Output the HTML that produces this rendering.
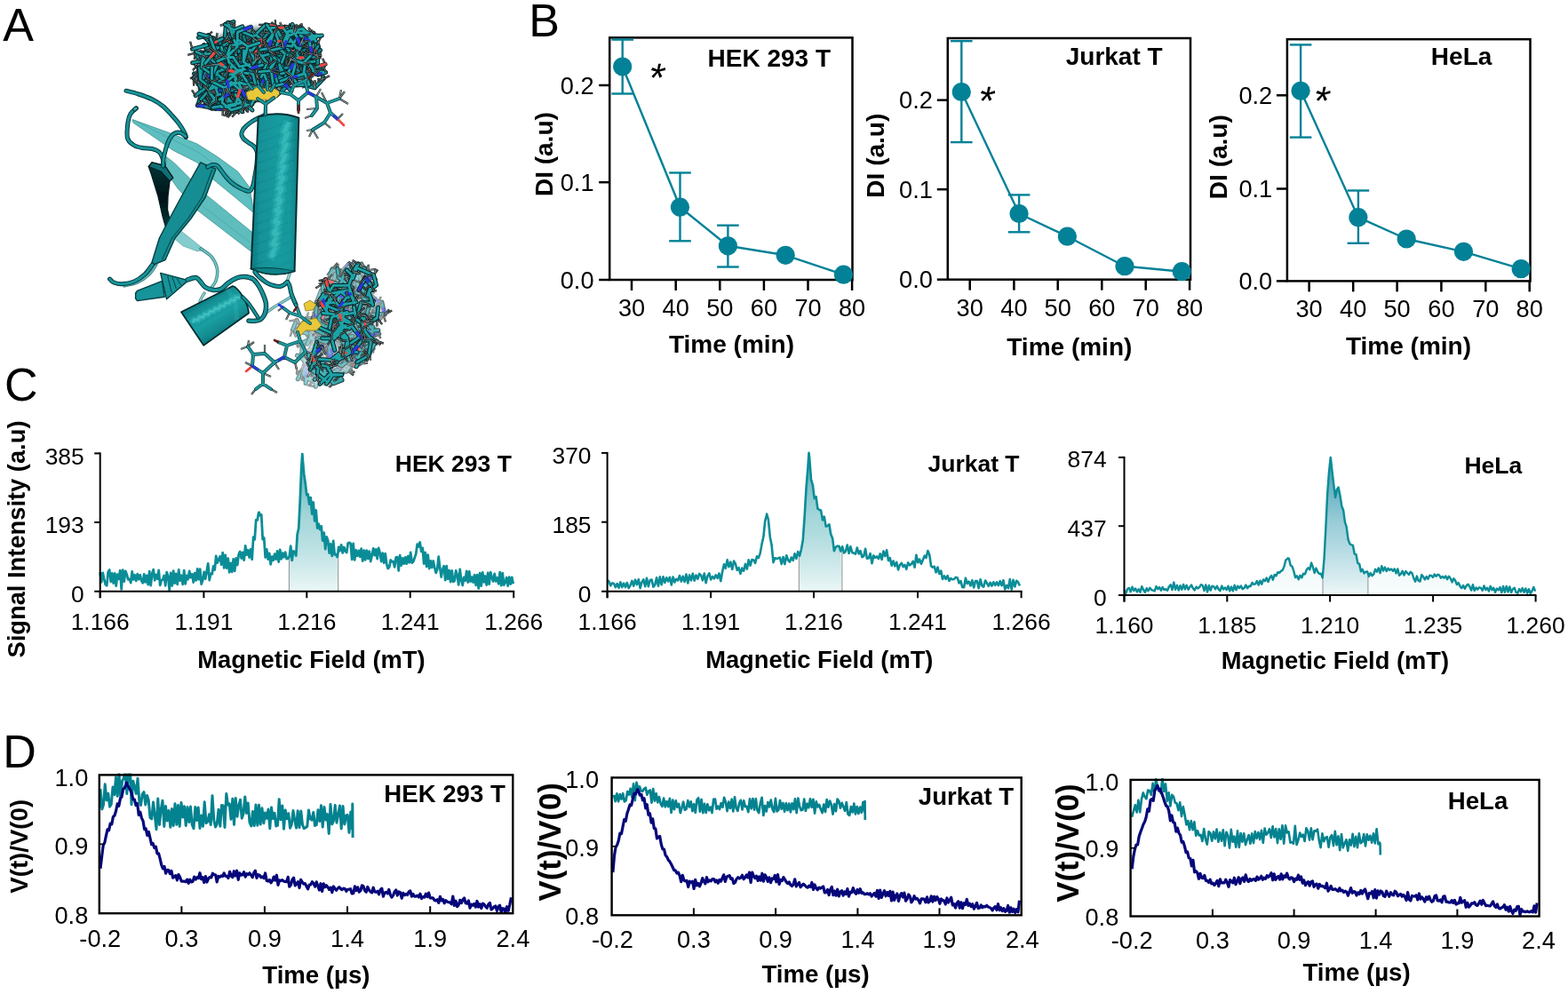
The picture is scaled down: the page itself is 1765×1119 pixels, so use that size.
<!DOCTYPE html>
<html lang="en"><head><meta charset="utf-8"><title>Figure</title>
<style>html,body{margin:0;padding:0;background:#fff}body{width:1765px;height:1119px;overflow:hidden;position:relative}svg{position:absolute;left:0;top:0;display:block}text{font-family:"Liberation Sans",sans-serif;fill:#000}</style></head><body>
<svg width="1765" height="1119" viewBox="0 0 1765 1119">
<defs><linearGradient id="gfill" x1="0" y1="0" x2="0" y2="1"><stop offset="0" stop-color="#2a9aa6" stop-opacity="0.85"/><stop offset="0.45" stop-color="#7cc4c9" stop-opacity="0.7"/><stop offset="1" stop-color="#eaf6f6" stop-opacity="0.9"/></linearGradient><linearGradient id="gfill3" x1="0" y1="0" x2="0" y2="1"><stop offset="0" stop-color="#2b8fa8" stop-opacity="0.9"/><stop offset="0.5" stop-color="#86c3d1" stop-opacity="0.75"/><stop offset="1" stop-color="#edf7f8" stop-opacity="0.9"/></linearGradient><linearGradient id="gfaint" x1="0" y1="0" x2="0" y2="1"><stop offset="0" stop-color="#b9dfe3" stop-opacity="0.7"/><stop offset="1" stop-color="#f4fbfb" stop-opacity="0.6"/></linearGradient></defs>
<rect width="1765" height="1119" fill="#fff"/>
<text x="3.3" y="45.5" font-size="52" text-anchor="start">A</text>
<text x="595.3" y="41.4" font-size="52" text-anchor="start">B</text>
<text x="4.9" y="450.6" font-size="52" text-anchor="start">C</text>
<text x="3.3" y="864.3" font-size="52" text-anchor="start">D</text>
<defs><linearGradient id="cyl" x1="0" y1="0" x2="1" y2="0"><stop offset="0" stop-color="#0c7a7f"/><stop offset="0.18" stop-color="#139197"/><stop offset="0.55" stop-color="#189b9f"/><stop offset="0.8" stop-color="#17999d"/><stop offset="1" stop-color="#0d7d82"/></linearGradient><linearGradient id="cyl2" gradientUnits="userSpaceOnUse" x1="232" y1="335" x2="254" y2="372"><stop offset="0" stop-color="#0d7d82"/><stop offset="0.25" stop-color="#16969a"/><stop offset="0.6" stop-color="#1a9ea1"/><stop offset="1" stop-color="#0e8085"/></linearGradient><linearGradient id="twist" x1="0" y1="0" x2="0" y2="1"><stop offset="0" stop-color="#04383c"/><stop offset="0.5" stop-color="#011214"/><stop offset="1" stop-color="#06474b"/></linearGradient><filter id="soft" x="-5%" y="-5%" width="110%" height="110%"><feGaussianBlur stdDeviation="0.6"/></filter><filter id="cblur" x="-5%" y="-5%" width="110%" height="110%"><feGaussianBlur stdDeviation="0.55"/></filter><filter id="blur3" x="-20%" y="-20%" width="140%" height="140%"><feGaussianBlur stdDeviation="3"/></filter></defs>
<g filter="url(#soft)">
<path d="M149.1 134.6 L194.7 151 L222 162 L244.8 176.5 L267.6 193 L281 211 L286 240 L262 220 L240 202 L222 183 L194.7 169.2 L176.5 156.5 L150 138.2 Z" fill="#48b6b7" fill-opacity="0.88" stroke="#2d7f80" stroke-width="0.9" stroke-opacity="0.7"/>
<path d="M152 136 L196 158 L224 172 L246 188 L270 208 L284 226" fill="none" stroke="#3f9999" stroke-width="0.8" stroke-opacity="0.7"/>
<path d="M187.4 176.5 L196.5 183.8 L213 200.2 L232 219.2 L284.5 262 L282.4 283 L222 236.5 L200 212 L186 192 Z" fill="#43b1b2" fill-opacity="0.85" stroke="#2d7f80" stroke-width="0.9" stroke-opacity="0.7"/>
<path d="M228 232 L283 274" fill="none" stroke="#3f9999" stroke-width="0.8" stroke-opacity="0.6"/>
<path d="M196 254 L214 268 L230 281 L222 283 L206 277 L193 266 Z" fill="#6fc3c4" fill-opacity="0.85" stroke="#3b8686" stroke-width="0.7" stroke-opacity="0.6"/>
<g opacity="0.9" fill="none" stroke-linecap="round" stroke-linejoin="round"><path d="M226 280 C228 281.5 234.9 285.2 238 289 C241.1 292.8 243.7 298.5 244.5 303 C245.3 307.5 244.2 312.3 243 316 C241.8 319.7 238 323.5 237 325" stroke="#2f7f80" stroke-width="3.6"/><path d="M226 280 C228 281.5 234.9 285.2 238 289 C241.1 292.8 243.7 298.5 244.5 303 C245.3 307.5 244.2 312.3 243 316 C241.8 319.7 238 323.5 237 325" stroke="#6cc6c6" stroke-width="1.6"/></g>
<g opacity="0.85" fill="none" stroke-linecap="round" stroke-linejoin="round"><path d="M300 318 C302 318.7 308.3 322 312 322 C315.7 322 319.7 320.3 322 318 C324.3 315.7 325.3 309.7 326 308" stroke="#3f8888" stroke-width="3.6"/><path d="M300 318 C302 318.7 308.3 322 312 322 C315.7 322 319.7 320.3 322 318 C324.3 315.7 325.3 309.7 326 308" stroke="#7fcdcd" stroke-width="1.6"/></g>
<g opacity="0.85" fill="none" stroke-linecap="round" stroke-linejoin="round"><path d="M300 352 C301.3 351 305 348 308 346 C311 344 314.7 342 318 340 C321.3 338 326.3 335 328 334" stroke="#3f8888" stroke-width="3.4"/><path d="M300 352 C301.3 351 305 348 308 346 C311 344 314.7 342 318 340 C321.3 338 326.3 335 328 334" stroke="#7fcdcd" stroke-width="1.4"/></g>
<g opacity="0.85" fill="none" stroke-linecap="round" stroke-linejoin="round"><path d="M230 330 C229.2 331.7 225.3 337 225 340 C224.7 343 227.5 346.7 228 348" stroke="#3f8888" stroke-width="3.4"/><path d="M230 330 C229.2 331.7 225.3 337 225 340 C224.7 343 227.5 346.7 228 348" stroke="#7fcdcd" stroke-width="1.4"/></g>
<g opacity="0.9" fill="none" stroke-linecap="round" stroke-linejoin="round"><path d="M176 298 C174.7 299.8 171.5 305.7 168 309 C164.5 312.3 159.7 315.8 155 318 C150.3 320.2 142.5 321.3 140 322" stroke="#2f7b7c" stroke-width="3.2"/><path d="M176 298 C174.7 299.8 171.5 305.7 168 309 C164.5 312.3 159.7 315.8 155 318 C150.3 320.2 142.5 321.3 140 322" stroke="#54b9ba" stroke-width="1.2"/></g>
<path d="M167.3 187.5 L171 182.9 L185.6 186.5 L194.7 200.2 L191 203.9 L189 221 L188.5 236 L192 252 L189 264 L183.2 244 L178 221 L170 195 Z" fill="url(#twist)" stroke="#021c1e" stroke-width="1.3" stroke-linejoin="round"/>
<path d="M167.3 187.5 L171 182.9 L185.6 186.5 L194.7 200.2 L191 203.9 L181 193 Z" fill="#0c6f74" stroke="#021c1e" stroke-width="1.2" stroke-linejoin="round"/>
<g fill="none" stroke-linecap="round" stroke-linejoin="round"><path d="M153.5 122 C152.4 123 148.6 125.4 147 128 C145.4 130.6 144.6 133 144 137.6 C143.4 142.2 142.5 151.1 143.5 155.3 C144.5 159.5 147.2 161.1 150 163 C152.8 164.9 156.5 165.8 160 166.5 C163.5 167.2 168 166.8 171.2 167.5 C174.4 168.2 177 169.2 179 171 C181 172.8 182.1 175.3 183 178 C183.9 180.7 184.2 185.5 184.5 187" stroke="#04353a" stroke-width="5"/><path d="M153.5 122 C152.4 123 148.6 125.4 147 128 C145.4 130.6 144.6 133 144 137.6 C143.4 142.2 142.5 151.1 143.5 155.3 C144.5 159.5 147.2 161.1 150 163 C152.8 164.9 156.5 165.8 160 166.5 C163.5 167.2 168 166.8 171.2 167.5 C174.4 168.2 177 169.2 179 171 C181 172.8 182.1 175.3 183 178 C183.9 180.7 184.2 185.5 184.5 187" stroke="#149499" stroke-width="3"/></g>
<ellipse cx="152.3" cy="122.5" rx="3" ry="2" transform="rotate(-40 152.3 122.5)" fill="#3aa5a7" stroke="#063f42" stroke-width="1"/>
<g fill="none" stroke-linecap="round" stroke-linejoin="round"><path d="M142 102.2 C144.3 102.8 151.1 104.4 156 106 C160.9 107.6 166.5 109.5 171.2 111.8 C175.9 114.1 180.2 116.8 184 120 C187.8 123.2 191.3 127.5 194.3 130.8 C197.3 134.1 199.7 136.8 202 140 C204.3 143.2 206.7 147.4 207.9 149.8 C209.1 152.2 209.1 153.7 209.3 154.5" stroke="#04353a" stroke-width="5"/><path d="M142 102.2 C144.3 102.8 151.1 104.4 156 106 C160.9 107.6 166.5 109.5 171.2 111.8 C175.9 114.1 180.2 116.8 184 120 C187.8 123.2 191.3 127.5 194.3 130.8 C197.3 134.1 199.7 136.8 202 140 C204.3 143.2 206.7 147.4 207.9 149.8 C209.1 152.2 209.1 153.7 209.3 154.5" stroke="#149499" stroke-width="3"/></g>
<g fill="none" stroke-linecap="round" stroke-linejoin="round"><path d="M209 153.5 C208 152.8 205 150.1 203 149.5 C201 148.9 198.8 149.1 197 149.8 C195.2 150.6 193.8 152.2 192.5 154 C191.2 155.8 190 158 188.9 160.7 C187.8 163.4 186.8 167.1 186 170 C185.2 172.9 184.5 175.6 184.1 178.4 C183.7 181.2 183.7 185.6 183.6 187" stroke="#04353a" stroke-width="5"/><path d="M209 153.5 C208 152.8 205 150.1 203 149.5 C201 148.9 198.8 149.1 197 149.8 C195.2 150.6 193.8 152.2 192.5 154 C191.2 155.8 190 158 188.9 160.7 C187.8 163.4 186.8 167.1 186 170 C185.2 172.9 184.5 175.6 184.1 178.4 C183.7 181.2 183.7 185.6 183.6 187" stroke="#149499" stroke-width="3"/></g>
<path d="M225.7 182.9 L236 187.5 L243 190.2 L231.2 222 L215 246 L197 268 L186.1 292.5 L169.8 299.3 L179.4 268 L192 244 L203.8 222 Z" fill="#128d92" stroke="#063f42" stroke-width="1.4" stroke-linejoin="round"/>
<path d="M239 190.5 L227.5 222 L211.5 246 L193.5 268 L182.5 292" fill="none" stroke="#063f42" stroke-width="1"/>
<g fill="none" stroke-linecap="round" stroke-linejoin="round"><path d="M233.7 187.9 C234.6 187.5 237.2 185.7 239 185.5 C240.8 185.3 242.9 185.4 244.6 186.5 C246.3 187.6 247.4 189.9 249 192 C250.6 194.1 252.3 196.6 254.1 198.8 C255.9 201 257.9 203.2 260 205 C262.1 206.8 264.1 208.3 266.4 209.7 C268.7 211.1 271.5 212.6 274 213.5 C276.5 214.4 279.5 216 281.3 215.1 C283.1 214.2 284.1 210.7 285 208 C285.9 205.3 286.1 202.6 286.8 198.8 C287.5 195 288.6 189.5 289 185 C289.4 180.5 290 174.9 289.5 171.6 C289 168.3 287.6 166.8 286 165 C284.4 163.2 282 162.2 280 160.7 C278 159.2 275.4 157.6 274 156 C272.6 154.4 271.9 152.9 271.8 151.2 C271.7 149.5 272.6 147.6 273.5 146 C274.4 144.4 275.6 143.3 277.3 141.7 C279.1 140.1 281.5 138.1 284 136.5 C286.5 134.9 289.8 133.4 292.2 132.2 C294.6 131 297.3 129.9 298.3 129.4" stroke="#04353a" stroke-width="5"/><path d="M233.7 187.9 C234.6 187.5 237.2 185.7 239 185.5 C240.8 185.3 242.9 185.4 244.6 186.5 C246.3 187.6 247.4 189.9 249 192 C250.6 194.1 252.3 196.6 254.1 198.8 C255.9 201 257.9 203.2 260 205 C262.1 206.8 264.1 208.3 266.4 209.7 C268.7 211.1 271.5 212.6 274 213.5 C276.5 214.4 279.5 216 281.3 215.1 C283.1 214.2 284.1 210.7 285 208 C285.9 205.3 286.1 202.6 286.8 198.8 C287.5 195 288.6 189.5 289 185 C289.4 180.5 290 174.9 289.5 171.6 C289 168.3 287.6 166.8 286 165 C284.4 163.2 282 162.2 280 160.7 C278 159.2 275.4 157.6 274 156 C272.6 154.4 271.9 152.9 271.8 151.2 C271.7 149.5 272.6 147.6 273.5 146 C274.4 144.4 275.6 143.3 277.3 141.7 C279.1 140.1 281.5 138.1 284 136.5 C286.5 134.9 289.8 133.4 292.2 132.2 C294.6 131 297.3 129.9 298.3 129.4" stroke="#149499" stroke-width="3"/></g>
<g fill="none" stroke-linecap="round" stroke-linejoin="round"><path d="M171.5 298 C170.1 299.8 166.4 305.6 163 308.8 C159.6 312 155.1 315.2 150.8 317 C146.5 318.8 141 319.5 137.2 319.7 C133.4 319.9 130.3 318.9 128 318 C125.7 317.1 124.3 314.8 123.6 314.2" stroke="#04353a" stroke-width="5"/><path d="M171.5 298 C170.1 299.8 166.4 305.6 163 308.8 C159.6 312 155.1 315.2 150.8 317 C146.5 318.8 141 319.5 137.2 319.7 C133.4 319.9 130.3 318.9 128 318 C125.7 317.1 124.3 314.8 123.6 314.2" stroke="#149499" stroke-width="3"/></g>
<path d="M154.5 327.3 L182.5 316.3 L185.2 334.2 L154.5 338.6 L152.6 336 L152.6 330 Z" fill="#149499" stroke="#063f42" stroke-width="1.4" stroke-linejoin="round"/>
<path d="M180.7 307.4 L212 315.6 L187.5 336.7 Z" fill="#149499" stroke="#063f42" stroke-width="1.4" stroke-linejoin="round"/>
<path d="M188.7 310.8 L193.3 329.3" stroke="#063f42" stroke-width="1" fill="none"/>
<path d="M193.9 312.1 L198.5 325.1" stroke="#063f42" stroke-width="1" fill="none"/>
<path d="M199.1 313.4 L203.7 320.9" stroke="#063f42" stroke-width="1" fill="none"/>
<path d="M204 351.2 L262 322 C268.5 324 279.5 341 280 352.5 L229.2 388.8 Z" fill="url(#cyl2)" stroke="#03292d" stroke-width="1.7" stroke-linejoin="round"/>
<path d="M217 363.5 L218.3 359.9 L222.9 360.3 L224.2 356.7 L228.8 357.2 L230.1 353.6 L234.7 354 L236 350.4 L240.6 350.8 L241.9 347.2 L246.4 347.7 L247.7 344.1 L252.3 344.5 L253.6 340.9 L258.2 341.3 L259.5 337.7 L264.1 338.2 L265.4 334.6 L270 335" fill="none" stroke="#45cccb" stroke-width="6.5" stroke-opacity="0.33" stroke-linejoin="round"/>
<path d="M217 363.5 L218.3 359.9 L222.9 360.3 L224.2 356.7 L228.8 357.2 L230.1 353.6 L234.7 354 L236 350.4 L240.6 350.8 L241.9 347.2 L246.4 347.7 L247.7 344.1 L252.3 344.5 L253.6 340.9 L258.2 341.3 L259.5 337.7 L264.1 338.2 L265.4 334.6 L270 335" fill="none" stroke="#6fe0dc" stroke-width="2.4" stroke-opacity="0.4" stroke-linejoin="round"/>
<path d="M252 323 C262 330 268 345 266 360" fill="none" stroke="#3fc4c4" stroke-width="5" stroke-opacity="0.22"/>
<g fill="none" stroke-linecap="round" stroke-linejoin="round"><path d="M211 315 C212 314.7 215.2 313.4 217 313 C218.8 312.6 220 312.1 221.5 312.9 C223 313.6 224.4 315.7 226 317.5 C227.6 319.3 228.9 322 231.3 323.5 C233.7 325 237.6 326.2 240.5 326.5 C243.4 326.8 246.2 326.5 249 325.2 C251.8 323.9 254.1 320.6 257 318.5 C259.9 316.4 263.4 314.1 266.4 312.9 C269.4 311.7 272 311.3 275 311.5 C278 311.7 281.7 312.2 284.4 313.9 C287.1 315.6 289 318.6 291 321.5 C293 324.4 294.8 328.4 296.2 331.6 C297.6 334.9 298.8 338.1 299.3 341 C299.8 343.9 299.5 346.9 299.1 349.3 C298.7 351.7 298 353.8 297 355.5 C296 357.2 294.9 358.6 293.2 359.6 C291.5 360.6 289.2 361.1 287 361.3 C284.8 361.6 281.2 361.1 280 361.1" stroke="#04353a" stroke-width="5.4"/><path d="M211 315 C212 314.7 215.2 313.4 217 313 C218.8 312.6 220 312.1 221.5 312.9 C223 313.6 224.4 315.7 226 317.5 C227.6 319.3 228.9 322 231.3 323.5 C233.7 325 237.6 326.2 240.5 326.5 C243.4 326.8 246.2 326.5 249 325.2 C251.8 323.9 254.1 320.6 257 318.5 C259.9 316.4 263.4 314.1 266.4 312.9 C269.4 311.7 272 311.3 275 311.5 C278 311.7 281.7 312.2 284.4 313.9 C287.1 315.6 289 318.6 291 321.5 C293 324.4 294.8 328.4 296.2 331.6 C297.6 334.9 298.8 338.1 299.3 341 C299.8 343.9 299.5 346.9 299.1 349.3 C298.7 351.7 298 353.8 297 355.5 C296 357.2 294.9 358.6 293.2 359.6 C291.5 360.6 289.2 361.1 287 361.3 C284.8 361.6 281.2 361.1 280 361.1" stroke="#149499" stroke-width="3.4"/></g>
<g fill="none" stroke-linecap="round" stroke-linejoin="round"><path d="M273.4 334.6 C274.3 335.6 277.1 338.1 279 340.5 C280.9 342.9 283.1 346.2 285 349 C286.9 351.8 289.6 356.1 290.5 357.5" stroke="#04353a" stroke-width="4.4"/><path d="M273.4 334.6 C274.3 335.6 277.1 338.1 279 340.5 C280.9 342.9 283.1 346.2 285 349 C286.9 351.8 289.6 356.1 290.5 357.5" stroke="#149499" stroke-width="2.4"/></g>
<path d="M290.7 131.5 Q313 124.5 336.4 132.6 L331.6 305.3 Q307 313.5 282.6 302.6 Z" fill="url(#cyl)" stroke="#03292d" stroke-width="1.9" stroke-linejoin="round"/>
<path d="M282.6 302.6 Q307 299.5 331.6 305.3 Q307 313.5 282.6 302.6 Z" fill="#108489" stroke="#063f42" stroke-width="1.1"/>
<path d="M325 137 L320.1 149 L323.7 149.6 L318.8 161.6 L322.4 162.2 L317.5 174.2 L321.1 174.8 L316.2 186.8 L319.8 187.4 L314.9 199.4 L318.5 200 L313.6 212 L317.2 212.6 L312.3 224.6 L315.9 225.2 L311 237.2 L314.6 237.8 L309.7 249.8 L313.3 250.4 L308.4 262.4 L312 263 L307.1 275 L310.7 275.6 L305.8 287.6 L309.4 288.2" fill="none" stroke="#3cc4c4" stroke-width="11" stroke-opacity="0.3" stroke-linejoin="round"/>
<path d="M325 137 L320.1 149 L323.7 149.6 L318.8 161.6 L322.4 162.2 L317.5 174.2 L321.1 174.8 L316.2 186.8 L319.8 187.4 L314.9 199.4 L318.5 200 L313.6 212 L317.2 212.6 L312.3 224.6 L315.9 225.2 L311 237.2 L314.6 237.8 L309.7 249.8 L313.3 250.4 L308.4 262.4 L312 263 L307.1 275 L310.7 275.6 L305.8 287.6 L309.4 288.2" fill="none" stroke="#5cd8d5" stroke-width="5" stroke-opacity="0.36" stroke-linejoin="round"/>
<path d="M289 150 L333 134 M288.6 161.5 L332.6 145.5 M288.1 173 L332.1 157 M287.6 184.5 L331.6 168.5 M287.2 196 L331.2 180 M286.8 207.5 L330.8 191.5 M286.3 219 L330.3 203 M285.9 230.5 L329.9 214.5 M285.4 242 L329.4 226 M284.9 253.5 L328.9 237.5 M284.5 265 L328.5 249 M284.1 276.5 L328.1 260.5 M283.6 288 L327.6 272 M283.1 299.5 L327.1 283.5 M282.7 311 L326.7 295 " stroke="#0a6065" stroke-width="1.8" stroke-opacity="0.12" fill="none"/>
<g fill="none" stroke-linecap="round" stroke-linejoin="round"><path d="M286.8 306.1 C287.7 307.1 289.7 310 292 312 C294.3 314 297.7 316.7 300.4 318.3 C303.1 319.9 305.5 320.8 308 321.5 C310.5 322.2 313.4 322.6 315.4 322.4 C317.4 322.2 318.6 321.4 320 320.5 C321.4 319.6 322.5 316.9 323.5 317.2 C324.5 317.4 325.3 320 326 322 C326.7 324 326.9 326.9 327.6 329.2 C328.3 331.5 329.1 333.7 330 336 C330.9 338.3 332.5 341.7 333 342.8" stroke="#04353a" stroke-width="5"/><path d="M286.8 306.1 C287.7 307.1 289.7 310 292 312 C294.3 314 297.7 316.7 300.4 318.3 C303.1 319.9 305.5 320.8 308 321.5 C310.5 322.2 313.4 322.6 315.4 322.4 C317.4 322.2 318.6 321.4 320 320.5 C321.4 319.6 322.5 316.9 323.5 317.2 C324.5 317.4 325.3 320 326 322 C326.7 324 326.9 326.9 327.6 329.2 C328.3 331.5 329.1 333.7 330 336 C330.9 338.3 332.5 341.7 333 342.8" stroke="#149499" stroke-width="3"/></g>
<g fill="none"><path d="M298.5 129.5L299 117M299 117L290 111M299 117L309 110" stroke="#0a3e42" stroke-width="3.9" stroke-linecap="round"/><path d="M298.5 129.5L299 117M299 117L290 111M299 117L309 110" stroke="#1b979b" stroke-width="2.5" stroke-linecap="round"/></g>
<g filter="url(#cblur)">
<ellipse cx="292" cy="67" rx="64.5" ry="35.3" transform="rotate(0 292 67)" fill="#06363b" fill-opacity="0.8" filter="url(#blur3)"/><ellipse cx="254" cy="108" rx="31" ry="14.3" transform="rotate(5.7 254 108)" fill="#06363b" fill-opacity="0.8" filter="url(#blur3)"/><g fill="none" stroke-linecap="butt"><path d="M235.2 59L241.9 54.3M235.2 59L226 57.7M232.1 71.4L223.7 70.7M232.1 71.4L226.7 67.4M232.1 71.4L222.9 68.2M329.7 49.9L337.7 45.2M322.5 58.7L322.8 50.1M278.2 66.3L273.7 57.7M278.2 66.3L279.9 72.2M294.4 75.5L285.4 76.1M294.4 75.5L285.2 77.4M333.2 58.9L338.8 61.6M339.5 67.1L332.7 67.6M339.5 67.1L345.3 62.1M343 86.2L347.9 90.3M343 86.2L351.2 87.3M343 86.2L348.3 93M331.4 77.1L337 72M331.4 77.1L336 68.4M331.4 77.1L324 83.2M318.5 83L316 77.5M318.5 83L320.2 92.4M345.1 63.2L335.8 64.6M345.1 63.2L339.4 60.5M345.1 63.2L337.8 62.4M360.6 56.5L358.3 47.1M360.6 56.5L360.7 64.2M346.2 67.1L340.5 61.2M346.2 67.1L347.7 60.6M347.9 77L355.5 72.5M347.9 77L340 75.1M347.9 77L342 72.5M325.7 89.2L322.9 83.5M325.7 89.2L332.7 94M325.7 89.2L329.6 82.7M312.3 77.3L308.3 83.6M312.3 77.3L308.8 82.3M312.3 77.3L309.5 85.9M278.9 84.8L284.6 78.1M278.9 84.8L286.4 89.3M278.9 84.8L279.6 75.8M272.3 72.9L280.5 71.2M272.3 72.9L279.3 68.7M278.2 60.7L268.4 59.5M278.2 60.7L282.3 66.7M278.2 60.7L270.5 62.7M295.1 62L294.7 52.2M270 108.5L279.5 109.3M270 108.5L268 117M270 108.5L268 114.8M271.7 95.2L277.8 98.9M271.7 95.2L278.9 97.2M260.5 83.6L253.3 89.6M250.5 84.2L256.8 88.8M250.5 84.2L251.2 77.6M250.5 84.2L249.9 92.7M264.8 78.9L270.8 77.1M264.8 78.9L268.4 87.7M252.3 86.7L255.3 92.1M252.3 86.7L255.1 94.9M249.5 98.4L257.3 102.5M234 101L235.3 94.9M241.5 108.2L238.5 101.2M241.5 108.2L234.5 103.4M225.7 108.7L233.3 113.8M225.7 108.7L231.8 116.3M238.4 77.1L236.5 71.1M238.4 77.1L235.8 68.6M238.4 77.1L238.4 70.1" stroke="#0c1515" stroke-width="2.3"/><path d="M235.2 59L241.9 54.3M235.2 59L226 57.7M232.1 71.4L223.7 70.7M232.1 71.4L226.7 67.4M232.1 71.4L222.9 68.2M329.7 49.9L337.7 45.2M322.5 58.7L322.8 50.1M278.2 66.3L273.7 57.7M278.2 66.3L279.9 72.2M294.4 75.5L285.4 76.1M294.4 75.5L285.2 77.4M333.2 58.9L338.8 61.6M339.5 67.1L332.7 67.6M339.5 67.1L345.3 62.1M343 86.2L347.9 90.3M343 86.2L351.2 87.3M343 86.2L348.3 93M331.4 77.1L337 72M331.4 77.1L336 68.4M331.4 77.1L324 83.2M318.5 83L316 77.5M318.5 83L320.2 92.4M345.1 63.2L335.8 64.6M345.1 63.2L339.4 60.5M345.1 63.2L337.8 62.4M360.6 56.5L358.3 47.1M360.6 56.5L360.7 64.2M346.2 67.1L340.5 61.2M346.2 67.1L347.7 60.6M347.9 77L355.5 72.5M347.9 77L340 75.1M347.9 77L342 72.5M325.7 89.2L322.9 83.5M325.7 89.2L332.7 94M325.7 89.2L329.6 82.7M312.3 77.3L308.3 83.6M312.3 77.3L308.8 82.3M312.3 77.3L309.5 85.9M278.9 84.8L284.6 78.1M278.9 84.8L286.4 89.3M278.9 84.8L279.6 75.8M272.3 72.9L280.5 71.2M272.3 72.9L279.3 68.7M278.2 60.7L268.4 59.5M278.2 60.7L282.3 66.7M278.2 60.7L270.5 62.7M295.1 62L294.7 52.2M270 108.5L279.5 109.3M270 108.5L268 117M270 108.5L268 114.8M271.7 95.2L277.8 98.9M271.7 95.2L278.9 97.2M260.5 83.6L253.3 89.6M250.5 84.2L256.8 88.8M250.5 84.2L251.2 77.6M250.5 84.2L249.9 92.7M264.8 78.9L270.8 77.1M264.8 78.9L268.4 87.7M252.3 86.7L255.3 92.1M252.3 86.7L255.1 94.9M249.5 98.4L257.3 102.5M234 101L235.3 94.9M241.5 108.2L238.5 101.2M241.5 108.2L234.5 103.4M225.7 108.7L233.3 113.8M225.7 108.7L231.8 116.3M238.4 77.1L236.5 71.1M238.4 77.1L235.8 68.6M238.4 77.1L238.4 70.1" stroke="#9aa6a6" stroke-width="0.65"/><path d="M229.5 50.6L235.2 59M235.2 59L246.9 56M235.2 59L232.1 71.4M324.3 37.4L329.7 49.9M329.7 49.9L342.7 51M329.7 49.9L322.5 58.7M263.8 76.2L278.2 66.3M278.2 66.3L294.4 75.5M336.7 45.4L333.2 58.9M333.2 58.9L341.5 65.6M333.2 58.9L339.5 67.1M339.5 67.1L334.9 77.3M359.4 77.3L343 86.2M343 86.2L331.4 77.1M331.4 77.1L333.5 69.1M331.4 77.1L318.5 83M318.5 83L311.1 75.2M342.2 76.8L345.1 63.2M345.1 63.2L356.5 59.6M345.1 63.2L360.6 56.5M360.6 56.5L346.2 67.1M346.2 67.1L338.5 61.9M346.2 67.1L347.9 77M337.2 84.8L325.7 89.2M325.7 89.2L312.3 77.3M312.3 77.3L316.9 65.4M290.8 83.2L278.9 84.8M278.9 84.8L272.3 72.9M272.3 72.9L278.2 60.7M278.2 60.7L295.1 62M295.1 62L300.3 69.6M282.6 118.8L270 108.5M270 108.5L271.7 95.2M271.7 95.2L260.5 83.6M260.5 83.6L250.5 84.2M278.2 86.2L264.8 78.9M264.8 78.9L252.3 86.7M252.3 86.7L253.7 95.2M252.3 86.7L249.5 98.4M249.5 98.4L259.6 104.5M249.5 98.4L234 101M245.9 99L241.5 108.2M241.5 108.2L245.7 116.5M241.5 108.2L225.7 108.7M225.7 108.7L222.8 118.8M228 70L238.4 77.1M238.4 77.1L236 93.9M236 93.9L247 100.6M236 93.9L246 101.2M250.8 78.6L256.3 93.8M256.3 93.8L245.2 103.1M245.2 103.1L228.2 102M228.2 102L232.7 87.1M319.7 74L331.6 70.8M331.6 70.8L334.8 60M334.8 60L347.7 54.1M347.7 54.1L353.5 59.8M278.1 85.5L294.6 76.1M294.6 76.1L303.5 82.9M294.6 76.1L294.2 65.6M304.6 86.4L295.5 79.6M295.5 79.6L281.5 85.5M262.9 124.2L267.5 109.2M267.5 109.2L261 98.9M261 98.9L247.5 96.6M247.5 96.6L244 87.5M332.8 78.5L319 79.3M319 79.3L314.2 90M319 79.3L308.3 67.4M308.3 67.4L314.9 55.8M314.9 55.8L324.9 58M314.9 55.8L306.4 39.4M306.4 39.4L314.4 30.5M268 68.3L268.6 51.6M268.6 51.6L257 38.8M287.8 72.6L276.6 69.4M276.6 69.4L271.2 56.9M355.9 58.5L354 41.2M354 41.2L347.4 52.7M347.4 52.7L356.1 62.1M347.4 52.7L336.2 52.4M336.2 52.4L330.8 62.3M336.2 52.4L324.8 65.5M324.8 65.5L314.8 65.1M243 73.1L253.4 69.1M253.4 69.1L254.2 54.8M254.2 54.8L267.1 49M267.1 49L267.9 40.2M274.3 40.8L277.1 50.8M277.1 50.8L267.4 64.7M267.4 64.7L253.5 65.9M253.5 65.9L245.2 51.7M320.9 32.3L332.2 40.4M332.2 40.4L330.9 58.6" stroke="#03262a" stroke-width="4.9" stroke-linecap="round"/><path d="M229.5 50.6L235.2 59M235.2 59L246.9 56M235.2 59L232.1 71.4M324.3 37.4L329.7 49.9M329.7 49.9L342.7 51M329.7 49.9L322.5 58.7M263.8 76.2L278.2 66.3M278.2 66.3L294.4 75.5M336.7 45.4L333.2 58.9M333.2 58.9L341.5 65.6M333.2 58.9L339.5 67.1M339.5 67.1L334.9 77.3M359.4 77.3L343 86.2M343 86.2L331.4 77.1M331.4 77.1L333.5 69.1M331.4 77.1L318.5 83M318.5 83L311.1 75.2M342.2 76.8L345.1 63.2M345.1 63.2L356.5 59.6M345.1 63.2L360.6 56.5M360.6 56.5L346.2 67.1M346.2 67.1L338.5 61.9M346.2 67.1L347.9 77M337.2 84.8L325.7 89.2M325.7 89.2L312.3 77.3M312.3 77.3L316.9 65.4M290.8 83.2L278.9 84.8M278.9 84.8L272.3 72.9M272.3 72.9L278.2 60.7M278.2 60.7L295.1 62M295.1 62L300.3 69.6M282.6 118.8L270 108.5M270 108.5L271.7 95.2M271.7 95.2L260.5 83.6M260.5 83.6L250.5 84.2M278.2 86.2L264.8 78.9M264.8 78.9L252.3 86.7M252.3 86.7L253.7 95.2M252.3 86.7L249.5 98.4M249.5 98.4L259.6 104.5M249.5 98.4L234 101M245.9 99L241.5 108.2M241.5 108.2L245.7 116.5M241.5 108.2L225.7 108.7M225.7 108.7L222.8 118.8M228 70L238.4 77.1M238.4 77.1L236 93.9M236 93.9L247 100.6M236 93.9L246 101.2M250.8 78.6L256.3 93.8M256.3 93.8L245.2 103.1M245.2 103.1L228.2 102M228.2 102L232.7 87.1M319.7 74L331.6 70.8M331.6 70.8L334.8 60M334.8 60L347.7 54.1M347.7 54.1L353.5 59.8M278.1 85.5L294.6 76.1M294.6 76.1L303.5 82.9M294.6 76.1L294.2 65.6M304.6 86.4L295.5 79.6M295.5 79.6L281.5 85.5M262.9 124.2L267.5 109.2M267.5 109.2L261 98.9M261 98.9L247.5 96.6M247.5 96.6L244 87.5M332.8 78.5L319 79.3M319 79.3L314.2 90M319 79.3L308.3 67.4M308.3 67.4L314.9 55.8M314.9 55.8L324.9 58M314.9 55.8L306.4 39.4M306.4 39.4L314.4 30.5M268 68.3L268.6 51.6M268.6 51.6L257 38.8M287.8 72.6L276.6 69.4M276.6 69.4L271.2 56.9M355.9 58.5L354 41.2M354 41.2L347.4 52.7M347.4 52.7L356.1 62.1M347.4 52.7L336.2 52.4M336.2 52.4L330.8 62.3M336.2 52.4L324.8 65.5M324.8 65.5L314.8 65.1M243 73.1L253.4 69.1M253.4 69.1L254.2 54.8M254.2 54.8L267.1 49M267.1 49L267.9 40.2M274.3 40.8L277.1 50.8M277.1 50.8L267.4 64.7M267.4 64.7L253.5 65.9M253.5 65.9L245.2 51.7M320.9 32.3L332.2 40.4M332.2 40.4L330.9 58.6" stroke="#107d82" stroke-width="2.8" stroke-linecap="round"/><path d="M286.3 70.9L294.4 75.5M343.6 70L345.1 63.2M319 83.2L312.3 77.3M275.3 66.8L278.2 60.7M250.7 98.4L245.2 103.1M286.3 80.8L294.6 76.1M282.2 71L276.6 69.4" stroke="#2a35e0" stroke-width="3.2" stroke-linecap="round"/><path d="M287.5 61.4L295.1 62M270.9 101.1L271.7 95.2M287.8 82.8L281.5 85.5M265.4 116L267.5 109.2M273.7 62.5L271.2 56.9M341.3 52.5L336.2 52.4M248.7 70.9L253.4 69.1M327.1 36.8L332.2 40.4" stroke="#f0453f" stroke-width="3.2" stroke-linecap="round"/><path d="M236 93.9L241.2 90.6M246 101.2L242.7 107.2M246 101.2L249.2 93.4M246 101.2L239.5 104.8M256.3 93.8L258 87.2M256.3 93.8L248.7 96.8M256.3 93.8L263 93M245.2 103.1L238.3 95.8M245.2 103.1L242.2 97.8M228.2 102L226.9 109M228.2 102L234 107.3M232.7 87.1L225.8 86.6M232.7 87.1L226.3 88.7M232.7 87.1L241.2 90M331.6 70.8L326.8 65.1M331.6 70.8L326.1 63.3M331.6 70.8L324 67.3M334.8 60L337.3 65.8M334.8 60L327.2 63.8M334.8 60L328.7 58.7M347.7 54.1L340.8 52.3M347.7 54.1L352.1 60M347.7 54.1L352.1 60.4M294.6 76.1L295.5 84.2M294.2 65.6L290 72.4M295.5 79.6L303.7 78M295.5 79.6L293.6 87.5M295.5 79.6L298.3 86.9M281.5 85.5L285 79.8M281.5 85.5L285.2 91.7M281.5 85.5L283.5 77.6M267.5 109.2L262 113.8M267.5 109.2L259 104.4M261 98.9L267.7 95M261 98.9L266.7 96.1M247.5 96.6L251.9 92.2M319 79.3L318.3 86.9M319 79.3L323.4 83.9M308.3 67.4L307.8 74.7M308.3 67.4L317.3 69.9M314.9 55.8L308.4 58.7M314.9 55.8L319.7 62.3M314.9 55.8L305.8 55.9M306.4 39.4L315.3 38.1M306.4 39.4L312.9 35.9M268.6 51.6L263.2 57.7M268.6 51.6L260.3 54.1M257 38.8L266.3 39.3M276.6 69.4L275.1 75.2M271.2 56.9L267.1 62.6M271.2 56.9L269 63.9M354 41.2L347.4 41.4M347.4 52.7L342.4 49.3M347.4 52.7L344.4 46.1M347.4 52.7L344.8 44.3M336.2 52.4L338.7 58.2M324.8 65.5L333.1 65M253.4 69.1L250.1 76.2M253.4 69.1L247.4 77M254.2 54.8L261.2 61.4M267.1 49L260.3 44M267.1 49L261.4 41.4M267.1 49L267.5 55.2M277.1 50.8L282.4 43.1M267.4 64.7L259.2 61.2M253.5 65.9L257.2 60.5M245.2 51.7L253 49.1M245.2 51.7L237.5 55.4M332.2 40.4L337.2 34.6M330.9 58.6L322 57.4" stroke="#0c1515" stroke-width="2.3"/><path d="M236 93.9L241.2 90.6M246 101.2L242.7 107.2M246 101.2L249.2 93.4M246 101.2L239.5 104.8M256.3 93.8L258 87.2M256.3 93.8L248.7 96.8M256.3 93.8L263 93M245.2 103.1L238.3 95.8M245.2 103.1L242.2 97.8M228.2 102L226.9 109M228.2 102L234 107.3M232.7 87.1L225.8 86.6M232.7 87.1L226.3 88.7M232.7 87.1L241.2 90M331.6 70.8L326.8 65.1M331.6 70.8L326.1 63.3M331.6 70.8L324 67.3M334.8 60L337.3 65.8M334.8 60L327.2 63.8M334.8 60L328.7 58.7M347.7 54.1L340.8 52.3M347.7 54.1L352.1 60M347.7 54.1L352.1 60.4M294.6 76.1L295.5 84.2M294.2 65.6L290 72.4M295.5 79.6L303.7 78M295.5 79.6L293.6 87.5M295.5 79.6L298.3 86.9M281.5 85.5L285 79.8M281.5 85.5L285.2 91.7M281.5 85.5L283.5 77.6M267.5 109.2L262 113.8M267.5 109.2L259 104.4M261 98.9L267.7 95M261 98.9L266.7 96.1M247.5 96.6L251.9 92.2M319 79.3L318.3 86.9M319 79.3L323.4 83.9M308.3 67.4L307.8 74.7M308.3 67.4L317.3 69.9M314.9 55.8L308.4 58.7M314.9 55.8L319.7 62.3M314.9 55.8L305.8 55.9M306.4 39.4L315.3 38.1M306.4 39.4L312.9 35.9M268.6 51.6L263.2 57.7M268.6 51.6L260.3 54.1M257 38.8L266.3 39.3M276.6 69.4L275.1 75.2M271.2 56.9L267.1 62.6M271.2 56.9L269 63.9M354 41.2L347.4 41.4M347.4 52.7L342.4 49.3M347.4 52.7L344.4 46.1M347.4 52.7L344.8 44.3M336.2 52.4L338.7 58.2M324.8 65.5L333.1 65M253.4 69.1L250.1 76.2M253.4 69.1L247.4 77M254.2 54.8L261.2 61.4M267.1 49L260.3 44M267.1 49L261.4 41.4M267.1 49L267.5 55.2M277.1 50.8L282.4 43.1M267.4 64.7L259.2 61.2M253.5 65.9L257.2 60.5M245.2 51.7L253 49.1M245.2 51.7L237.5 55.4M332.2 40.4L337.2 34.6M330.9 58.6L322 57.4" stroke="#9aa6a6" stroke-width="0.65"/></g><g fill="none" stroke-linecap="butt"><path d="M308.3 67.6L299.9 64.5M308.3 67.6L301 64.6M320.2 75.5L314.4 77.8M320.2 75.5L324.1 67.7M326 57.6L332.4 65M326 57.6L332.4 54.6M315.9 66.8L315.5 57.3M315.9 66.8L313 60.6M305.8 63.7L304.7 70.9M260.9 54L256.6 46.4M260.9 54L267 60.1M260.9 54L260.6 44.9M243.8 52.5L249 57M243.8 52.5L244.3 44.8M243.8 52.5L244.2 62.1M234.1 39.8L243.1 42.3M234.1 39.8L226.8 43.2M234.1 39.8L239 35.6M243.2 46.4L244.6 37M281.7 75L282.8 82M281.7 75L276.1 67.8M281.7 75L277.3 79.5M290.3 90.4L295.6 83.5M290.3 90.4L295.5 85.4M290.3 90.4L284.3 91.3M287 101.8L295.1 100.2M287 101.8L293.1 103.8M287 101.8L295.8 98.2M254.3 117.8L264.1 115.9M254.3 117.8L245.8 113.3M254.3 117.8L261.8 119.9M242.8 122.5L239.6 115.2M231.4 116.3L236.3 108.1M304.1 42.8L300.5 48.5M288.8 50.2L293.8 57.2M285.2 67.4L276 66.4M285.2 67.4L294.7 68.2M274.1 73.8L281.7 75.7M274.1 73.8L270.9 64.4M288.4 70.3L280.3 70.3M303.1 72.7L303.1 80.1M309.5 64L317.1 69.2M309.5 64L303.6 58.4M325.8 61.4L328.5 70.3M325.8 61.4L323 67.4M242.6 53.8L249.2 61M242.6 53.8L242.8 45.4M231.6 66.8L241.3 66.4M231.6 66.8L241.1 64.2M236 81.9L230.1 84.6M236 81.9L229.8 84.5M236 81.9L242.5 78.2M228.2 89L231.9 95.3M228.2 89L225.2 80.9M228.2 89L222.4 83M241 111.8L245 118.5M241 111.8L239.3 103.3M241 111.8L234.9 106.9M235.9 97.2L233.9 106.1M235.9 97.2L242.4 97.7M223.1 94.7L224.7 102.5M223.1 94.7L227.6 86.1M222.2 84.5L213.9 88.5M269.3 106.1L271.4 113.1M266.5 93.8L273.8 97.1M266.5 93.8L273 96.1M247.8 56L242.7 50.2M247.8 56L239.2 53.7M247.8 56L250.8 65.3M259.7 68.6L265.6 61.3M273.3 67.4L270 59.1M273.3 67.4L267.4 64M273.3 67.4L273.4 58.8M281.4 51.4L274.6 50.1M281.4 51.4L289.7 54M235.8 87L237.6 93.8M235.8 87L240.7 92.2M235.8 87L229 86.1M246.4 90.8L250 81.9M246.4 90.8L242.4 84.4M258.8 78.3L262.9 83.9" stroke="#0c1515" stroke-width="2.3"/><path d="M308.3 67.6L299.9 64.5M308.3 67.6L301 64.6M320.2 75.5L314.4 77.8M320.2 75.5L324.1 67.7M326 57.6L332.4 65M326 57.6L332.4 54.6M315.9 66.8L315.5 57.3M315.9 66.8L313 60.6M305.8 63.7L304.7 70.9M260.9 54L256.6 46.4M260.9 54L267 60.1M260.9 54L260.6 44.9M243.8 52.5L249 57M243.8 52.5L244.3 44.8M243.8 52.5L244.2 62.1M234.1 39.8L243.1 42.3M234.1 39.8L226.8 43.2M234.1 39.8L239 35.6M243.2 46.4L244.6 37M281.7 75L282.8 82M281.7 75L276.1 67.8M281.7 75L277.3 79.5M290.3 90.4L295.6 83.5M290.3 90.4L295.5 85.4M290.3 90.4L284.3 91.3M287 101.8L295.1 100.2M287 101.8L293.1 103.8M287 101.8L295.8 98.2M254.3 117.8L264.1 115.9M254.3 117.8L245.8 113.3M254.3 117.8L261.8 119.9M242.8 122.5L239.6 115.2M231.4 116.3L236.3 108.1M304.1 42.8L300.5 48.5M288.8 50.2L293.8 57.2M285.2 67.4L276 66.4M285.2 67.4L294.7 68.2M274.1 73.8L281.7 75.7M274.1 73.8L270.9 64.4M288.4 70.3L280.3 70.3M303.1 72.7L303.1 80.1M309.5 64L317.1 69.2M309.5 64L303.6 58.4M325.8 61.4L328.5 70.3M325.8 61.4L323 67.4M242.6 53.8L249.2 61M242.6 53.8L242.8 45.4M231.6 66.8L241.3 66.4M231.6 66.8L241.1 64.2M236 81.9L230.1 84.6M236 81.9L229.8 84.5M236 81.9L242.5 78.2M228.2 89L231.9 95.3M228.2 89L225.2 80.9M228.2 89L222.4 83M241 111.8L245 118.5M241 111.8L239.3 103.3M241 111.8L234.9 106.9M235.9 97.2L233.9 106.1M235.9 97.2L242.4 97.7M223.1 94.7L224.7 102.5M223.1 94.7L227.6 86.1M222.2 84.5L213.9 88.5M269.3 106.1L271.4 113.1M266.5 93.8L273.8 97.1M266.5 93.8L273 96.1M247.8 56L242.7 50.2M247.8 56L239.2 53.7M247.8 56L250.8 65.3M259.7 68.6L265.6 61.3M273.3 67.4L270 59.1M273.3 67.4L267.4 64M273.3 67.4L273.4 58.8M281.4 51.4L274.6 50.1M281.4 51.4L289.7 54M235.8 87L237.6 93.8M235.8 87L240.7 92.2M235.8 87L229 86.1M246.4 90.8L250 81.9M246.4 90.8L242.4 84.4M258.8 78.3L262.9 83.9" stroke="#9aa6a6" stroke-width="0.65"/><path d="M309.4 55.6L308.3 67.6M308.3 67.6L320.2 75.5M336.7 60.9L326 57.6M326 57.6L315.9 66.8M315.9 66.8L305.8 63.7M267.8 45.5L260.9 54M260.9 54L243.8 52.5M243.8 52.5L234.1 39.8M234.1 39.8L223.4 42.3M234.1 39.8L243.2 46.4M243.2 46.4L242.4 55.7M265.7 74.6L281.7 75M281.7 75L290.3 90.4M290.3 90.4L285.8 99.4M290.3 90.4L287 101.8M255.3 107.2L254.3 117.8M254.3 117.8L242.8 122.5M242.8 122.5L231.4 116.3M317.5 50.7L304.1 42.8M304.1 42.8L288.8 50.2M288.8 50.2L285.2 67.4M285.2 67.4L292.4 74.3M285.2 67.4L274.1 73.8M274.1 73.8L265.2 66.7M276 82.1L288.4 70.3M288.4 70.3L285.1 60.7M288.4 70.3L303.1 72.7M303.1 72.7L309.5 64M309.5 64L325.8 61.4M258.8 52.8L242.6 53.8M242.6 53.8L231.6 66.8M231.6 66.8L236 81.9M236 81.9L228.2 89M228.2 89L218.5 82.8M253.4 101.8L241 111.8M241 111.8L230.4 107M241 111.8L235.9 97.2M235.9 97.2L223.1 94.7M223.1 94.7L222.2 84.5M222.2 84.5L229.5 79.1M284.1 112.8L269.3 106.1M269.3 106.1L266.5 93.8M266.5 93.8L256.9 92.8M237 60.1L247.8 56M247.8 56L247.8 44.4M247.8 56L259.7 68.6M259.7 68.6L267.1 64.9M259.7 68.6L273.3 67.4M273.3 67.4L281.4 51.4M225.7 97.7L235.8 87M235.8 87L230.9 76.8M235.8 87L246.4 90.8M246.4 90.8L258.8 78.3M336.9 38L323.7 32.6M323.7 32.6L332.7 40.4M332.7 40.4L340.8 37M332.7 40.4L333.2 57.7M333.2 57.7L321.8 67.1M321.8 67.1L324.5 78.1M233.7 94.1L217.8 87.6M264.1 95.5L274.2 79.4M274.2 79.4L269.7 72.7M274.2 79.4L270.5 68.4M300.6 57L295.5 45.2M295.5 45.2L301.8 36.7M301.8 36.7L310.6 37.6M301.8 36.7L317.3 38.9M317.3 38.9L322.7 50.4M257.6 95.9L255.4 113.4M255.4 113.4L266.9 125.2M233.5 94.4L220.9 87.1M220.9 87.1L228.1 74.7M228.1 74.7L219.9 59.7M229.7 111.7L242.1 120.9M242.1 120.9L231.1 112.7M231.1 112.7L243 101.2M243 101.2L255.8 105.1M280 81.4L264.8 70.1M264.8 70.1L250.1 72.6M250.1 72.6L244.1 87.1M242.2 76.5L253.4 67M253.4 67L261.3 71.4M253.4 67L264.1 72.8M264.1 72.8L262.9 82.9M264.1 72.8L280.2 64.2M280.2 64.2L287.5 68.1M280.2 64.2L280.1 53.3M264.1 90.5L267.5 77M267.5 77L257.7 61.7M257.7 61.7L246.4 63.6M246.4 63.6L236.9 57.1M236.9 57.1L229.4 59.9M285 47.2L270.4 53.1M270.4 53.1L253 45.8M253 45.8L254.3 26.9M254.3 26.9L263 24.5M231 86.6L224.1 72.2M224.1 72.2L231.2 58.8M231.2 58.8L244 56.7M249.5 56.8L238.8 62.6M238.8 62.6L235.9 73.2M235.9 73.2L223.5 77.3M223.5 77.3L237.7 77.9" stroke="#03262a" stroke-width="4.9" stroke-linecap="round"/><path d="M309.4 55.6L308.3 67.6M308.3 67.6L320.2 75.5M336.7 60.9L326 57.6M326 57.6L315.9 66.8M315.9 66.8L305.8 63.7M267.8 45.5L260.9 54M260.9 54L243.8 52.5M243.8 52.5L234.1 39.8M234.1 39.8L223.4 42.3M234.1 39.8L243.2 46.4M243.2 46.4L242.4 55.7M265.7 74.6L281.7 75M281.7 75L290.3 90.4M290.3 90.4L285.8 99.4M290.3 90.4L287 101.8M255.3 107.2L254.3 117.8M254.3 117.8L242.8 122.5M242.8 122.5L231.4 116.3M317.5 50.7L304.1 42.8M304.1 42.8L288.8 50.2M288.8 50.2L285.2 67.4M285.2 67.4L292.4 74.3M285.2 67.4L274.1 73.8M274.1 73.8L265.2 66.7M276 82.1L288.4 70.3M288.4 70.3L285.1 60.7M288.4 70.3L303.1 72.7M303.1 72.7L309.5 64M309.5 64L325.8 61.4M258.8 52.8L242.6 53.8M242.6 53.8L231.6 66.8M231.6 66.8L236 81.9M236 81.9L228.2 89M228.2 89L218.5 82.8M253.4 101.8L241 111.8M241 111.8L230.4 107M241 111.8L235.9 97.2M235.9 97.2L223.1 94.7M223.1 94.7L222.2 84.5M222.2 84.5L229.5 79.1M284.1 112.8L269.3 106.1M269.3 106.1L266.5 93.8M266.5 93.8L256.9 92.8M237 60.1L247.8 56M247.8 56L247.8 44.4M247.8 56L259.7 68.6M259.7 68.6L267.1 64.9M259.7 68.6L273.3 67.4M273.3 67.4L281.4 51.4M225.7 97.7L235.8 87M235.8 87L230.9 76.8M235.8 87L246.4 90.8M246.4 90.8L258.8 78.3M336.9 38L323.7 32.6M323.7 32.6L332.7 40.4M332.7 40.4L340.8 37M332.7 40.4L333.2 57.7M333.2 57.7L321.8 67.1M321.8 67.1L324.5 78.1M233.7 94.1L217.8 87.6M264.1 95.5L274.2 79.4M274.2 79.4L269.7 72.7M274.2 79.4L270.5 68.4M300.6 57L295.5 45.2M295.5 45.2L301.8 36.7M301.8 36.7L310.6 37.6M301.8 36.7L317.3 38.9M317.3 38.9L322.7 50.4M257.6 95.9L255.4 113.4M255.4 113.4L266.9 125.2M233.5 94.4L220.9 87.1M220.9 87.1L228.1 74.7M228.1 74.7L219.9 59.7M229.7 111.7L242.1 120.9M242.1 120.9L231.1 112.7M231.1 112.7L243 101.2M243 101.2L255.8 105.1M280 81.4L264.8 70.1M264.8 70.1L250.1 72.6M250.1 72.6L244.1 87.1M242.2 76.5L253.4 67M253.4 67L261.3 71.4M253.4 67L264.1 72.8M264.1 72.8L262.9 82.9M264.1 72.8L280.2 64.2M280.2 64.2L287.5 68.1M280.2 64.2L280.1 53.3M264.1 90.5L267.5 77M267.5 77L257.7 61.7M257.7 61.7L246.4 63.6M246.4 63.6L236.9 57.1M236.9 57.1L229.4 59.9M285 47.2L270.4 53.1M270.4 53.1L253 45.8M253 45.8L254.3 26.9M254.3 26.9L263 24.5M231 86.6L224.1 72.2M224.1 72.2L231.2 58.8M231.2 58.8L244 56.7M249.5 56.8L238.8 62.6M238.8 62.6L235.9 73.2M235.9 73.2L223.5 77.3M223.5 77.3L237.7 77.9" stroke="#13888d" stroke-width="2.8" stroke-linecap="round"/><path d="M308.8 61.6L308.3 67.6M279.7 70.6L274.1 73.8M229.5 95.9L223.1 94.7M267.9 99.9L266.5 93.8M333 49.1L333.2 57.7M256.5 104.7L255.4 113.4M227.2 90.8L220.9 87.1M257.4 71.3L250.1 72.6M229.7 75.3L223.5 77.3" stroke="#2a35e0" stroke-width="3.2" stroke-linecap="round"/><path d="M314.8 71.9L320.2 75.5M295.7 46.9L288.8 50.2M241.6 89.1L246.4 90.8M297.8 50.5L295.5 45.2M261.7 119.9L266.9 125.2M271.6 75.2L264.8 70.1M248.4 71.3L253.4 67M277 50.4L270.4 53.1M260.8 49.1L253 45.8" stroke="#f0453f" stroke-width="3.2" stroke-linecap="round"/><path d="M323.7 32.6L331.4 28.1M323.7 32.6L326.7 26.6M323.7 32.6L327.3 39.1M332.7 40.4L324.6 40.9M333.2 57.7L338.2 53.6M321.8 67.1L320.4 58.9M217.8 87.6L224 81.9M217.8 87.6L218.2 96.8M217.8 87.6L221.9 81.1M274.2 79.4L266.5 75.8M274.2 79.4L265.7 80.9M270.5 68.4L261.9 71.2M270.5 68.4L267.2 73.7M295.5 45.2L301.4 47.5M295.5 45.2L301.7 43.3M301.8 36.7L295.3 32.1M301.8 36.7L293.1 36.3M317.3 38.9L312.8 47.2M317.3 38.9L311.8 46.7M322.7 50.4L328.1 46.9M322.7 50.4L315.2 53.8M255.4 113.4L265.2 114.8M255.4 113.4L263.6 114.4M266.9 125.2L261.1 131.8M220.9 87.1L222.8 96.5M220.9 87.1L220.4 94.4M228.1 74.7L236.8 78M228.1 74.7L231 81.3M219.9 59.7L226.8 56.9M219.9 59.7L211.3 61.9M219.9 59.7L218.7 67M242.1 120.9L243.1 113.4M242.1 120.9L249.7 114.7M242.1 120.9L247.1 116.4M231.1 112.7L235.1 103.9M231.1 112.7L233.2 118.4M243 101.2L236.4 94.6M255.8 105.1L260.3 97.8M255.8 105.1L253.4 99M255.8 105.1L252.3 98.8M264.8 70.1L263.6 79M264.8 70.1L269.1 65.5M250.1 72.6L257.7 78.4M244.1 87.1L249.8 91.2M244.1 87.1L239.3 81.3M244.1 87.1L241.7 81M253.4 67L247.6 64.6M264.1 72.8L257.3 75.9M264.1 72.8L258.3 79.8M280.2 64.2L283.4 73.3M280.2 64.2L276.8 70.7M280.1 53.3L287.9 56.9M267.5 77L274.7 78.9M267.5 77L271.5 81.9M267.5 77L274.8 76.9M257.7 61.7L251.9 64.5M257.7 61.7L263.4 56.8M257.7 61.7L255.7 71M246.4 63.6L248.7 72.6M246.4 63.6L246.5 73.4M246.4 63.6L253.8 67.2M236.9 57.1L244.1 50.2M270.4 53.1L271.9 46.8M270.4 53.1L268.8 44.8M253 45.8L257.8 38M253 45.8L256.8 40.9M253 45.8L248.8 53.7M254.3 26.9L247.7 28.8M254.3 26.9L248.1 28.3M254.3 26.9L261.5 31.4M224.1 72.2L216.9 79.1M224.1 72.2L231.6 75.2M224.1 72.2L230.5 71.5M231.2 58.8L224.8 59.8M231.2 58.8L234.4 68.3M231.2 58.8L238.2 60.9M238.8 62.6L245.1 67.6M235.9 73.2L226.9 71.5M223.5 77.3L223.1 68.5M223.5 77.3L226.8 67.9M237.7 77.9L238.8 68.3" stroke="#0c1515" stroke-width="2.3"/><path d="M323.7 32.6L331.4 28.1M323.7 32.6L326.7 26.6M323.7 32.6L327.3 39.1M332.7 40.4L324.6 40.9M333.2 57.7L338.2 53.6M321.8 67.1L320.4 58.9M217.8 87.6L224 81.9M217.8 87.6L218.2 96.8M217.8 87.6L221.9 81.1M274.2 79.4L266.5 75.8M274.2 79.4L265.7 80.9M270.5 68.4L261.9 71.2M270.5 68.4L267.2 73.7M295.5 45.2L301.4 47.5M295.5 45.2L301.7 43.3M301.8 36.7L295.3 32.1M301.8 36.7L293.1 36.3M317.3 38.9L312.8 47.2M317.3 38.9L311.8 46.7M322.7 50.4L328.1 46.9M322.7 50.4L315.2 53.8M255.4 113.4L265.2 114.8M255.4 113.4L263.6 114.4M266.9 125.2L261.1 131.8M220.9 87.1L222.8 96.5M220.9 87.1L220.4 94.4M228.1 74.7L236.8 78M228.1 74.7L231 81.3M219.9 59.7L226.8 56.9M219.9 59.7L211.3 61.9M219.9 59.7L218.7 67M242.1 120.9L243.1 113.4M242.1 120.9L249.7 114.7M242.1 120.9L247.1 116.4M231.1 112.7L235.1 103.9M231.1 112.7L233.2 118.4M243 101.2L236.4 94.6M255.8 105.1L260.3 97.8M255.8 105.1L253.4 99M255.8 105.1L252.3 98.8M264.8 70.1L263.6 79M264.8 70.1L269.1 65.5M250.1 72.6L257.7 78.4M244.1 87.1L249.8 91.2M244.1 87.1L239.3 81.3M244.1 87.1L241.7 81M253.4 67L247.6 64.6M264.1 72.8L257.3 75.9M264.1 72.8L258.3 79.8M280.2 64.2L283.4 73.3M280.2 64.2L276.8 70.7M280.1 53.3L287.9 56.9M267.5 77L274.7 78.9M267.5 77L271.5 81.9M267.5 77L274.8 76.9M257.7 61.7L251.9 64.5M257.7 61.7L263.4 56.8M257.7 61.7L255.7 71M246.4 63.6L248.7 72.6M246.4 63.6L246.5 73.4M246.4 63.6L253.8 67.2M236.9 57.1L244.1 50.2M270.4 53.1L271.9 46.8M270.4 53.1L268.8 44.8M253 45.8L257.8 38M253 45.8L256.8 40.9M253 45.8L248.8 53.7M254.3 26.9L247.7 28.8M254.3 26.9L248.1 28.3M254.3 26.9L261.5 31.4M224.1 72.2L216.9 79.1M224.1 72.2L231.6 75.2M224.1 72.2L230.5 71.5M231.2 58.8L224.8 59.8M231.2 58.8L234.4 68.3M231.2 58.8L238.2 60.9M238.8 62.6L245.1 67.6M235.9 73.2L226.9 71.5M223.5 77.3L223.1 68.5M223.5 77.3L226.8 67.9M237.7 77.9L238.8 68.3" stroke="#9aa6a6" stroke-width="0.65"/></g><g fill="none" stroke-linecap="butt"><path d="M241.2 100.3L240.4 93.5M245.8 117.5L236.9 119M262 125.4L264.1 119.8M262 125.4L253.3 127.9M262 125.4L256.5 132M318.9 82.6L323.3 88.6M318.9 82.6L318.4 91.2M316.2 65.9L312.7 72.9M316.2 65.9L322.5 68.7M316.2 65.9L308.9 65.4M245 58.3L250.6 65.1M235.2 47.7L242.2 45M235.2 47.7L232.5 57M235.2 47.7L242.1 44.2M252.3 71L244.1 74.5M252.3 71L247.8 75.3M252.3 71L249.2 78.3M258.8 58.8L264.1 64.8M258.8 58.8L267.3 63.7M275.3 54.6L272.1 62.6M275.3 54.6L269.6 61.2M275.3 54.6L271.2 60.1M289.5 67.1L282.7 68.5M289.5 67.1L281.5 70.4M240.1 92.1L239.4 84M240.1 92.1L238.8 100.6M233.1 106.2L239.4 110.6M240.8 75.5L232.7 73.2M240.8 75.5L234.8 74.7M240.8 75.5L246.2 82.8M235.1 67.1L229.4 70.9M216.7 70.7L221.7 75.8M257 95.2L263.3 93.7M257 95.2L253.9 89.8M257 95.2L263.5 93.3M265.5 106.5L257.6 103.5M265.5 106.5L273.6 102.9M278.4 106.7L274.7 113.6M283.9 117.1L277.6 114.9M324.4 87.1L327.2 95.7M324.4 87.1L323.2 80.2M329.4 77.8L322.7 77M329.4 77.8L335.3 79.6M329.4 77.8L320.3 73.6M324.7 62.9L321.6 69.2M324.7 62.9L322.5 71.8M233.4 76.4L224.5 73.5M245 72.2L241.7 66.7M336.3 80.3L330.4 78.6M336.3 80.3L343.3 85M336.3 80.3L336.5 89.6M328 70.2L334 62.6M328 70.2L337.4 73M329 57.6L319.3 57.3M313.3 37.7L313.3 28.6M313.3 37.7L307.1 44.4M313.3 37.7L306.5 39.8M329.9 30.2L320.8 28.8M339.9 34.3L332.9 40.3M340.6 49.6L349.7 47.7M340.6 49.6L333 43.3M340.6 49.6L348.6 45.1M281.1 77L287.2 82.4M272.7 65.4L270.6 75.1M262.2 64.5L264.4 54.9M262.2 64.5L270.7 60M310.8 64.8L304.5 64.1M310.8 64.8L301.7 68M310.8 64.8L311.5 56.9M307.2 75.5L315.2 71.6" stroke="#0c1515" stroke-width="2.3"/><path d="M241.2 100.3L240.4 93.5M245.8 117.5L236.9 119M262 125.4L264.1 119.8M262 125.4L253.3 127.9M262 125.4L256.5 132M318.9 82.6L323.3 88.6M318.9 82.6L318.4 91.2M316.2 65.9L312.7 72.9M316.2 65.9L322.5 68.7M316.2 65.9L308.9 65.4M245 58.3L250.6 65.1M235.2 47.7L242.2 45M235.2 47.7L232.5 57M235.2 47.7L242.1 44.2M252.3 71L244.1 74.5M252.3 71L247.8 75.3M252.3 71L249.2 78.3M258.8 58.8L264.1 64.8M258.8 58.8L267.3 63.7M275.3 54.6L272.1 62.6M275.3 54.6L269.6 61.2M275.3 54.6L271.2 60.1M289.5 67.1L282.7 68.5M289.5 67.1L281.5 70.4M240.1 92.1L239.4 84M240.1 92.1L238.8 100.6M233.1 106.2L239.4 110.6M240.8 75.5L232.7 73.2M240.8 75.5L234.8 74.7M240.8 75.5L246.2 82.8M235.1 67.1L229.4 70.9M216.7 70.7L221.7 75.8M257 95.2L263.3 93.7M257 95.2L253.9 89.8M257 95.2L263.5 93.3M265.5 106.5L257.6 103.5M265.5 106.5L273.6 102.9M278.4 106.7L274.7 113.6M283.9 117.1L277.6 114.9M324.4 87.1L327.2 95.7M324.4 87.1L323.2 80.2M329.4 77.8L322.7 77M329.4 77.8L335.3 79.6M329.4 77.8L320.3 73.6M324.7 62.9L321.6 69.2M324.7 62.9L322.5 71.8M233.4 76.4L224.5 73.5M245 72.2L241.7 66.7M336.3 80.3L330.4 78.6M336.3 80.3L343.3 85M336.3 80.3L336.5 89.6M328 70.2L334 62.6M328 70.2L337.4 73M329 57.6L319.3 57.3M313.3 37.7L313.3 28.6M313.3 37.7L307.1 44.4M313.3 37.7L306.5 39.8M329.9 30.2L320.8 28.8M339.9 34.3L332.9 40.3M340.6 49.6L349.7 47.7M340.6 49.6L333 43.3M340.6 49.6L348.6 45.1M281.1 77L287.2 82.4M272.7 65.4L270.6 75.1M262.2 64.5L264.4 54.9M262.2 64.5L270.7 60M310.8 64.8L304.5 64.1M310.8 64.8L301.7 68M310.8 64.8L311.5 56.9M307.2 75.5L315.2 71.6" stroke="#9aa6a6" stroke-width="0.65"/><path d="M248.5 88.7L241.2 100.3M241.2 100.3L245.8 117.5M245.8 117.5L262 125.4M311.3 90L318.9 82.6M318.9 82.6L316.2 65.9M241.4 75.1L245 58.3M245 58.3L254.4 54.4M245 58.3L235.2 47.7M257.2 80.7L252.3 71M252.3 71L239.4 72M252.3 71L258.8 58.8M258.8 58.8L275.3 54.6M275.3 54.6L289.5 67.1M257.5 92.2L240.1 92.1M240.1 92.1L236.1 99.7M240.1 92.1L233.1 106.2M234.5 85.6L240.8 75.5M240.8 75.5L235.8 67.2M240.8 75.5L235.1 67.1M235.1 67.1L241.2 58M235.1 67.1L216.7 70.7M258.8 83.1L257 95.2M257 95.2L265.5 106.5M265.5 106.5L278.4 106.7M278.4 106.7L283.9 117.1M310 89.1L324.4 87.1M324.4 87.1L333.1 95.9M324.4 87.1L329.4 77.8M329.4 77.8L324.7 62.9M324.7 62.9L332.5 56.4M228.8 88.3L233.4 76.4M233.4 76.4L245 72.2M329.2 91.8L336.3 80.3M336.3 80.3L328 70.2M328 70.2L329 57.6M297.8 32.4L313.3 37.7M313.3 37.7L320.4 30.2M313.3 37.7L329.9 30.2M329.9 30.2L339.9 34.3M339.9 34.3L340.6 49.6M274.8 86.4L281.1 77M281.1 77L278.4 68.8M281.1 77L272.7 65.4M272.7 65.4L278.6 56.2M272.7 65.4L262.2 64.5M302.9 54.8L310.8 64.8M310.8 64.8L307.2 75.5M307.2 75.5L313.3 83.6M270.8 74.3L282.3 87.9M282.3 87.9L299.6 85.5M299.6 85.5L304.1 75.3M358.1 51.9L353 61.2M353 61.2L335.2 64.3M335.2 64.3L333.3 74.7M333.3 74.7L321.1 76.5M257.2 111.8L246.8 102.2M246.8 102.2L249.9 94.2M246.8 102.2L246.2 90.6M246.2 90.6L231.1 84.9M231.1 84.9L223.3 93.3M223.3 93.3L228.9 103.8M251.2 57.2L257.3 65.4M257.3 65.4L265.5 63.8M257.3 65.4L270.1 62.1M347.6 74.9L361.1 77.4M361.1 77.4L364.1 88.6M364.1 88.6L354.2 98.8M354.2 98.8L342.8 95.6M354.2 98.8L345.4 86.5M345.4 86.5L335.2 87.6M240.9 119.2L258.9 124.4M258.9 124.4L269 116.4M258.9 124.4L270.8 114.8M270.8 114.8L269.7 102.5M263.4 72.1L277.3 80.6M277.3 80.6L284.3 74.5M277.3 80.6L292 77.2M290.6 40.9L295.5 50.8M295.5 50.8L286 61.1M286 61.1L290.2 72.1M286 61.1L293.3 74.5M293.3 74.5L287.5 88.7M268.2 109.2L273.8 100.8M273.8 100.8L291.4 100.4M291.4 100.4L299.7 84.6M299.7 84.6L293.8 77.3M228.9 111.7L237.8 121.9M237.8 121.9L251.1 122.7M251.1 122.7L236.3 116.2M339.6 72.5L346.8 62.9M346.8 62.9L357.5 65.4M357.5 65.4L358.1 84.2M358.1 84.2L349 78.4M349 78.4L351.9 67.6M275 101L282.8 114.4M282.8 114.4L286.8 99" stroke="#03262a" stroke-width="4.9" stroke-linecap="round"/><path d="M248.5 88.7L241.2 100.3M241.2 100.3L245.8 117.5M245.8 117.5L262 125.4M311.3 90L318.9 82.6M318.9 82.6L316.2 65.9M241.4 75.1L245 58.3M245 58.3L254.4 54.4M245 58.3L235.2 47.7M257.2 80.7L252.3 71M252.3 71L239.4 72M252.3 71L258.8 58.8M258.8 58.8L275.3 54.6M275.3 54.6L289.5 67.1M257.5 92.2L240.1 92.1M240.1 92.1L236.1 99.7M240.1 92.1L233.1 106.2M234.5 85.6L240.8 75.5M240.8 75.5L235.8 67.2M240.8 75.5L235.1 67.1M235.1 67.1L241.2 58M235.1 67.1L216.7 70.7M258.8 83.1L257 95.2M257 95.2L265.5 106.5M265.5 106.5L278.4 106.7M278.4 106.7L283.9 117.1M310 89.1L324.4 87.1M324.4 87.1L333.1 95.9M324.4 87.1L329.4 77.8M329.4 77.8L324.7 62.9M324.7 62.9L332.5 56.4M228.8 88.3L233.4 76.4M233.4 76.4L245 72.2M329.2 91.8L336.3 80.3M336.3 80.3L328 70.2M328 70.2L329 57.6M297.8 32.4L313.3 37.7M313.3 37.7L320.4 30.2M313.3 37.7L329.9 30.2M329.9 30.2L339.9 34.3M339.9 34.3L340.6 49.6M274.8 86.4L281.1 77M281.1 77L278.4 68.8M281.1 77L272.7 65.4M272.7 65.4L278.6 56.2M272.7 65.4L262.2 64.5M302.9 54.8L310.8 64.8M310.8 64.8L307.2 75.5M307.2 75.5L313.3 83.6M270.8 74.3L282.3 87.9M282.3 87.9L299.6 85.5M299.6 85.5L304.1 75.3M358.1 51.9L353 61.2M353 61.2L335.2 64.3M335.2 64.3L333.3 74.7M333.3 74.7L321.1 76.5M257.2 111.8L246.8 102.2M246.8 102.2L249.9 94.2M246.8 102.2L246.2 90.6M246.2 90.6L231.1 84.9M231.1 84.9L223.3 93.3M223.3 93.3L228.9 103.8M251.2 57.2L257.3 65.4M257.3 65.4L265.5 63.8M257.3 65.4L270.1 62.1M347.6 74.9L361.1 77.4M361.1 77.4L364.1 88.6M364.1 88.6L354.2 98.8M354.2 98.8L342.8 95.6M354.2 98.8L345.4 86.5M345.4 86.5L335.2 87.6M240.9 119.2L258.9 124.4M258.9 124.4L269 116.4M258.9 124.4L270.8 114.8M270.8 114.8L269.7 102.5M263.4 72.1L277.3 80.6M277.3 80.6L284.3 74.5M277.3 80.6L292 77.2M290.6 40.9L295.5 50.8M295.5 50.8L286 61.1M286 61.1L290.2 72.1M286 61.1L293.3 74.5M293.3 74.5L287.5 88.7M268.2 109.2L273.8 100.8M273.8 100.8L291.4 100.4M291.4 100.4L299.7 84.6M299.7 84.6L293.8 77.3M228.9 111.7L237.8 121.9M237.8 121.9L251.1 122.7M251.1 122.7L236.3 116.2M339.6 72.5L346.8 62.9M346.8 62.9L357.5 65.4M357.5 65.4L358.1 84.2M358.1 84.2L349 78.4M349 78.4L351.9 67.6M275 101L282.8 114.4M282.8 114.4L286.8 99" stroke="#169297" stroke-width="2.8" stroke-linecap="round"/><path d="M255.5 64.9L258.8 58.8M282.4 60.9L289.5 67.1M261.3 100.9L265.5 106.5M272 106.6L278.4 106.7M332.1 75.2L328 70.2M334.9 32.2L339.9 34.3M340.3 41.9L340.6 49.6M276.6 81.1L282.3 87.9M334.2 69.5L333.3 74.7M246.5 96.4L246.2 90.6M238.6 87.7L231.1 84.9M254.2 61.3L257.3 65.4M270.3 76.3L277.3 80.6M284.7 78.9L292 77.2M282.6 100.6L291.4 100.4M295.6 92.5L299.7 84.6M244.4 122.3L251.1 122.7" stroke="#2a35e0" stroke-width="3.2" stroke-linecap="round"/><path d="M328.6 63.2L329 57.6M276.5 70.6L272.7 65.4M266.9 64.9L262.2 64.5M355.3 57L353 61.2M250.8 122L258.9 124.4M290.2 56.5L286 61.1M353.1 81L349 78.4" stroke="#f0453f" stroke-width="3.2" stroke-linecap="round"/><path d="M307.2 75.5L302.9 70.6M282.3 87.9L285.4 82.2M282.3 87.9L282 78.9M299.6 85.5L296.1 76.5M304.1 75.3L307.4 82.6M353 61.2L362.3 62.8M353 61.2L361.5 65.8M335.2 64.3L343.5 68.9M335.2 64.3L342.2 71.3M335.2 64.3L335 55.6M333.3 74.7L327.5 71M333.3 74.7L328.9 69.6M246.8 102.2L254.1 101.3M246.2 90.6L237.6 88.9M246.2 90.6L252.3 92.8M246.2 90.6L238.8 95.3M231.1 84.9L237.2 81.6M231.1 84.9L234.5 91.7M223.3 93.3L223.1 84.9M223.3 93.3L231.1 94.9M223.3 93.3L216.6 88.3M257.3 65.4L263.7 60.4M257.3 65.4L251.4 63.9M270.1 62.1L264.2 69.1M270.1 62.1L272.9 68.2M361.1 77.4L360.2 86.2M364.1 88.6L357 89.3M364.1 88.6L357.6 92.2M364.1 88.6L371.1 85.2M354.2 98.8L350.7 91.1M354.2 98.8L353.8 90.4M354.2 98.8L355 90.4M345.4 86.5L339.5 89.3M258.9 124.4L256.7 132.2M258.9 124.4L252 130.7M270.8 114.8L264.9 109.2M270.8 114.8L261.9 111.7M269.7 102.5L274.7 108.7M277.3 80.6L275.3 87.8M292 77.2L295 83.4M292 77.2L288.6 82.6M295.5 50.8L287.9 46.5M295.5 50.8L303.1 48.7M295.5 50.8L286.9 55.2M286 61.1L290.7 66.7M286 61.1L292.8 59.3M293.3 74.5L285.7 70.8M287.5 88.7L280.8 86M273.8 100.8L265.1 101M273.8 100.8L278.7 104.6M291.4 100.4L292.1 107.1M299.7 84.6L304.4 92.9M299.7 84.6L291.1 82.6M299.7 84.6L306.1 88.6M237.8 121.9L228.1 120.9M251.1 122.7L244.5 117M251.1 122.7L253.7 114.4M251.1 122.7L250.5 130.3M236.3 116.2L235.6 123.6M236.3 116.2L239.5 124.5M346.8 62.9L340.3 59.3M346.8 62.9L349.2 68.5M346.8 62.9L347.1 69.4M357.5 65.4L355.9 56.4M357.5 65.4L350.7 67.9M358.1 84.2L351 84.5M358.1 84.2L364.8 85.4M358.1 84.2L361.7 78.3M349 78.4L351.9 87.3M282.8 114.4L286.5 108.2M286.8 99L292.2 104.4" stroke="#0c1515" stroke-width="2.3"/><path d="M307.2 75.5L302.9 70.6M282.3 87.9L285.4 82.2M282.3 87.9L282 78.9M299.6 85.5L296.1 76.5M304.1 75.3L307.4 82.6M353 61.2L362.3 62.8M353 61.2L361.5 65.8M335.2 64.3L343.5 68.9M335.2 64.3L342.2 71.3M335.2 64.3L335 55.6M333.3 74.7L327.5 71M333.3 74.7L328.9 69.6M246.8 102.2L254.1 101.3M246.2 90.6L237.6 88.9M246.2 90.6L252.3 92.8M246.2 90.6L238.8 95.3M231.1 84.9L237.2 81.6M231.1 84.9L234.5 91.7M223.3 93.3L223.1 84.9M223.3 93.3L231.1 94.9M223.3 93.3L216.6 88.3M257.3 65.4L263.7 60.4M257.3 65.4L251.4 63.9M270.1 62.1L264.2 69.1M270.1 62.1L272.9 68.2M361.1 77.4L360.2 86.2M364.1 88.6L357 89.3M364.1 88.6L357.6 92.2M364.1 88.6L371.1 85.2M354.2 98.8L350.7 91.1M354.2 98.8L353.8 90.4M354.2 98.8L355 90.4M345.4 86.5L339.5 89.3M258.9 124.4L256.7 132.2M258.9 124.4L252 130.7M270.8 114.8L264.9 109.2M270.8 114.8L261.9 111.7M269.7 102.5L274.7 108.7M277.3 80.6L275.3 87.8M292 77.2L295 83.4M292 77.2L288.6 82.6M295.5 50.8L287.9 46.5M295.5 50.8L303.1 48.7M295.5 50.8L286.9 55.2M286 61.1L290.7 66.7M286 61.1L292.8 59.3M293.3 74.5L285.7 70.8M287.5 88.7L280.8 86M273.8 100.8L265.1 101M273.8 100.8L278.7 104.6M291.4 100.4L292.1 107.1M299.7 84.6L304.4 92.9M299.7 84.6L291.1 82.6M299.7 84.6L306.1 88.6M237.8 121.9L228.1 120.9M251.1 122.7L244.5 117M251.1 122.7L253.7 114.4M251.1 122.7L250.5 130.3M236.3 116.2L235.6 123.6M236.3 116.2L239.5 124.5M346.8 62.9L340.3 59.3M346.8 62.9L349.2 68.5M346.8 62.9L347.1 69.4M357.5 65.4L355.9 56.4M357.5 65.4L350.7 67.9M358.1 84.2L351 84.5M358.1 84.2L364.8 85.4M358.1 84.2L361.7 78.3M349 78.4L351.9 87.3M282.8 114.4L286.5 108.2M286.8 99L292.2 104.4" stroke="#9aa6a6" stroke-width="0.65"/></g><g fill="none" stroke-linecap="butt"><path d="M264.1 93.6L261.8 86.2M264.1 93.6L271.8 94.9M264.1 93.6L270.7 100.3M249.2 91.9L250.5 82.8M251.7 90.3L246.9 98.7M246.4 104.1L244.3 98M246.4 104.1L252.7 101.6M246.4 104.1L239.7 101.3M241.9 94.4L247.1 88.9M245 80.7L236 81.5M245 80.7L252.7 83.3M258.4 75.5L260 84.3M258.4 75.5L255.5 70M267.3 81.8L271.7 73.7M267.3 81.8L268.9 75.9M287.1 94.2L282.4 100.4M287.1 94.2L282.3 98.3M295.2 105.5L288.7 109.4M295.2 105.5L296.1 95.8M259.1 60.6L255.4 66.2M269.6 49.8L260.1 51.2M284.3 49.7L283.6 41.6M284.3 49.7L278.9 44.4M266.6 81L260.2 83.3M266.6 81L275 79.3M260.3 90.4L256.6 84.3M260.3 90.4L259.8 82.6M243.3 91.3L245 97.9M243.3 91.3L247.3 83.6M243.3 91.3L248.4 87M317.6 45.5L312.8 41.6M317.6 45.5L315.9 38.9M317.6 45.5L324.6 43.8M325.8 58.1L328.3 50.2M325.8 58.1L330.5 50.4M314.5 73.1L310.6 67.2M314.5 73.1L312.5 63.9M314.5 73.1L311 66.6M316.7 83.3L323.2 81.5M316.7 83.3L310.4 81.5M316.7 83.3L311 79.3M322.4 97.8L330.5 98.1M322.4 97.8L328.6 92.2M322.4 97.8L314.3 98.6M311.1 107.7L307.7 101.3M311.1 107.7L307.7 102M311.1 107.7L305.3 103.1M298.8 105.2L302.1 112.9M293.8 103.7L285.6 101M293.8 103.7L297.8 98.8M293.8 103.7L301.4 102.1M275.9 98.2L277.3 89.9M275.9 98.2L278.7 92.2M274.7 83.2L281.5 87.5M274.7 83.2L268.6 87M238.1 67.5L238.8 77.1M238.1 67.5L241.6 62.2M238.1 67.5L246 65M239 56.9L232.9 55.4M255.8 48.9L251.4 42.2M255.8 48.9L259.9 57.5M255.8 48.9L258.4 58.1M225.5 89.5L226.7 97.4M224.4 76.1L218.6 84.1M234.7 96.7L240.9 90.4M234.7 96.7L240.7 104.2" stroke="#0c1515" stroke-width="2.3"/><path d="M264.1 93.6L261.8 86.2M264.1 93.6L271.8 94.9M264.1 93.6L270.7 100.3M249.2 91.9L250.5 82.8M251.7 90.3L246.9 98.7M246.4 104.1L244.3 98M246.4 104.1L252.7 101.6M246.4 104.1L239.7 101.3M241.9 94.4L247.1 88.9M245 80.7L236 81.5M245 80.7L252.7 83.3M258.4 75.5L260 84.3M258.4 75.5L255.5 70M267.3 81.8L271.7 73.7M267.3 81.8L268.9 75.9M287.1 94.2L282.4 100.4M287.1 94.2L282.3 98.3M295.2 105.5L288.7 109.4M295.2 105.5L296.1 95.8M259.1 60.6L255.4 66.2M269.6 49.8L260.1 51.2M284.3 49.7L283.6 41.6M284.3 49.7L278.9 44.4M266.6 81L260.2 83.3M266.6 81L275 79.3M260.3 90.4L256.6 84.3M260.3 90.4L259.8 82.6M243.3 91.3L245 97.9M243.3 91.3L247.3 83.6M243.3 91.3L248.4 87M317.6 45.5L312.8 41.6M317.6 45.5L315.9 38.9M317.6 45.5L324.6 43.8M325.8 58.1L328.3 50.2M325.8 58.1L330.5 50.4M314.5 73.1L310.6 67.2M314.5 73.1L312.5 63.9M314.5 73.1L311 66.6M316.7 83.3L323.2 81.5M316.7 83.3L310.4 81.5M316.7 83.3L311 79.3M322.4 97.8L330.5 98.1M322.4 97.8L328.6 92.2M322.4 97.8L314.3 98.6M311.1 107.7L307.7 101.3M311.1 107.7L307.7 102M311.1 107.7L305.3 103.1M298.8 105.2L302.1 112.9M293.8 103.7L285.6 101M293.8 103.7L297.8 98.8M293.8 103.7L301.4 102.1M275.9 98.2L277.3 89.9M275.9 98.2L278.7 92.2M274.7 83.2L281.5 87.5M274.7 83.2L268.6 87M238.1 67.5L238.8 77.1M238.1 67.5L241.6 62.2M238.1 67.5L246 65M239 56.9L232.9 55.4M255.8 48.9L251.4 42.2M255.8 48.9L259.9 57.5M255.8 48.9L258.4 58.1M225.5 89.5L226.7 97.4M224.4 76.1L218.6 84.1M234.7 96.7L240.9 90.4M234.7 96.7L240.7 104.2" stroke="#9aa6a6" stroke-width="0.65"/><path d="M271.8 85.4L264.1 93.6M264.1 93.6L252.3 92M264.1 93.6L249.2 91.9M240.8 80.3L251.7 90.3M251.7 90.3L246.4 104.1M246.4 104.1L234.4 107.2M255.9 106.5L241.9 94.4M241.9 94.4L230.2 98.5M241.9 94.4L245 80.7M245 80.7L258.4 75.5M258.4 75.5L267.3 81.8M267.3 81.8L276.9 77.2M268.8 91.4L287.1 94.2M287.1 94.2L295.2 105.5M247.5 59.8L259.1 60.6M259.1 60.6L269.6 49.8M269.6 49.8L284.3 49.7M262.2 70.4L266.6 81M266.6 81L260.3 90.4M260.3 90.4L243.3 91.3M323.6 32L317.6 45.5M317.6 45.5L323.9 50.8M317.6 45.5L325.8 58.1M325.8 58.1L314.5 73.1M314.5 73.1L318.6 81M314.5 73.1L316.7 83.3M321.1 80.8L322.4 97.8M322.4 97.8L311.1 107.7M311.1 107.7L301.1 103.2M311.1 107.7L298.8 105.2M288.6 88.6L293.8 103.7M293.8 103.7L275.9 98.2M275.9 98.2L272.7 87.3M275.9 98.2L274.7 83.2M250.7 76.9L238.1 67.5M238.1 67.5L239 56.9M239 56.9L255.8 48.9M255.8 48.9L265.1 56.9M233.4 96.2L225.5 89.5M225.5 89.5L226.6 77.3M225.5 89.5L224.4 76.1M251.2 99.8L234.7 96.7M234.7 96.7L220 107.6M250.1 43.7L238.5 49.5M238.5 49.5L231.2 42.7M238.5 49.5L235.3 64.4M288.3 104.1L286.4 113.9M286.4 113.9L272.7 119.3M257 106.2L245.3 106.2M245.3 106.2L237 120.6M237 120.6L222.3 118.5M323.9 97.5L312.8 95.1M312.8 95.1L305.5 101.9M312.8 95.1L307.5 77.7M307.5 77.7L293.9 73.6M293.9 73.6L286.5 81.3M269.3 57.8L260.4 63.3M260.4 63.3L259.3 80.1M259.3 80.1L271.6 86.9M271.6 86.9L273.4 99.2M273.4 99.2L265.3 103M250.1 78L264.5 71.4M264.5 71.4L266.5 59.4M264.5 71.4L267.6 53.6M240.2 80.8L253.6 90.2M253.6 90.2L253.1 108.7M226.3 111.7L234.5 102.3M234.5 102.3L246.1 104.8M297.7 81.4L286.5 84.8M286.5 84.8L280.4 76.9M286.5 84.8L284.9 102.6M284.9 102.6L272.6 105M272.6 105L264.6 94.3M273.8 70.4L278.3 82.2M278.3 82.2L290.5 82.3M290.5 82.3L295.9 66.6M272 82.4L288.8 80.7M288.8 80.7L293.9 65.1M293.9 65.1L306.4 61.9M306.4 61.9L316.2 69.6M326.6 36.9L317.9 31.6M317.9 31.6L319.1 48.3M319.1 48.3L306.9 57.3M306.9 57.3L304.7 70.2M304.7 70.2L295.5 72.2M232.2 54.4L250 53.1M250 53.1L256.2 62M256.2 62L251.2 69.7" stroke="#03262a" stroke-width="4.9" stroke-linecap="round"/><path d="M271.8 85.4L264.1 93.6M264.1 93.6L252.3 92M264.1 93.6L249.2 91.9M240.8 80.3L251.7 90.3M251.7 90.3L246.4 104.1M246.4 104.1L234.4 107.2M255.9 106.5L241.9 94.4M241.9 94.4L230.2 98.5M241.9 94.4L245 80.7M245 80.7L258.4 75.5M258.4 75.5L267.3 81.8M267.3 81.8L276.9 77.2M268.8 91.4L287.1 94.2M287.1 94.2L295.2 105.5M247.5 59.8L259.1 60.6M259.1 60.6L269.6 49.8M269.6 49.8L284.3 49.7M262.2 70.4L266.6 81M266.6 81L260.3 90.4M260.3 90.4L243.3 91.3M323.6 32L317.6 45.5M317.6 45.5L323.9 50.8M317.6 45.5L325.8 58.1M325.8 58.1L314.5 73.1M314.5 73.1L318.6 81M314.5 73.1L316.7 83.3M321.1 80.8L322.4 97.8M322.4 97.8L311.1 107.7M311.1 107.7L301.1 103.2M311.1 107.7L298.8 105.2M288.6 88.6L293.8 103.7M293.8 103.7L275.9 98.2M275.9 98.2L272.7 87.3M275.9 98.2L274.7 83.2M250.7 76.9L238.1 67.5M238.1 67.5L239 56.9M239 56.9L255.8 48.9M255.8 48.9L265.1 56.9M233.4 96.2L225.5 89.5M225.5 89.5L226.6 77.3M225.5 89.5L224.4 76.1M251.2 99.8L234.7 96.7M234.7 96.7L220 107.6M250.1 43.7L238.5 49.5M238.5 49.5L231.2 42.7M238.5 49.5L235.3 64.4M288.3 104.1L286.4 113.9M286.4 113.9L272.7 119.3M257 106.2L245.3 106.2M245.3 106.2L237 120.6M237 120.6L222.3 118.5M323.9 97.5L312.8 95.1M312.8 95.1L305.5 101.9M312.8 95.1L307.5 77.7M307.5 77.7L293.9 73.6M293.9 73.6L286.5 81.3M269.3 57.8L260.4 63.3M260.4 63.3L259.3 80.1M259.3 80.1L271.6 86.9M271.6 86.9L273.4 99.2M273.4 99.2L265.3 103M250.1 78L264.5 71.4M264.5 71.4L266.5 59.4M264.5 71.4L267.6 53.6M240.2 80.8L253.6 90.2M253.6 90.2L253.1 108.7M226.3 111.7L234.5 102.3M234.5 102.3L246.1 104.8M297.7 81.4L286.5 84.8M286.5 84.8L280.4 76.9M286.5 84.8L284.9 102.6M284.9 102.6L272.6 105M272.6 105L264.6 94.3M273.8 70.4L278.3 82.2M278.3 82.2L290.5 82.3M290.5 82.3L295.9 66.6M272 82.4L288.8 80.7M288.8 80.7L293.9 65.1M293.9 65.1L306.4 61.9M306.4 61.9L316.2 69.6M326.6 36.9L317.9 31.6M317.9 31.6L319.1 48.3M319.1 48.3L306.9 57.3M306.9 57.3L304.7 70.2M304.7 70.2L295.5 72.2M232.2 54.4L250 53.1M250 53.1L256.2 62M256.2 62L251.2 69.7" stroke="#18999d" stroke-width="2.8" stroke-linecap="round"/><path d="M249 97.2L246.4 104.1M262.9 78.6L267.3 81.8M263.4 85.7L260.3 90.4M229.7 119.5L222.3 118.5M310.1 86.4L307.5 77.7M265.4 83.5L271.6 86.9M257.3 74.7L264.5 71.4M276.1 76.3L278.3 82.2" stroke="#2a35e0" stroke-width="3.2" stroke-linecap="round"/><path d="M277.7 49.7L284.3 49.7M243.7 46.9L238.5 49.5M236.8 57.7L235.3 64.4M253.3 100.4L253.1 108.7M240.9 103.7L246.1 104.8" stroke="#f0453f" stroke-width="3.2" stroke-linecap="round"/><path d="M220 107.6L216 101.3M238.5 49.5L242.5 41.6M238.5 49.5L234.6 44.2M238.5 49.5L237.7 40.3M235.3 64.4L241.8 58.8M235.3 64.4L242 63.1M286.4 113.9L279.4 107.6M286.4 113.9L294 114M272.7 119.3L278.5 125.7M272.7 119.3L274.3 127.8M272.7 119.3L273.9 125.3M245.3 106.2L244.9 99.8M237 120.6L231.9 117.3M222.3 118.5L228.1 113.2M312.8 95.1L320.2 89.4M312.8 95.1L319.2 90.9M307.5 77.7L314 80.1M293.9 73.6L299.5 70.9M293.9 73.6L290.1 80.9M293.9 73.6L299 65.2M286.5 81.3L291.7 89.1M260.4 63.3L264.3 55.2M260.4 63.3L266.8 70.2M259.3 80.1L265.1 81.7M259.3 80.1L254.1 72.3M271.6 86.9L265.3 88.7M273.4 99.2L266.7 98.3M273.4 99.2L265.8 95.2M264.5 71.4L266.5 78.2M264.5 71.4L261.4 79.5M264.5 71.4L261.2 63.9M267.6 53.6L276 55.4M267.6 53.6L258.9 50.9M253.6 90.2L246.6 94.6M253.6 90.2L258.9 83.9M253.1 108.7L262.8 110.7M234.5 102.3L233.7 108.4M246.1 104.8L239.3 108.9M286.5 84.8L290.5 77.7M286.5 84.8L289.2 78.8M284.9 102.6L291 101.2M284.9 102.6L275.9 99.9M284.9 102.6L291.2 102.3M272.6 105L278.7 97.8M264.6 94.3L258.4 97.6M278.3 82.2L272.1 81.1M290.5 82.3L288 91.3M295.9 66.6L298.1 75.4M295.9 66.6L289.6 65.3M288.8 80.7L281 86.7M288.8 80.7L286.1 72.5M288.8 80.7L289.3 87.7M293.9 65.1L287.3 69.3M293.9 65.1L296.1 73M293.9 65.1L300.5 68.1M306.4 61.9L310.6 70.1M317.9 31.6L323.5 29M317.9 31.6L324.7 29M319.1 48.3L324.6 45.5M306.9 57.3L313.4 59.5M306.9 57.3L303.9 51.5M306.9 57.3L314.8 56.6M304.7 70.2L296.1 70.3M304.7 70.2L298.4 62.7M250 53.1L244.5 58.9M256.2 62L246.8 58.8" stroke="#0c1515" stroke-width="2.3"/><path d="M220 107.6L216 101.3M238.5 49.5L242.5 41.6M238.5 49.5L234.6 44.2M238.5 49.5L237.7 40.3M235.3 64.4L241.8 58.8M235.3 64.4L242 63.1M286.4 113.9L279.4 107.6M286.4 113.9L294 114M272.7 119.3L278.5 125.7M272.7 119.3L274.3 127.8M272.7 119.3L273.9 125.3M245.3 106.2L244.9 99.8M237 120.6L231.9 117.3M222.3 118.5L228.1 113.2M312.8 95.1L320.2 89.4M312.8 95.1L319.2 90.9M307.5 77.7L314 80.1M293.9 73.6L299.5 70.9M293.9 73.6L290.1 80.9M293.9 73.6L299 65.2M286.5 81.3L291.7 89.1M260.4 63.3L264.3 55.2M260.4 63.3L266.8 70.2M259.3 80.1L265.1 81.7M259.3 80.1L254.1 72.3M271.6 86.9L265.3 88.7M273.4 99.2L266.7 98.3M273.4 99.2L265.8 95.2M264.5 71.4L266.5 78.2M264.5 71.4L261.4 79.5M264.5 71.4L261.2 63.9M267.6 53.6L276 55.4M267.6 53.6L258.9 50.9M253.6 90.2L246.6 94.6M253.6 90.2L258.9 83.9M253.1 108.7L262.8 110.7M234.5 102.3L233.7 108.4M246.1 104.8L239.3 108.9M286.5 84.8L290.5 77.7M286.5 84.8L289.2 78.8M284.9 102.6L291 101.2M284.9 102.6L275.9 99.9M284.9 102.6L291.2 102.3M272.6 105L278.7 97.8M264.6 94.3L258.4 97.6M278.3 82.2L272.1 81.1M290.5 82.3L288 91.3M295.9 66.6L298.1 75.4M295.9 66.6L289.6 65.3M288.8 80.7L281 86.7M288.8 80.7L286.1 72.5M288.8 80.7L289.3 87.7M293.9 65.1L287.3 69.3M293.9 65.1L296.1 73M293.9 65.1L300.5 68.1M306.4 61.9L310.6 70.1M317.9 31.6L323.5 29M317.9 31.6L324.7 29M319.1 48.3L324.6 45.5M306.9 57.3L313.4 59.5M306.9 57.3L303.9 51.5M306.9 57.3L314.8 56.6M304.7 70.2L296.1 70.3M304.7 70.2L298.4 62.7M250 53.1L244.5 58.9M256.2 62L246.8 58.8" stroke="#9aa6a6" stroke-width="0.65"/></g><g fill="none" stroke-linecap="butt"><path d="M342.6 41.4L334.6 37.8M342.6 41.4L335 37M353.2 37.7L347 30.9M353.2 37.7L347.4 32.3M335.3 40.4L335.7 46.9M328.6 52.2L334.2 49.1M321.1 60.9L322.6 69.2M321.1 60.9L314.4 60.3M333.6 60.1L331 68.7M340.4 71L333.1 67.4M340.4 71L341.5 63.7M354.1 69.2L349.4 77.5M313.5 46.3L320.8 51.9M313.5 46.3L315 40.2M306.9 60L304.4 54M295.3 62.9L299.1 57M295.3 62.9L292.7 57.4M295.3 62.9L295.2 55.8M284.8 83.5L276.9 84.8M284.8 83.5L291.9 82.7M284.8 83.5L276.1 84.9M272.2 81.7L272.8 72.7M245.3 106.4L250.6 114M236.8 118.3L229.8 115.3M236.8 118.3L232.7 109.2M261.9 76.9L264.4 83.5M255.6 60.6L249.3 65.3M265.7 50.5L273.2 54.7M282.4 56.9L282.7 48.4M282.4 56.9L279.3 48.6M340.9 64.8L339.6 57M340.9 64.8L335.5 72.7M340.9 64.8L336.7 69.2M353.9 76.5L350.9 82.4M353.9 76.5L347.1 81.1M366.1 72.2L363.1 65.8M366.1 72.2L363.7 81.4M285.4 41.2L278.2 46.4M285.4 41.2L283.8 33.6M298.8 27.9L297.9 34.2M298.8 27.9L291.1 27.9M298.8 27.9L297.1 36.8M309.8 29.5L305.4 24.9M309.8 29.5L309.9 22.3M309.8 29.5L302.3 35.3M316.8 42.9L318.3 35.1M316.8 42.9L321.7 35.9M255.6 118.4L256.4 109.7M255.6 118.4L254.3 128.2M255.6 118.4L254.7 108.6M258.1 103.2L261.7 111.9M258.1 103.2L265 110.2M245.2 96.2L249.9 92.3M263.2 33.7L261.8 25.7M263.2 33.7L264.4 26.8M262.3 49.5L254.5 51.1M266.2 72.4L258.6 68.2M256.9 77.8L263.2 82.1M245.6 69.5L252.2 62.3M245.6 69.5L252.9 67.1M235 102.6L233.1 94.8" stroke="#0c1515" stroke-width="2.3"/><path d="M342.6 41.4L334.6 37.8M342.6 41.4L335 37M353.2 37.7L347 30.9M353.2 37.7L347.4 32.3M335.3 40.4L335.7 46.9M328.6 52.2L334.2 49.1M321.1 60.9L322.6 69.2M321.1 60.9L314.4 60.3M333.6 60.1L331 68.7M340.4 71L333.1 67.4M340.4 71L341.5 63.7M354.1 69.2L349.4 77.5M313.5 46.3L320.8 51.9M313.5 46.3L315 40.2M306.9 60L304.4 54M295.3 62.9L299.1 57M295.3 62.9L292.7 57.4M295.3 62.9L295.2 55.8M284.8 83.5L276.9 84.8M284.8 83.5L291.9 82.7M284.8 83.5L276.1 84.9M272.2 81.7L272.8 72.7M245.3 106.4L250.6 114M236.8 118.3L229.8 115.3M236.8 118.3L232.7 109.2M261.9 76.9L264.4 83.5M255.6 60.6L249.3 65.3M265.7 50.5L273.2 54.7M282.4 56.9L282.7 48.4M282.4 56.9L279.3 48.6M340.9 64.8L339.6 57M340.9 64.8L335.5 72.7M340.9 64.8L336.7 69.2M353.9 76.5L350.9 82.4M353.9 76.5L347.1 81.1M366.1 72.2L363.1 65.8M366.1 72.2L363.7 81.4M285.4 41.2L278.2 46.4M285.4 41.2L283.8 33.6M298.8 27.9L297.9 34.2M298.8 27.9L291.1 27.9M298.8 27.9L297.1 36.8M309.8 29.5L305.4 24.9M309.8 29.5L309.9 22.3M309.8 29.5L302.3 35.3M316.8 42.9L318.3 35.1M316.8 42.9L321.7 35.9M255.6 118.4L256.4 109.7M255.6 118.4L254.3 128.2M255.6 118.4L254.7 108.6M258.1 103.2L261.7 111.9M258.1 103.2L265 110.2M245.2 96.2L249.9 92.3M263.2 33.7L261.8 25.7M263.2 33.7L264.4 26.8M262.3 49.5L254.5 51.1M266.2 72.4L258.6 68.2M256.9 77.8L263.2 82.1M245.6 69.5L252.2 62.3M245.6 69.5L252.9 67.1M235 102.6L233.1 94.8" stroke="#9aa6a6" stroke-width="0.65"/><path d="M337.1 55.7L342.6 41.4M342.6 41.4L351.4 40.1M342.6 41.4L353.2 37.7M353.2 37.7L335.3 40.4M335.3 40.4L328.6 52.2M328.6 52.2L318.4 50.9M317.3 70.2L321.1 60.9M321.1 60.9L314.8 55.1M321.1 60.9L333.6 60.1M333.6 60.1L338.2 50M333.6 60.1L340.4 71M340.4 71L354.1 69.2M326.7 46.8L313.5 46.3M313.5 46.3L309.7 35.8M313.5 46.3L306.9 60M306.9 60L295.3 62.9M287.6 95.6L284.8 83.5M284.8 83.5L272.2 81.7M255.9 105.9L245.3 106.4M245.3 106.4L241.3 94.6M245.3 106.4L236.8 118.3M272 80L261.9 76.9M261.9 76.9L255.6 60.6M255.6 60.6L247.7 59.1M255.6 60.6L265.7 50.5M265.7 50.5L273.5 54.7M265.7 50.5L282.4 56.9M330.8 65.6L340.9 64.8M340.9 64.8L353.9 76.5M353.9 76.5L366.1 72.2M272.7 35.7L285.4 41.2M285.4 41.2L286.2 51.5M285.4 41.2L298.8 27.9M298.8 27.9L309.6 31.9M298.8 27.9L309.8 29.5M309.8 29.5L316.8 42.9M239.7 121L255.6 118.4M255.6 118.4L258.1 103.2M258.1 103.2L267.6 98.1M258.1 103.2L245.2 96.2M245.2 96.2L237.9 100.1M272.9 29.8L263.2 33.7M263.2 33.7L253.4 27.6M263.2 33.7L262.3 49.5M265.5 59.3L266.2 72.4M266.2 72.4L276.2 77.9M266.2 72.4L256.9 77.8M256.9 77.8L259.4 89.8M256.9 77.8L245.6 69.5M244.4 88.2L235 102.6M235 102.6L243.2 114.5M243.2 114.5L235.5 102.9M293 44.6L282.5 58.6M282.5 58.6L287.3 68.5M287.3 68.5L281 75.6M263.6 86.5L267.1 99.5M267.1 99.5L282.8 102.2M282.8 102.2L288.8 111.3M231.5 59.7L227.1 75.7M227.1 75.7L236.2 82.1M227.1 75.7L228.5 62M228.5 62L220.9 58.3M228.5 62L240.1 59.4M264.4 74.2L276.9 66.2M276.9 66.2L276.3 57M276.9 66.2L274.1 48.7M274.1 48.7L262.5 42.4M262.5 42.4L256.8 25.2M249.3 53L252.4 67.5M252.4 67.5L269.1 70.8M269.1 70.8L275.5 88.6M277.4 114.5L265 120.5M265 120.5L255.3 109.1M325.2 42.1L335.4 55.8M335.4 55.8L328.6 67.8M244.2 99L238.8 85.7M238.8 85.7L244.5 72.4M294.1 86.8L300.5 70.6M300.5 70.6L291.7 59.9M291.7 59.9L293.7 44.2M293.7 44.2L284.7 35.9M232.9 50.9L216.5 55.3M249.1 120.6L266.3 117.1M266.3 117.1L272.6 125.7M246.1 72.1L260.6 79.9M260.6 79.9L274 71.5M296 79.7L302.3 96.5M302.3 96.5L297.5 106.8" stroke="#03262a" stroke-width="4.9" stroke-linecap="round"/><path d="M337.1 55.7L342.6 41.4M342.6 41.4L351.4 40.1M342.6 41.4L353.2 37.7M353.2 37.7L335.3 40.4M335.3 40.4L328.6 52.2M328.6 52.2L318.4 50.9M317.3 70.2L321.1 60.9M321.1 60.9L314.8 55.1M321.1 60.9L333.6 60.1M333.6 60.1L338.2 50M333.6 60.1L340.4 71M340.4 71L354.1 69.2M326.7 46.8L313.5 46.3M313.5 46.3L309.7 35.8M313.5 46.3L306.9 60M306.9 60L295.3 62.9M287.6 95.6L284.8 83.5M284.8 83.5L272.2 81.7M255.9 105.9L245.3 106.4M245.3 106.4L241.3 94.6M245.3 106.4L236.8 118.3M272 80L261.9 76.9M261.9 76.9L255.6 60.6M255.6 60.6L247.7 59.1M255.6 60.6L265.7 50.5M265.7 50.5L273.5 54.7M265.7 50.5L282.4 56.9M330.8 65.6L340.9 64.8M340.9 64.8L353.9 76.5M353.9 76.5L366.1 72.2M272.7 35.7L285.4 41.2M285.4 41.2L286.2 51.5M285.4 41.2L298.8 27.9M298.8 27.9L309.6 31.9M298.8 27.9L309.8 29.5M309.8 29.5L316.8 42.9M239.7 121L255.6 118.4M255.6 118.4L258.1 103.2M258.1 103.2L267.6 98.1M258.1 103.2L245.2 96.2M245.2 96.2L237.9 100.1M272.9 29.8L263.2 33.7M263.2 33.7L253.4 27.6M263.2 33.7L262.3 49.5M265.5 59.3L266.2 72.4M266.2 72.4L276.2 77.9M266.2 72.4L256.9 77.8M256.9 77.8L259.4 89.8M256.9 77.8L245.6 69.5M244.4 88.2L235 102.6M235 102.6L243.2 114.5M243.2 114.5L235.5 102.9M293 44.6L282.5 58.6M282.5 58.6L287.3 68.5M287.3 68.5L281 75.6M263.6 86.5L267.1 99.5M267.1 99.5L282.8 102.2M282.8 102.2L288.8 111.3M231.5 59.7L227.1 75.7M227.1 75.7L236.2 82.1M227.1 75.7L228.5 62M228.5 62L220.9 58.3M228.5 62L240.1 59.4M264.4 74.2L276.9 66.2M276.9 66.2L276.3 57M276.9 66.2L274.1 48.7M274.1 48.7L262.5 42.4M262.5 42.4L256.8 25.2M249.3 53L252.4 67.5M252.4 67.5L269.1 70.8M269.1 70.8L275.5 88.6M277.4 114.5L265 120.5M265 120.5L255.3 109.1M325.2 42.1L335.4 55.8M335.4 55.8L328.6 67.8M244.2 99L238.8 85.7M238.8 85.7L244.5 72.4M294.1 86.8L300.5 70.6M300.5 70.6L291.7 59.9M291.7 59.9L293.7 44.2M293.7 44.2L284.7 35.9M232.9 50.9L216.5 55.3M249.1 120.6L266.3 117.1M266.3 117.1L272.6 125.7M246.1 72.1L260.6 79.9M260.6 79.9L274 71.5M296 79.7L302.3 96.5M302.3 96.5L297.5 106.8" stroke="#1a9ea2" stroke-width="2.8" stroke-linecap="round"/><path d="M339.8 48.6L342.6 41.4M347.9 39.5L353.2 37.7M258.8 68.8L255.6 60.6M267.3 75.7L274 71.5" stroke="#2a35e0" stroke-width="3.2" stroke-linecap="round"/><path d="M319.4 46.5L313.5 46.3M336.4 65.2L340.9 64.8M360.6 74.1L366.1 72.2M304.9 28.8L309.8 29.5M250.7 73.2L245.6 69.5M292.8 51.3L293.7 44.2" stroke="#f0453f" stroke-width="3.2" stroke-linecap="round"/><path d="M235 102.6L228.5 95.8M235 102.6L230.4 96.6M243.2 114.5L236.7 118.2M243.2 114.5L243.8 107.9M235.5 102.9L243 105.3M282.5 58.6L290.8 62.9M287.3 68.5L288 60.4M287.3 68.5L293.7 63M287.3 68.5L293.7 63.8M267.1 99.5L272.4 91.7M282.8 102.2L278.2 106M282.8 102.2L284.6 93.1M288.8 111.3L281.2 110.7M288.8 111.3L283.1 117.4M227.1 75.7L236.2 73.1M228.5 62L234.4 67.9M228.5 62L222.9 68.2M228.5 62L234.6 64.3M240.1 59.4L231.4 55.3M240.1 59.4L234.8 55M276.9 66.2L280 72.7M276.9 66.2L279.2 73.7M274.1 48.7L270.4 53.7M274.1 48.7L267.3 49.4M262.5 42.4L260 48.1M262.5 42.4L269.5 40.9M256.8 25.2L265.1 27.7M252.4 67.5L257.6 59.1M252.4 67.5L242.8 69.6M252.4 67.5L259.4 67.9M269.1 70.8L262.4 77.7M275.5 88.6L282.3 83.5M275.5 88.6L270.3 84.8M265 120.5L269.3 128.6M265 120.5L269 113.2M255.3 109.1L249.6 115.8M255.3 109.1L263.9 105M255.3 109.1L253.5 116.5M335.4 55.8L329.2 61.1M328.6 67.8L321.9 62.7M238.8 85.7L234.7 90.1M244.5 72.4L236.5 73.7M244.5 72.4L237.6 72.9M300.5 70.6L292.9 73.1M291.7 59.9L297.6 55.8M291.7 59.9L287.6 68.7M293.7 44.2L287.6 44.3M293.7 44.2L286.9 48M216.5 55.3L214.1 46.8M266.3 117.1L262.9 122.4M272.6 125.7L278 117.6M272.6 125.7L275 117.6M272.6 125.7L274.4 118.4M260.6 79.9L266.4 73.4M274 71.5L273.9 79.5M274 71.5L271.5 79.5M274 71.5L274.2 78.2M302.3 96.5L307.9 92.2M302.3 96.5L310.4 95.6M297.5 106.8L291.3 104.3M297.5 106.8L304.5 107.4M297.5 106.8L305 112.3" stroke="#0c1515" stroke-width="2.3"/><path d="M235 102.6L228.5 95.8M235 102.6L230.4 96.6M243.2 114.5L236.7 118.2M243.2 114.5L243.8 107.9M235.5 102.9L243 105.3M282.5 58.6L290.8 62.9M287.3 68.5L288 60.4M287.3 68.5L293.7 63M287.3 68.5L293.7 63.8M267.1 99.5L272.4 91.7M282.8 102.2L278.2 106M282.8 102.2L284.6 93.1M288.8 111.3L281.2 110.7M288.8 111.3L283.1 117.4M227.1 75.7L236.2 73.1M228.5 62L234.4 67.9M228.5 62L222.9 68.2M228.5 62L234.6 64.3M240.1 59.4L231.4 55.3M240.1 59.4L234.8 55M276.9 66.2L280 72.7M276.9 66.2L279.2 73.7M274.1 48.7L270.4 53.7M274.1 48.7L267.3 49.4M262.5 42.4L260 48.1M262.5 42.4L269.5 40.9M256.8 25.2L265.1 27.7M252.4 67.5L257.6 59.1M252.4 67.5L242.8 69.6M252.4 67.5L259.4 67.9M269.1 70.8L262.4 77.7M275.5 88.6L282.3 83.5M275.5 88.6L270.3 84.8M265 120.5L269.3 128.6M265 120.5L269 113.2M255.3 109.1L249.6 115.8M255.3 109.1L263.9 105M255.3 109.1L253.5 116.5M335.4 55.8L329.2 61.1M328.6 67.8L321.9 62.7M238.8 85.7L234.7 90.1M244.5 72.4L236.5 73.7M244.5 72.4L237.6 72.9M300.5 70.6L292.9 73.1M291.7 59.9L297.6 55.8M291.7 59.9L287.6 68.7M293.7 44.2L287.6 44.3M293.7 44.2L286.9 48M216.5 55.3L214.1 46.8M266.3 117.1L262.9 122.4M272.6 125.7L278 117.6M272.6 125.7L275 117.6M272.6 125.7L274.4 118.4M260.6 79.9L266.4 73.4M274 71.5L273.9 79.5M274 71.5L271.5 79.5M274 71.5L274.2 78.2M302.3 96.5L307.9 92.2M302.3 96.5L310.4 95.6M297.5 106.8L291.3 104.3M297.5 106.8L304.5 107.4M297.5 106.8L305 112.3" stroke="#9aa6a6" stroke-width="0.65"/></g><g fill="none" stroke-linecap="butt"><path d="M324.7 35L315.9 33.9M324.7 35L317.5 36.8M324.7 35L330.1 39.7M341.1 32.5L339.1 26.1M341.1 32.5L336.5 27.9M348.2 41.3L354.5 35.4M362.3 40L358.6 46.6M283.5 76.7L287.4 82.6M283.5 76.7L282.9 68.8M274 69.5L275.8 76.9M274 69.5L279.8 67.6M274 69.5L279.3 64.1M278.8 52.3L271.1 48.5M278.8 52.3L269.6 54.9M278.8 52.3L270.4 53.8M291.8 48.3L284.7 42M291.8 48.3L284.3 42.7M291.8 48.3L287.2 43.8M348.2 95.2L340.8 95M348.2 95.2L349.6 88.2M348.2 95.2L340 98.7M335.8 95.9L333.3 87.8M324.6 81.1L324.1 88.9M324.6 81.1L332.4 82.2M324.6 81.1L330.7 79.1M330 72.6L330 81M330 72.6L337.2 76.3M255.8 63.6L249.2 67.6M267.1 52.5L259.6 47M267.1 52.5L265.6 61M267.1 52.5L258.4 54M267.4 36.3L262.2 40.1M282.4 30.2L287.8 38.3M267.4 79.2L258.1 79.2M257.2 69.6L265.7 70.1M250 115.5L243.9 112.9M250 115.5L259.4 117.5M260.4 123.9L254.9 131.6M260.4 123.9L253.3 128.8M260.4 123.9L262.7 118.1M278.4 118.4L278.9 126.8M278.4 118.4L273 110.2M268.1 92.8L259.8 90.9M268.1 92.8L259.2 90.9M268.1 92.8L277.2 92.6M276.6 109.7L271 113M258.3 105.1L253.9 96.5M255.9 91L248.9 92M267.2 82.3L265.9 91.6M267.2 82.3L267.9 88.5M267.2 82.3L261.5 80M269.6 75L272.5 82.7M269.6 75L269.8 67.8M269.6 75L277.9 79.7M262.5 64.5L271.7 63.9M341.8 83.2L334.3 81.5M325.5 88.7L331.8 81.2M325.5 88.7L329.7 93.1M325.5 88.7L323.7 81.6M265 118.4L266.5 126.2M265 118.4L264.5 128.3M265 118.4L264.2 125.4M270 101.3L260.2 99.7M260.9 92.8L267.8 87.8M353.9 41L346.2 42.6M353.9 41L350.8 33.8M337.9 50.4L345.8 53.6M318.4 31.2L315.1 25M318.4 31.2L315.1 25.4M325.2 40.1L327.3 34.4M325.2 40.1L315.4 42.3" stroke="#0c1515" stroke-width="2.3"/><path d="M324.7 35L315.9 33.9M324.7 35L317.5 36.8M324.7 35L330.1 39.7M341.1 32.5L339.1 26.1M341.1 32.5L336.5 27.9M348.2 41.3L354.5 35.4M362.3 40L358.6 46.6M283.5 76.7L287.4 82.6M283.5 76.7L282.9 68.8M274 69.5L275.8 76.9M274 69.5L279.8 67.6M274 69.5L279.3 64.1M278.8 52.3L271.1 48.5M278.8 52.3L269.6 54.9M278.8 52.3L270.4 53.8M291.8 48.3L284.7 42M291.8 48.3L284.3 42.7M291.8 48.3L287.2 43.8M348.2 95.2L340.8 95M348.2 95.2L349.6 88.2M348.2 95.2L340 98.7M335.8 95.9L333.3 87.8M324.6 81.1L324.1 88.9M324.6 81.1L332.4 82.2M324.6 81.1L330.7 79.1M330 72.6L330 81M330 72.6L337.2 76.3M255.8 63.6L249.2 67.6M267.1 52.5L259.6 47M267.1 52.5L265.6 61M267.1 52.5L258.4 54M267.4 36.3L262.2 40.1M282.4 30.2L287.8 38.3M267.4 79.2L258.1 79.2M257.2 69.6L265.7 70.1M250 115.5L243.9 112.9M250 115.5L259.4 117.5M260.4 123.9L254.9 131.6M260.4 123.9L253.3 128.8M260.4 123.9L262.7 118.1M278.4 118.4L278.9 126.8M278.4 118.4L273 110.2M268.1 92.8L259.8 90.9M268.1 92.8L259.2 90.9M268.1 92.8L277.2 92.6M276.6 109.7L271 113M258.3 105.1L253.9 96.5M255.9 91L248.9 92M267.2 82.3L265.9 91.6M267.2 82.3L267.9 88.5M267.2 82.3L261.5 80M269.6 75L272.5 82.7M269.6 75L269.8 67.8M269.6 75L277.9 79.7M262.5 64.5L271.7 63.9M341.8 83.2L334.3 81.5M325.5 88.7L331.8 81.2M325.5 88.7L329.7 93.1M325.5 88.7L323.7 81.6M265 118.4L266.5 126.2M265 118.4L264.5 128.3M265 118.4L264.2 125.4M270 101.3L260.2 99.7M260.9 92.8L267.8 87.8M353.9 41L346.2 42.6M353.9 41L350.8 33.8M337.9 50.4L345.8 53.6M318.4 31.2L315.1 25M318.4 31.2L315.1 25.4M325.2 40.1L327.3 34.4M325.2 40.1L315.4 42.3" stroke="#9aa6a6" stroke-width="0.65"/><path d="M319.5 47.1L324.7 35M324.7 35L337.1 36.7M324.7 35L341.1 32.5M341.1 32.5L348.2 40.8M341.1 32.5L348.2 41.3M348.2 41.3L357 39.9M348.2 41.3L362.3 40M295.5 73.1L283.5 76.7M283.5 76.7L274 69.5M274 69.5L274.6 56.9M274 69.5L278.8 52.3M278.8 52.3L268.8 45.4M278.8 52.3L291.8 48.3M343 82.6L348.2 95.2M348.2 95.2L335.8 95.9M335.8 95.9L324.6 81.1M324.6 81.1L316.4 83M324.6 81.1L330 72.6M260.4 76.5L255.8 63.6M255.8 63.6L267.1 52.5M267.1 52.5L263.5 45.2M267.1 52.5L267.4 36.3M267.4 36.3L282.4 30.2M264.6 89.9L267.4 79.2M267.4 79.2L275.6 78.1M267.4 79.2L257.2 69.6M253 98.1L250 115.5M250 115.5L260.4 123.9M260.4 123.9L278.4 118.4M273.5 76.5L268.1 92.8M268.1 92.8L259.1 95.8M268.1 92.8L276.6 109.7M247.1 112.1L258.3 105.1M258.3 105.1L255.9 91M255.9 91L267.2 82.3M280.8 72.7L269.6 75M269.6 75L262.5 64.5M262.5 64.5L251.9 64.2M343.9 68.8L341.8 83.2M341.8 83.2L332.6 85.8M341.8 83.2L325.5 88.7M253.9 120.4L265 118.4M265 118.4L267.5 109.6M265 118.4L270 101.3M270 101.3L278.5 99.3M270 101.3L260.9 92.8M341.3 34.1L353.9 41M353.9 41L337.9 50.4M305.5 31.4L318.4 31.2M318.4 31.2L325.2 40.1M325.2 40.1L333.7 36.8M325.2 40.1L318.8 53.3M318.8 53.3L303.5 57.2M244.8 68.9L255.1 64.3M255.1 64.3L259.5 51.5M259.5 51.5L271.3 48.8M300.5 28.1L307.4 38M307.4 38L301.2 46.6M307.4 38L302.2 54.7M302.2 54.7L293.4 56.1M302.2 54.7L310.3 67.5M310.3 67.5L304.5 76M310.3 67.5L304 79.7M304 79.7L291.7 80.8M338.1 40L348.3 45.9M348.3 45.9L355.6 42M348.3 45.9L350.9 61.2M350.9 61.2L341.3 71.1M341.3 71.1L327.3 67M315.9 91.2L328.7 86.4M328.7 86.4L333.4 69.4M333.4 69.4L323.7 61.9M333.4 69.4L326.7 61.9M257.3 118.4L274.7 115.3M274.7 115.3L284 124M274.7 115.3L282 97.7M282 97.7L291.2 97.6M282 97.7L271.3 82M271.3 82L259 83.9M271.3 82L255.9 79.1M238.6 75.9L238.3 91.7M238.3 91.7L253.4 99.3M253.4 99.3L260.1 92.4M328 102.6L320.1 94.1M320.1 94.1L307.9 97.2M307.9 97.2L305.3 80.3M265.1 106.4L272.4 117.3M272.4 117.3L282.6 118.3M282.6 118.3L288 108.3M288 108.3L298.1 106.7M298.1 106.7L299.9 96.8M231 71.5L242.4 58.1M242.4 58.1L253.9 62.5M242.4 58.1L236.4 41.7M236.4 41.7L224 38.2M355.5 46.6L349.9 37.7M349.9 37.7L331.5 36.3M331.5 36.3L329.1 27.4M331.5 36.3L338.3 50.1M352.4 79.9L366.6 81.5M366.6 81.5L356.1 83.4M356.1 83.4L349.2 73.4M286.2 106.3L281.2 96.6M281.2 96.6L266.6 91.8M266.6 91.8L262.8 80.5M266.6 91.8L255.1 98.9M255.1 98.9L256.4 106.9" stroke="#03262a" stroke-width="4.9" stroke-linecap="round"/><path d="M319.5 47.1L324.7 35M324.7 35L337.1 36.7M324.7 35L341.1 32.5M341.1 32.5L348.2 40.8M341.1 32.5L348.2 41.3M348.2 41.3L357 39.9M348.2 41.3L362.3 40M295.5 73.1L283.5 76.7M283.5 76.7L274 69.5M274 69.5L274.6 56.9M274 69.5L278.8 52.3M278.8 52.3L268.8 45.4M278.8 52.3L291.8 48.3M343 82.6L348.2 95.2M348.2 95.2L335.8 95.9M335.8 95.9L324.6 81.1M324.6 81.1L316.4 83M324.6 81.1L330 72.6M260.4 76.5L255.8 63.6M255.8 63.6L267.1 52.5M267.1 52.5L263.5 45.2M267.1 52.5L267.4 36.3M267.4 36.3L282.4 30.2M264.6 89.9L267.4 79.2M267.4 79.2L275.6 78.1M267.4 79.2L257.2 69.6M253 98.1L250 115.5M250 115.5L260.4 123.9M260.4 123.9L278.4 118.4M273.5 76.5L268.1 92.8M268.1 92.8L259.1 95.8M268.1 92.8L276.6 109.7M247.1 112.1L258.3 105.1M258.3 105.1L255.9 91M255.9 91L267.2 82.3M280.8 72.7L269.6 75M269.6 75L262.5 64.5M262.5 64.5L251.9 64.2M343.9 68.8L341.8 83.2M341.8 83.2L332.6 85.8M341.8 83.2L325.5 88.7M253.9 120.4L265 118.4M265 118.4L267.5 109.6M265 118.4L270 101.3M270 101.3L278.5 99.3M270 101.3L260.9 92.8M341.3 34.1L353.9 41M353.9 41L337.9 50.4M305.5 31.4L318.4 31.2M318.4 31.2L325.2 40.1M325.2 40.1L333.7 36.8M325.2 40.1L318.8 53.3M318.8 53.3L303.5 57.2M244.8 68.9L255.1 64.3M255.1 64.3L259.5 51.5M259.5 51.5L271.3 48.8M300.5 28.1L307.4 38M307.4 38L301.2 46.6M307.4 38L302.2 54.7M302.2 54.7L293.4 56.1M302.2 54.7L310.3 67.5M310.3 67.5L304.5 76M310.3 67.5L304 79.7M304 79.7L291.7 80.8M338.1 40L348.3 45.9M348.3 45.9L355.6 42M348.3 45.9L350.9 61.2M350.9 61.2L341.3 71.1M341.3 71.1L327.3 67M315.9 91.2L328.7 86.4M328.7 86.4L333.4 69.4M333.4 69.4L323.7 61.9M333.4 69.4L326.7 61.9M257.3 118.4L274.7 115.3M274.7 115.3L284 124M274.7 115.3L282 97.7M282 97.7L291.2 97.6M282 97.7L271.3 82M271.3 82L259 83.9M271.3 82L255.9 79.1M238.6 75.9L238.3 91.7M238.3 91.7L253.4 99.3M253.4 99.3L260.1 92.4M328 102.6L320.1 94.1M320.1 94.1L307.9 97.2M307.9 97.2L305.3 80.3M265.1 106.4L272.4 117.3M272.4 117.3L282.6 118.3M282.6 118.3L288 108.3M288 108.3L298.1 106.7M298.1 106.7L299.9 96.8M231 71.5L242.4 58.1M242.4 58.1L253.9 62.5M242.4 58.1L236.4 41.7M236.4 41.7L224 38.2M355.5 46.6L349.9 37.7M349.9 37.7L331.5 36.3M331.5 36.3L329.1 27.4M331.5 36.3L338.3 50.1M352.4 79.9L366.6 81.5M366.6 81.5L356.1 83.4M356.1 83.4L349.2 73.4M286.2 106.3L281.2 96.6M281.2 96.6L266.6 91.8M266.6 91.8L262.8 80.5M266.6 91.8L255.1 98.9M255.1 98.9L256.4 106.9" stroke="#1ca3a6" stroke-width="2.8" stroke-linecap="round"/><path d="M289.5 74.9L283.5 76.7M327.3 76.9L330 72.6M274.9 33.2L282.4 30.2M272.3 101.3L276.6 109.7M252.7 108.6L258.3 105.1M257.1 98.1L255.9 91M333.7 85.9L325.5 88.7M322 46.7L318.8 53.3M304.8 46.3L302.2 54.7M343.2 42.9L348.3 45.9M349.6 53.6L350.9 61.2M324.1 98.3L320.1 94.1M334.9 43.2L338.3 50.1M361.3 82.5L356.1 83.4" stroke="#2a35e0" stroke-width="3.2" stroke-linecap="round"/><path d="M267.7 109L270 101.3M312.6 31.3L318.4 31.2M262.8 80.4L255.9 79.1M237.3 64.2L242.4 58.1" stroke="#f0453f" stroke-width="3.2" stroke-linecap="round"/><path d="M318.8 53.3L316.3 45.6M318.8 53.3L313 51.3M318.8 53.3L317.7 45.3M303.5 57.2L310.3 61.8M303.5 57.2L308.6 63.4M303.5 57.2L300.4 49.4M255.1 64.3L248.9 57.8M255.1 64.3L248.5 62.4M259.5 51.5L264.5 54.9M307.4 38L312.2 29.8M307.4 38L313.9 31.5M302.2 54.7L310.6 51.6M310.3 67.5L302.4 73.3M304 79.7L311.3 75.6M348.3 45.9L338.6 47.6M350.9 61.2L356.4 58M350.9 61.2L344.6 59.7M350.9 61.2L344.3 55.4M341.3 71.1L347.8 74.6M341.3 71.1L349.8 70.8M327.3 67L324.6 74.1M327.3 67L323 74.6M327.3 67L333.2 60.3M328.7 86.4L329.8 92.5M328.7 86.4L320.9 80.7M328.7 86.4L322.4 81M333.4 69.4L327.9 66.5M333.4 69.4L325.8 66.6M333.4 69.4L336 77.8M326.7 61.9L326.9 68.4M326.7 61.9L321.3 66.8M274.7 115.3L272.3 124.8M282 97.7L273.1 97.2M282 97.7L273.3 99.4M271.3 82L269.1 87.8M271.3 82L265.2 85.5M255.9 79.1L254.6 87.6M255.9 79.1L259 72.2M238.3 91.7L245.8 89.1M238.3 91.7L233 87.5M253.4 99.3L251.6 108.1M320.1 94.1L326.3 87.7M307.9 97.2L313.9 102.7M305.3 80.3L313.5 83.1M272.4 117.3L277.4 109.4M282.6 118.3L276.8 121.7M288 108.3L295.2 112.8M288 108.3L293 113.8M298.1 106.7L294.1 113.6M298.1 106.7L296.1 98.1M298.1 106.7L300 114.8M242.4 58.1L248.9 63.1M242.4 58.1L247.1 63.3M242.4 58.1L235.8 53.3M236.4 41.7L230.7 43.8M349.9 37.7L344.5 40.6M331.5 36.3L336.1 28.7M331.5 36.3L330 28.2M331.5 36.3L333.8 27M338.3 50.1L342 41.6M338.3 50.1L341.1 44.4M338.3 50.1L340.8 43.9M366.6 81.5L364.7 75.8M356.1 83.4L361.3 76.9M356.1 83.4L353.6 73.8M281.2 96.6L273.9 101.5M281.2 96.6L279.6 102.9M281.2 96.6L288 96M266.6 91.8L271.7 87.4M255.1 98.9L257.2 104.9M255.1 98.9L259.8 106.6" stroke="#0c1515" stroke-width="2.3"/><path d="M318.8 53.3L316.3 45.6M318.8 53.3L313 51.3M318.8 53.3L317.7 45.3M303.5 57.2L310.3 61.8M303.5 57.2L308.6 63.4M303.5 57.2L300.4 49.4M255.1 64.3L248.9 57.8M255.1 64.3L248.5 62.4M259.5 51.5L264.5 54.9M307.4 38L312.2 29.8M307.4 38L313.9 31.5M302.2 54.7L310.6 51.6M310.3 67.5L302.4 73.3M304 79.7L311.3 75.6M348.3 45.9L338.6 47.6M350.9 61.2L356.4 58M350.9 61.2L344.6 59.7M350.9 61.2L344.3 55.4M341.3 71.1L347.8 74.6M341.3 71.1L349.8 70.8M327.3 67L324.6 74.1M327.3 67L323 74.6M327.3 67L333.2 60.3M328.7 86.4L329.8 92.5M328.7 86.4L320.9 80.7M328.7 86.4L322.4 81M333.4 69.4L327.9 66.5M333.4 69.4L325.8 66.6M333.4 69.4L336 77.8M326.7 61.9L326.9 68.4M326.7 61.9L321.3 66.8M274.7 115.3L272.3 124.8M282 97.7L273.1 97.2M282 97.7L273.3 99.4M271.3 82L269.1 87.8M271.3 82L265.2 85.5M255.9 79.1L254.6 87.6M255.9 79.1L259 72.2M238.3 91.7L245.8 89.1M238.3 91.7L233 87.5M253.4 99.3L251.6 108.1M320.1 94.1L326.3 87.7M307.9 97.2L313.9 102.7M305.3 80.3L313.5 83.1M272.4 117.3L277.4 109.4M282.6 118.3L276.8 121.7M288 108.3L295.2 112.8M288 108.3L293 113.8M298.1 106.7L294.1 113.6M298.1 106.7L296.1 98.1M298.1 106.7L300 114.8M242.4 58.1L248.9 63.1M242.4 58.1L247.1 63.3M242.4 58.1L235.8 53.3M236.4 41.7L230.7 43.8M349.9 37.7L344.5 40.6M331.5 36.3L336.1 28.7M331.5 36.3L330 28.2M331.5 36.3L333.8 27M338.3 50.1L342 41.6M338.3 50.1L341.1 44.4M338.3 50.1L340.8 43.9M366.6 81.5L364.7 75.8M356.1 83.4L361.3 76.9M356.1 83.4L353.6 73.8M281.2 96.6L273.9 101.5M281.2 96.6L279.6 102.9M281.2 96.6L288 96M266.6 91.8L271.7 87.4M255.1 98.9L257.2 104.9M255.1 98.9L259.8 106.6" stroke="#9aa6a6" stroke-width="0.65"/></g>
</g>
<path d="M277 104 L290 98 L299 100 L306 98 L316 104 L311 110 L303 113 L297 112 L288 113 L279 112 Z" fill="#e9c83b" stroke="#8b7a1f" stroke-width="0.8" stroke-linejoin="round"/>
<g fill="none"><path d="M299 117L299 128.5M290 111L299 117M299 117L308 110M291 97L297 104M301 92L301 101M309 95L305 102M284 100L279 94" stroke="#0a3e42" stroke-width="3.9" stroke-linecap="round"/><path d="M299 117L299 128.5M290 111L299 117M299 117L308 110M291 97L297 104M301 92L301 101M309 95L305 102M284 100L279 94" stroke="#1b979b" stroke-width="2.5" stroke-linecap="round"/></g>
<g fill="none"><path d="M382 111L388 103M382 111L392 117M382 111L384 101M352 146L345 147M352 146L358 156M352 146L348 154M357 122L345 123M351 130L343 133M365 138L372 144M368 116L362 104M356 109L361 100M380 134L386 128M331 96L326 89" stroke="#1d2b2b" stroke-width="2.2"/><path d="M382 111L388 103M382 111L392 117M382 111L384 101M352 146L345 147M352 146L358 156M352 146L348 154M357 122L345 123M351 130L343 133M365 138L372 144M368 116L362 104M356 109L361 100M380 134L386 128M331 96L326 89" stroke="#b9c4c4" stroke-width="0.8"/><path d="M331 96L343 91M343 91L346.5 104M346.5 104L336 113M336 113L326.5 106M326.5 106L331 96M316 104L326.5 106M346.5 104L356 109M356 109L368 116M368 116L372 127M368 116L382 111M372 127L365 138M365 138L352 146M372 127L380 134M336 113L336 124M343 91L350 85M356 109L357 122M357 122L351 130" stroke="#0a3e42" stroke-width="3.9" stroke-linecap="round"/><path d="M331 96L343 91M343 91L346.5 104M346.5 104L336 113M336 113L326.5 106M326.5 106L331 96M316 104L326.5 106M346.5 104L356 109M356 109L368 116M368 116L372 127M368 116L382 111M372 127L365 138M365 138L352 146M372 127L380 134M336 113L336 124M343 91L350 85M356 109L357 122M357 122L351 130" stroke="#1b979b" stroke-width="2.5" stroke-linecap="round"/><path d="M346.5 104L353 107.5M376 130.5L381 135" stroke="#2a35e0" stroke-width="2.7" stroke-linecap="round"/><path d="M381 135L387 141" stroke="#f0453f" stroke-width="2.7" stroke-linecap="round"/><path d="M336 119L336 127M347 88L352 83" stroke="#6b1f1f" stroke-width="2.7" stroke-linecap="round"/></g>
<g filter="url(#cblur)" opacity="0.55">
<ellipse cx="344" cy="374" rx="12.9" ry="25.2" transform="rotate(14.3 344 374)" fill="#7fb3b6" fill-opacity="0.25" filter="url(#blur3)"/><ellipse cx="356" cy="420" rx="18.9" ry="13.4" transform="rotate(0 356 420)" fill="#7fb3b6" fill-opacity="0.25" filter="url(#blur3)"/><g fill="none" stroke-linecap="butt"><path d="M360.3 408.1L356 416.8M360.3 408.1L357.3 414.3M360.3 408.1L365.7 400.3M352.4 419L361.3 419.1M352.4 419L351.9 409.9M335.2 420L333.3 412.7M342.6 420.1L345.2 426.2M342.6 420.1L339.2 427.6M342.6 420.1L346.6 428.2M355.8 410.4L346.7 408.1M355.8 410.4L349.4 409.9M355.8 410.4L358.2 417.7M349.3 395L341.2 393.5M338 399.6L345.5 401.1M340 386.5L333.3 388.8M340 386.5L334.4 391M355.1 378.2L358.2 387.4M355.1 378.2L355.7 384.8M359.1 361.5L350.8 362.5M329.4 371.3L333.2 379.4" stroke="#0c1515" stroke-width="2.3"/><path d="M360.3 408.1L356 416.8M360.3 408.1L357.3 414.3M360.3 408.1L365.7 400.3M352.4 419L361.3 419.1M352.4 419L351.9 409.9M335.2 420L333.3 412.7M342.6 420.1L345.2 426.2M342.6 420.1L339.2 427.6M342.6 420.1L346.6 428.2M355.8 410.4L346.7 408.1M355.8 410.4L349.4 409.9M355.8 410.4L358.2 417.7M349.3 395L341.2 393.5M338 399.6L345.5 401.1M340 386.5L333.3 388.8M340 386.5L334.4 391M355.1 378.2L358.2 387.4M355.1 378.2L355.7 384.8M359.1 361.5L350.8 362.5M329.4 371.3L333.2 379.4" stroke="#9aa6a6" stroke-width="0.65"/><path d="M344.2 399.1L360.3 408.1M360.3 408.1L352.4 419M352.4 419L335.2 420M356 423.4L342.6 420.1M342.6 420.1L355.8 410.4M343.1 409.4L349.3 395M349.3 395L338 399.6M339.8 399.2L340 386.5M340 386.5L350.3 381.3M340 386.5L355.1 378.2M355.1 378.2L359.1 361.5M346.8 375.5L329.4 371.3M329.4 371.3L334 360.2M341.7 370.8L353 386M353 386L344 402.5M344 402.5L352.4 418.9M339 398.7L345.6 414.4M345.6 414.4L355.2 415.5M345.6 414.4L347 396.5M347 396.5L351.4 408.5M347.3 372.1L358.6 359.6M358.6 359.6L354.3 348.5M358.6 359.6L345.1 358.3M345.1 358.3L339.2 366.4M340.9 385.3L342.2 396.6" stroke="#03262a" stroke-width="4.9" stroke-linecap="round"/><path d="M344.2 399.1L360.3 408.1M360.3 408.1L352.4 419M352.4 419L335.2 420M356 423.4L342.6 420.1M342.6 420.1L355.8 410.4M343.1 409.4L349.3 395M349.3 395L338 399.6M339.8 399.2L340 386.5M340 386.5L350.3 381.3M340 386.5L355.1 378.2M355.1 378.2L359.1 361.5M346.8 375.5L329.4 371.3M329.4 371.3L334 360.2M341.7 370.8L353 386M353 386L344 402.5M344 402.5L352.4 418.9M339 398.7L345.6 414.4M345.6 414.4L355.2 415.5M345.6 414.4L347 396.5M347 396.5L351.4 408.5M347.3 372.1L358.6 359.6M358.6 359.6L354.3 348.5M358.6 359.6L345.1 358.3M345.1 358.3L339.2 366.4M340.9 385.3L342.2 396.6" stroke="#1a9ea2" stroke-width="2.8" stroke-linecap="round"/><path d="M356.4 413.5L352.4 419M346.2 402.2L349.3 395M348.2 410.7L352.4 418.9M346.3 405.5L347 396.5" stroke="#2a35e0" stroke-width="3.2" stroke-linecap="round"/><path d="M342.9 419.5L335.2 420" stroke="#f0453f" stroke-width="3.2" stroke-linecap="round"/><path d="M329.4 371.3L326.5 378.8M334 360.2L335.9 366M334 360.2L325.4 361.3M334 360.2L338 365.1M353 386L345.2 386.2M344 402.5L352.2 404.9M344 402.5L350.6 408.7M352.4 418.9L346.9 423.3M345.6 414.4L340.3 410.9M347 396.5L355.9 400.3M347 396.5L353.3 398.9M351.4 408.5L353.1 402.4M351.4 408.5L344.6 403.6M358.6 359.6L353.1 357.3M358.6 359.6L354.9 354.8M358.6 359.6L364.3 362.9M345.1 358.3L347.2 351.5M339.2 366.4L333.9 358.5M342.2 396.6L350.5 391.5M342.2 396.6L349 392M342.2 396.6L348.9 393.5" stroke="#0c1515" stroke-width="2.3"/><path d="M329.4 371.3L326.5 378.8M334 360.2L335.9 366M334 360.2L325.4 361.3M334 360.2L338 365.1M353 386L345.2 386.2M344 402.5L352.2 404.9M344 402.5L350.6 408.7M352.4 418.9L346.9 423.3M345.6 414.4L340.3 410.9M347 396.5L355.9 400.3M347 396.5L353.3 398.9M351.4 408.5L353.1 402.4M351.4 408.5L344.6 403.6M358.6 359.6L353.1 357.3M358.6 359.6L354.9 354.8M358.6 359.6L364.3 362.9M345.1 358.3L347.2 351.5M339.2 366.4L333.9 358.5M342.2 396.6L350.5 391.5M342.2 396.6L349 392M342.2 396.6L348.9 393.5" stroke="#9aa6a6" stroke-width="0.65"/></g><g fill="none" stroke-linecap="butt"><path d="M348.9 425.6L358.3 428.7M341.8 416.3L351.6 415.7M341.8 416.3L333.7 420M341.8 416.3L339.4 423.3M344.2 406.3L351.6 411M355.5 435.4L360.7 428.1M355.5 435.4L346.3 433.5M354.8 423.4L359.4 429.2M354.8 423.4L349.4 426.4M345.8 415.6L352.3 410.5M345.8 415.6L340 420.5M345.8 415.6L352 416.2M344.1 431.5L339.7 424M345.2 414.9L350.9 417M345.2 414.9L352.2 414.2M345.2 414.9L339.3 422.8M357.1 417.5L359 409.3M357.1 417.5L352.1 424.8M357.1 417.5L352.7 413.1M365.6 431.9L357.1 433.6M351.9 374.8L359.5 376.9M351.9 374.8L345.2 379.2M351.9 374.8L358.2 382.3M343.3 363.8L350 364.2" stroke="#0c1515" stroke-width="2.3"/><path d="M348.9 425.6L358.3 428.7M341.8 416.3L351.6 415.7M341.8 416.3L333.7 420M341.8 416.3L339.4 423.3M344.2 406.3L351.6 411M355.5 435.4L360.7 428.1M355.5 435.4L346.3 433.5M354.8 423.4L359.4 429.2M354.8 423.4L349.4 426.4M345.8 415.6L352.3 410.5M345.8 415.6L340 420.5M345.8 415.6L352 416.2M344.1 431.5L339.7 424M345.2 414.9L350.9 417M345.2 414.9L352.2 414.2M345.2 414.9L339.3 422.8M357.1 417.5L359 409.3M357.1 417.5L352.1 424.8M357.1 417.5L352.7 413.1M365.6 431.9L357.1 433.6M351.9 374.8L359.5 376.9M351.9 374.8L345.2 379.2M351.9 374.8L358.2 382.3M343.3 363.8L350 364.2" stroke="#9aa6a6" stroke-width="0.65"/><path d="M366 419.8L348.9 425.6M348.9 425.6L341.7 419.7M348.9 425.6L341.8 416.3M341.8 416.3L344.2 406.3M344.2 406.3L334.4 400.2M356.6 419.9L355.5 435.4M355.5 435.4L354.8 423.4M354.8 423.4L345.8 415.6M347.4 418L344.1 431.5M344.1 431.5L345.2 414.9M345.2 414.9L357.1 417.5M357.1 417.5L365.6 431.9M346 387.2L351.9 374.8M351.9 374.8L343.3 363.8M332.6 372.6L346.1 360.1M346.1 360.1L359.8 360.6M359.8 360.6L348.9 372.3M348.9 372.3L351.4 381.9M358.9 405.9L354 417.3M354 417.3L338.8 419.7M338.8 419.7L335.2 426.9M338.8 419.7L351.3 429.4M351.3 429.4L366.3 427.8M360.1 419L350.6 424.6M350.6 424.6L343.9 410.2M343.9 410.2L355 406.3M364 420.6L373.9 427.2" stroke="#03262a" stroke-width="4.9" stroke-linecap="round"/><path d="M366 419.8L348.9 425.6M348.9 425.6L341.7 419.7M348.9 425.6L341.8 416.3M341.8 416.3L344.2 406.3M344.2 406.3L334.4 400.2M356.6 419.9L355.5 435.4M355.5 435.4L354.8 423.4M354.8 423.4L345.8 415.6M347.4 418L344.1 431.5M344.1 431.5L345.2 414.9M345.2 414.9L357.1 417.5M357.1 417.5L365.6 431.9M346 387.2L351.9 374.8M351.9 374.8L343.3 363.8M332.6 372.6L346.1 360.1M346.1 360.1L359.8 360.6M359.8 360.6L348.9 372.3M348.9 372.3L351.4 381.9M358.9 405.9L354 417.3M354 417.3L338.8 419.7M338.8 419.7L335.2 426.9M338.8 419.7L351.3 429.4M351.3 429.4L366.3 427.8M360.1 419L350.6 424.6M350.6 424.6L343.9 410.2M343.9 410.2L355 406.3M364 420.6L373.9 427.2" stroke="#1ca3a6" stroke-width="2.8" stroke-linecap="round"/><path d="M344.7 423.2L345.2 414.9M354.3 366.5L348.9 372.3M347.3 417.4L343.9 410.2M368.9 423.9L373.9 427.2" stroke="#2a35e0" stroke-width="3.2" stroke-linecap="round"/><path d="M343.3 363.8L342.7 371.1M343.3 363.8L352.9 366M346.1 360.1L349.7 365.2M359.8 360.6L355.6 369.7M359.8 360.6L353.1 353.8M348.9 372.3L355 375.2M348.9 372.3L356.7 378.5M354 417.3L352.7 408.4M354 417.3L362 414.8M338.8 419.7L341.3 410.8M338.8 419.7L340.4 428.8M351.3 429.4L352.1 422.4M351.3 429.4L347.8 434.6M351.3 429.4L354.9 423.8M366.3 427.8L361.3 420.9M350.6 424.6L349.9 418.6M343.9 410.2L337.7 417.2M343.9 410.2L351.8 406.5M355 406.3L360.2 414.2M355 406.3L347 401.6M355 406.3L351.4 414.1M373.9 427.2L373.2 418.5M373.9 427.2L369.8 435.9M373.9 427.2L367.1 429" stroke="#0c1515" stroke-width="2.3"/><path d="M343.3 363.8L342.7 371.1M343.3 363.8L352.9 366M346.1 360.1L349.7 365.2M359.8 360.6L355.6 369.7M359.8 360.6L353.1 353.8M348.9 372.3L355 375.2M348.9 372.3L356.7 378.5M354 417.3L352.7 408.4M354 417.3L362 414.8M338.8 419.7L341.3 410.8M338.8 419.7L340.4 428.8M351.3 429.4L352.1 422.4M351.3 429.4L347.8 434.6M351.3 429.4L354.9 423.8M366.3 427.8L361.3 420.9M350.6 424.6L349.9 418.6M343.9 410.2L337.7 417.2M343.9 410.2L351.8 406.5M355 406.3L360.2 414.2M355 406.3L347 401.6M355 406.3L351.4 414.1M373.9 427.2L373.2 418.5M373.9 427.2L369.8 435.9M373.9 427.2L367.1 429" stroke="#9aa6a6" stroke-width="0.65"/></g>
</g>
<g filter="url(#cblur)">
<ellipse cx="392" cy="356" rx="34.4" ry="50.4" transform="rotate(5.7 392 356)" fill="#2c6f74" fill-opacity="0.4" filter="url(#blur3)"/><ellipse cx="368" cy="408" rx="22.4" ry="21.8" transform="rotate(0 368 408)" fill="#2c6f74" fill-opacity="0.4" filter="url(#blur3)"/><g fill="none" stroke-linecap="butt"><path d="M368.6 419.5L364.1 413.3M352.6 409.9L349.8 418.5M352.6 409.9L346.5 416.4M383.3 307.5L390.6 311.8M383.3 307.5L389.3 306.1M383.3 307.5L391.4 308.5M392.8 296.9L397.1 303.6M392.8 296.9L401 301M392.8 296.9L394.6 303.2M376.7 321.6L375.7 315.5M374.9 340.3L365.3 339.6M374.9 340.3L380.4 337.2M374.9 340.3L367.2 335.2M401.9 321.8L401.9 330.7M401.9 321.8L406.7 327.3M394.2 334.5L401.9 337.5M398.9 347.5L403.2 341.4M398.9 347.5L389.5 347.9M396.5 391.8L402.5 398.7M390 382L397.6 380.2M361.4 327L363 333.9M361.4 327L363.7 320.7M355.2 343.3L362.1 338M377.4 304.5L371.7 307.7M377.4 304.5L385.2 302.6M377.4 304.5L369.2 309.5M388.1 310.1L381.3 315.4M389.2 320.7L383 318.3M389.2 320.7L395.8 317.7M373.9 303L381.8 298.1M373.9 303L368.2 309.7M373.9 303L380 296M367.9 321L358.6 319M377.4 337.2L382.5 329.1M377.4 337.2L367.7 339.4M377.4 337.2L381.3 329.3M391.9 337.1L390.6 344.9M391.9 337.1L389.1 330.1M391.4 417.5L399.6 419M391.4 417.5L398.1 422.5M377.7 416.6L385.6 410.5M377.7 416.6L379.3 408.2M377.7 416.6L382.4 408.6M372.6 407.9L377.2 403.5M372.6 407.9L372.5 416.1M372.6 407.9L369.9 415.5M355.8 411.1L355.1 405M355.8 411.1L355.6 404.3M384 345.1L392.9 345.1M384 345.1L392.1 344.8M384 345.1L384.8 335.7M391.3 359.1L400.2 354.7M391.3 359.1L398.2 353.7M382.5 372.9L379.3 365.7M382.5 372.9L377.3 368.2M382.5 372.9L374.2 370M378.4 357.4L386.6 352.3M378.4 357.4L377 349.1M395.2 350.4L386.3 347.4M397.2 337.9L391.7 340.5M397.2 337.9L388.7 340.8M413.4 310.3L410.2 315.7M408.7 320.2L416.8 320.2M397.5 319.5L397.8 310.2M397.5 319.5L397.3 311.6M397.5 319.5L396.2 313.1M395.9 338.2L402.3 344.7M395.9 338.2L401.2 342.5M405.8 343.3L397.8 348.1M408.1 355.7L403.6 351.6M408.1 355.7L401.6 351.9M417 361.2L411.8 367.1M417 361.2L408.2 363.2M419.8 315.1L416.8 306.3M419.8 315.1L419.3 324.6M419.8 315.1L421.6 321.4M406.3 310.7L402.5 319.3" stroke="#0c1515" stroke-width="2.3"/><path d="M368.6 419.5L364.1 413.3M352.6 409.9L349.8 418.5M352.6 409.9L346.5 416.4M383.3 307.5L390.6 311.8M383.3 307.5L389.3 306.1M383.3 307.5L391.4 308.5M392.8 296.9L397.1 303.6M392.8 296.9L401 301M392.8 296.9L394.6 303.2M376.7 321.6L375.7 315.5M374.9 340.3L365.3 339.6M374.9 340.3L380.4 337.2M374.9 340.3L367.2 335.2M401.9 321.8L401.9 330.7M401.9 321.8L406.7 327.3M394.2 334.5L401.9 337.5M398.9 347.5L403.2 341.4M398.9 347.5L389.5 347.9M396.5 391.8L402.5 398.7M390 382L397.6 380.2M361.4 327L363 333.9M361.4 327L363.7 320.7M355.2 343.3L362.1 338M377.4 304.5L371.7 307.7M377.4 304.5L385.2 302.6M377.4 304.5L369.2 309.5M388.1 310.1L381.3 315.4M389.2 320.7L383 318.3M389.2 320.7L395.8 317.7M373.9 303L381.8 298.1M373.9 303L368.2 309.7M373.9 303L380 296M367.9 321L358.6 319M377.4 337.2L382.5 329.1M377.4 337.2L367.7 339.4M377.4 337.2L381.3 329.3M391.9 337.1L390.6 344.9M391.9 337.1L389.1 330.1M391.4 417.5L399.6 419M391.4 417.5L398.1 422.5M377.7 416.6L385.6 410.5M377.7 416.6L379.3 408.2M377.7 416.6L382.4 408.6M372.6 407.9L377.2 403.5M372.6 407.9L372.5 416.1M372.6 407.9L369.9 415.5M355.8 411.1L355.1 405M355.8 411.1L355.6 404.3M384 345.1L392.9 345.1M384 345.1L392.1 344.8M384 345.1L384.8 335.7M391.3 359.1L400.2 354.7M391.3 359.1L398.2 353.7M382.5 372.9L379.3 365.7M382.5 372.9L377.3 368.2M382.5 372.9L374.2 370M378.4 357.4L386.6 352.3M378.4 357.4L377 349.1M395.2 350.4L386.3 347.4M397.2 337.9L391.7 340.5M397.2 337.9L388.7 340.8M413.4 310.3L410.2 315.7M408.7 320.2L416.8 320.2M397.5 319.5L397.8 310.2M397.5 319.5L397.3 311.6M397.5 319.5L396.2 313.1M395.9 338.2L402.3 344.7M395.9 338.2L401.2 342.5M405.8 343.3L397.8 348.1M408.1 355.7L403.6 351.6M408.1 355.7L401.6 351.9M417 361.2L411.8 367.1M417 361.2L408.2 363.2M419.8 315.1L416.8 306.3M419.8 315.1L419.3 324.6M419.8 315.1L421.6 321.4M406.3 310.7L402.5 319.3" stroke="#9aa6a6" stroke-width="0.65"/><path d="M385.3 411.5L368.6 419.5M368.6 419.5L352.6 409.9M388.2 324.5L383.3 307.5M383.3 307.5L392.8 296.9M390.3 315.2L376.7 321.6M376.7 321.6L378.5 332.1M376.7 321.6L374.9 340.3M416.7 323.1L401.9 321.8M401.9 321.8L394.9 310.9M401.9 321.8L394.2 334.5M394.2 334.5L385.9 332.5M394.2 334.5L398.9 347.5M398.9 347.5L408.4 348.7M389 405.6L396.5 391.8M396.5 391.8L407.7 394.4M396.5 391.8L390 382M390 382L379.2 385.5M371.6 324L361.4 327M361.4 327L355.2 343.3M381.5 321.6L377.4 304.5M377.4 304.5L388.1 310.1M388.1 310.1L389.2 320.7M389.2 320.7L381.7 324M384.7 318.4L373.9 303M373.9 303L367.9 321M367.9 321L377.4 337.2M377.4 337.2L391.9 337.1M391.9 337.1L399.5 327.1M398.2 407.8L391.4 417.5M391.4 417.5L377.7 416.6M377.7 416.6L372.4 407.1M377.7 416.6L372.6 407.9M372.6 407.9L363 410.4M372.6 407.9L355.8 411.1M355.8 411.1L350.6 422.1M391.7 335.5L384 345.1M384 345.1L391.3 359.1M391.3 359.1L403.4 359.8M391.3 359.1L382.5 372.9M382.5 372.9L387.4 384.4M367.5 346.4L378.4 357.4M378.4 357.4L395.2 350.4M395.2 350.4L394.8 339.1M395.2 350.4L397.2 337.9M418 319.7L413.4 310.3M413.4 310.3L408.7 320.2M408.7 320.2L397.5 319.5M397.5 319.5L395 310.7M386.9 345.9L395.9 338.2M395.9 338.2L404.6 343.9M395.9 338.2L405.8 343.3M405.8 343.3L415.7 337.9M405.8 343.3L408.1 355.7M408.1 355.7L417 361.2M417 361.2L417.7 371M408.4 316.8L419.8 315.1M419.8 315.1L406.3 310.7M406.3 310.7L400.1 318.6M406.3 310.7L391.8 318.4M391.8 318.4L387.2 335.7M375.2 413L384.6 417.3M384.6 417.3L391.6 410.4M384.6 417.3L394.7 411.6M394.7 411.6L380.1 417.7M380.1 417.7L368.1 411.9M405.8 371L393.4 375.1M393.4 375.1L387.3 368.4M393.4 375.1L380.9 362.8M380.9 362.8L387.1 347.2M387.1 347.2L398.4 345M379.7 383.6L365.4 383.8M365.4 383.8L360.6 373.9M365.4 383.8L356.5 373.3M345 401.5L357.3 396.6M357.3 396.6L356.4 380.3M393.6 331.8L404.8 338.8M404.8 338.8L407.3 357M407.3 357L394.2 368.5M393.6 393.9L403.7 403.1M403.7 403.1L413.1 401.5M403.7 403.1L416.5 397.8M416.5 397.8L404.7 409.8M404.7 409.8L392.9 407.9M379.9 368.7L378.3 380.1M378.3 380.1L389.3 387.1M389.3 387.1L388.5 405.9M388.5 405.9L379.2 414.2M379.2 414.2L381.7 425.3M410.4 383.2L415.4 396.3M415.4 396.3L401.7 409.2M401.7 409.2L392.5 404.3M417.8 361L423.9 343.9M423.9 343.9L417.4 332.3M417.4 332.3L422.6 314.9M422.6 314.9L413.8 304.2M413.8 304.2L403.3 305.7M365.6 363L352.3 362.2M386.9 360.3L376.4 360.8M376.4 360.8L372.9 370.7M372.9 370.7L360.7 372.1M360.7 372.1L356.6 382.1M355.2 397.3L361 411.8M361 411.8L379.3 413.2M379.3 413.2L382 424.3M379.3 413.2L392.6 399.9" stroke="#03262a" stroke-width="4.9" stroke-linecap="round"/><path d="M385.3 411.5L368.6 419.5M368.6 419.5L352.6 409.9M388.2 324.5L383.3 307.5M383.3 307.5L392.8 296.9M390.3 315.2L376.7 321.6M376.7 321.6L378.5 332.1M376.7 321.6L374.9 340.3M416.7 323.1L401.9 321.8M401.9 321.8L394.9 310.9M401.9 321.8L394.2 334.5M394.2 334.5L385.9 332.5M394.2 334.5L398.9 347.5M398.9 347.5L408.4 348.7M389 405.6L396.5 391.8M396.5 391.8L407.7 394.4M396.5 391.8L390 382M390 382L379.2 385.5M371.6 324L361.4 327M361.4 327L355.2 343.3M381.5 321.6L377.4 304.5M377.4 304.5L388.1 310.1M388.1 310.1L389.2 320.7M389.2 320.7L381.7 324M384.7 318.4L373.9 303M373.9 303L367.9 321M367.9 321L377.4 337.2M377.4 337.2L391.9 337.1M391.9 337.1L399.5 327.1M398.2 407.8L391.4 417.5M391.4 417.5L377.7 416.6M377.7 416.6L372.4 407.1M377.7 416.6L372.6 407.9M372.6 407.9L363 410.4M372.6 407.9L355.8 411.1M355.8 411.1L350.6 422.1M391.7 335.5L384 345.1M384 345.1L391.3 359.1M391.3 359.1L403.4 359.8M391.3 359.1L382.5 372.9M382.5 372.9L387.4 384.4M367.5 346.4L378.4 357.4M378.4 357.4L395.2 350.4M395.2 350.4L394.8 339.1M395.2 350.4L397.2 337.9M418 319.7L413.4 310.3M413.4 310.3L408.7 320.2M408.7 320.2L397.5 319.5M397.5 319.5L395 310.7M386.9 345.9L395.9 338.2M395.9 338.2L404.6 343.9M395.9 338.2L405.8 343.3M405.8 343.3L415.7 337.9M405.8 343.3L408.1 355.7M408.1 355.7L417 361.2M417 361.2L417.7 371M408.4 316.8L419.8 315.1M419.8 315.1L406.3 310.7M406.3 310.7L400.1 318.6M406.3 310.7L391.8 318.4M391.8 318.4L387.2 335.7M375.2 413L384.6 417.3M384.6 417.3L391.6 410.4M384.6 417.3L394.7 411.6M394.7 411.6L380.1 417.7M380.1 417.7L368.1 411.9M405.8 371L393.4 375.1M393.4 375.1L387.3 368.4M393.4 375.1L380.9 362.8M380.9 362.8L387.1 347.2M387.1 347.2L398.4 345M379.7 383.6L365.4 383.8M365.4 383.8L360.6 373.9M365.4 383.8L356.5 373.3M345 401.5L357.3 396.6M357.3 396.6L356.4 380.3M393.6 331.8L404.8 338.8M404.8 338.8L407.3 357M407.3 357L394.2 368.5M393.6 393.9L403.7 403.1M403.7 403.1L413.1 401.5M403.7 403.1L416.5 397.8M416.5 397.8L404.7 409.8M404.7 409.8L392.9 407.9M379.9 368.7L378.3 380.1M378.3 380.1L389.3 387.1M389.3 387.1L388.5 405.9M388.5 405.9L379.2 414.2M379.2 414.2L381.7 425.3M410.4 383.2L415.4 396.3M415.4 396.3L401.7 409.2M401.7 409.2L392.5 404.3M417.8 361L423.9 343.9M423.9 343.9L417.4 332.3M417.4 332.3L422.6 314.9M422.6 314.9L413.8 304.2M413.8 304.2L403.3 305.7M365.6 363L352.3 362.2M386.9 360.3L376.4 360.8M376.4 360.8L372.9 370.7M372.9 370.7L360.7 372.1M360.7 372.1L356.6 382.1M355.2 397.3L361 411.8M361 411.8L379.3 413.2M379.3 413.2L382 424.3M379.3 413.2L392.6 399.9" stroke="#13888d" stroke-width="2.8" stroke-linecap="round"/><path d="M388 302.2L392.8 296.9M398.1 328.2L394.2 334.5M411 315.3L408.7 320.2M389.7 414.5L394.7 411.6M399.6 373L393.4 375.1M356.9 388.4L356.4 380.3M383.8 383.6L389.3 387.1M412.9 389.7L415.4 396.3M359 362.6L352.3 362.2" stroke="#2a35e0" stroke-width="3.2" stroke-linecap="round"/><path d="M383.3 307.6L388.1 310.1M421.2 351.6L423.9 343.9M371.1 412.6L379.3 413.2" stroke="#f0453f" stroke-width="3.2" stroke-linecap="round"/><path d="M406.3 310.7L408.1 301.8M406.3 310.7L408.1 304.9M391.8 318.4L390.5 309.1M391.8 318.4L386.7 311M391.8 318.4L390.1 311.9M387.2 335.7L381.4 333.7M384.6 417.3L388 412M384.6 417.3L386.4 408.2M384.6 417.3L382.2 424.8M394.7 411.6L396.7 421.1M394.7 411.6L395.1 420.4M394.7 411.6L387.6 408.6M380.1 417.7L382.5 426.8M380.1 417.7L385.7 420.6M368.1 411.9L370.5 420.4M368.1 411.9L368.4 418.9M393.4 375.1L395.5 382.4M393.4 375.1L397.9 368.6M393.4 375.1L401.3 378.3M380.9 362.8L387.3 361.5M387.1 347.2L392.6 350.1M387.1 347.2L394.9 349.4M398.4 345L395.4 335.9M365.4 383.8L365.1 375M365.4 383.8L364.3 374.4M356.5 373.3L351.8 377.8M357.3 396.6L352.9 392.2M357.3 396.6L357.6 405.7M356.4 380.3L362.4 387.1M404.8 338.8L401.4 344.6M404.8 338.8L399.8 344.8M404.8 338.8L409.8 334M407.3 357L416.8 358.2M407.3 357L415.7 352.1M394.2 368.5L394.4 359.8M394.2 368.5L390.2 363.4M394.2 368.5L396.3 361.1M403.7 403.1L396.9 406.1M416.5 397.8L417 405.8M416.5 397.8L412.3 389.9M416.5 397.8L409.9 395.1M404.7 409.8L414.1 408.6M392.9 407.9L394.7 398.5M392.9 407.9L396.4 400.2M378.3 380.1L386.7 378.5M378.3 380.1L384.7 382.1M389.3 387.1L386.8 394.5M389.3 387.1L385.6 378.9M389.3 387.1L392.7 381.5M388.5 405.9L393.9 402.2M379.2 414.2L373.3 406.3M379.2 414.2L381 408.3M379.2 414.2L376.1 405.1M415.4 396.3L405.5 396.6M401.7 409.2L396 401.6M392.5 404.3L394.5 397.4M423.9 343.9L418 342.4M423.9 343.9L415.3 342.4M423.9 343.9L416.1 338.8M417.4 332.3L424.2 336.1M417.4 332.3L416.8 342.2M417.4 332.3L410.7 334.2M422.6 314.9L414.8 311.4M422.6 314.9L415.2 320.1M413.8 304.2L422.5 303.2M352.3 362.2L357.9 357.6M376.4 360.8L377.8 367M376.4 360.8L382.4 364.8M372.9 370.7L371 364.3M372.9 370.7L379.7 367.4M372.9 370.7L366.8 364.7M360.7 372.1L360.2 378.6M360.7 372.1L363.6 364.1M360.7 372.1L358.9 363.9M361 411.8L363.2 403.6M361 411.8L362.6 402.1M379.3 413.2L378.3 406.7M392.6 399.9L387.5 394.1" stroke="#0c1515" stroke-width="2.3"/><path d="M406.3 310.7L408.1 301.8M406.3 310.7L408.1 304.9M391.8 318.4L390.5 309.1M391.8 318.4L386.7 311M391.8 318.4L390.1 311.9M387.2 335.7L381.4 333.7M384.6 417.3L388 412M384.6 417.3L386.4 408.2M384.6 417.3L382.2 424.8M394.7 411.6L396.7 421.1M394.7 411.6L395.1 420.4M394.7 411.6L387.6 408.6M380.1 417.7L382.5 426.8M380.1 417.7L385.7 420.6M368.1 411.9L370.5 420.4M368.1 411.9L368.4 418.9M393.4 375.1L395.5 382.4M393.4 375.1L397.9 368.6M393.4 375.1L401.3 378.3M380.9 362.8L387.3 361.5M387.1 347.2L392.6 350.1M387.1 347.2L394.9 349.4M398.4 345L395.4 335.9M365.4 383.8L365.1 375M365.4 383.8L364.3 374.4M356.5 373.3L351.8 377.8M357.3 396.6L352.9 392.2M357.3 396.6L357.6 405.7M356.4 380.3L362.4 387.1M404.8 338.8L401.4 344.6M404.8 338.8L399.8 344.8M404.8 338.8L409.8 334M407.3 357L416.8 358.2M407.3 357L415.7 352.1M394.2 368.5L394.4 359.8M394.2 368.5L390.2 363.4M394.2 368.5L396.3 361.1M403.7 403.1L396.9 406.1M416.5 397.8L417 405.8M416.5 397.8L412.3 389.9M416.5 397.8L409.9 395.1M404.7 409.8L414.1 408.6M392.9 407.9L394.7 398.5M392.9 407.9L396.4 400.2M378.3 380.1L386.7 378.5M378.3 380.1L384.7 382.1M389.3 387.1L386.8 394.5M389.3 387.1L385.6 378.9M389.3 387.1L392.7 381.5M388.5 405.9L393.9 402.2M379.2 414.2L373.3 406.3M379.2 414.2L381 408.3M379.2 414.2L376.1 405.1M415.4 396.3L405.5 396.6M401.7 409.2L396 401.6M392.5 404.3L394.5 397.4M423.9 343.9L418 342.4M423.9 343.9L415.3 342.4M423.9 343.9L416.1 338.8M417.4 332.3L424.2 336.1M417.4 332.3L416.8 342.2M417.4 332.3L410.7 334.2M422.6 314.9L414.8 311.4M422.6 314.9L415.2 320.1M413.8 304.2L422.5 303.2M352.3 362.2L357.9 357.6M376.4 360.8L377.8 367M376.4 360.8L382.4 364.8M372.9 370.7L371 364.3M372.9 370.7L379.7 367.4M372.9 370.7L366.8 364.7M360.7 372.1L360.2 378.6M360.7 372.1L363.6 364.1M360.7 372.1L358.9 363.9M361 411.8L363.2 403.6M361 411.8L362.6 402.1M379.3 413.2L378.3 406.7M392.6 399.9L387.5 394.1" stroke="#9aa6a6" stroke-width="0.65"/></g><ellipse cx="392" cy="356" rx="40.8" ry="61.2" transform="rotate(5.7 392 356)" fill="#fff" fill-opacity="0.2" filter="url(#blur3)"/><ellipse cx="368" cy="408" rx="26.5" ry="26.5" transform="rotate(0 368 408)" fill="#fff" fill-opacity="0.2" filter="url(#blur3)"/><g fill="none" stroke-linecap="butt"><path d="M373.8 329.4L377.4 337M390.9 323L384.4 321.4M390.9 323L387.5 331.6M388.3 328.1L389.6 335.9M388.3 328.1L379.7 329.8M388.3 328.1L390 337.2M375.3 316.1L383.7 316M419.8 382.2L423.2 376.1M413 394L419 391.5M413 394L406.3 390.3M413 394L421.2 396.6M399 402.5L391.4 406.7M399 402.5L396.3 394.5M408.8 397L404 389M378 386.4L375.2 393.9M378 386.4L374.9 392.2M384.2 403.1L376.3 403.6M384.2 403.1L392.5 398.7M384.2 403.1L378.7 400.3M416.6 332L412.2 338.3M416.6 332L409.3 329M416.6 332L415.7 325.5M425.8 340L428.8 334M417.8 347L414.7 340.6M417.8 347L423.1 351.6M417.8 347L421.7 351.8M390.5 308.3L393.3 313.7M390.5 308.3L383.9 308.1M390.5 308.3L383.5 306.8M401.7 311.4L405 304.4M401.7 311.4L395.4 319M401.7 311.4L400 305.2M411.2 302L413.9 308.3M411.2 302L405.3 295.2M411.2 302L406.9 294.8M395.6 297.6L394.3 304.4M417.5 324.6L421.3 330.4M417.5 324.6L408.6 322.7M417.5 324.6L410.6 321M408.2 314.6L408.1 321M409.8 303.9L402.4 305.8M408.4 316.5L414.6 318.8M403.6 307.3L411.8 310.3M403.6 307.3L396 307.9M403.6 307.3L409.5 305.9M398.7 319.3L391.1 316.1M398.7 319.3L391.4 313.8M390.1 418.2L396.6 415.8M390.1 418.2L385.3 414.6M377 420.1L379.9 429.3M377 420.1L384 414.4M377 420.1L378.6 429.1M369.1 412.1L362.5 417.5M369.1 412.1L370.9 420.6M369.1 412.1L367 418.2M376.3 387.3L369.9 381.5M376 405.2L367.7 400.9M376 405.2L385.9 405.6M390.4 417.1L380.5 417.5M390.4 417.1L391.1 410M378.4 395.8L381.4 401.5M389.5 399.9L388.1 406.6M416.1 364.9L417.2 357.2M416.1 364.9L423.7 370M406.3 360.5L405.3 367.6M406 347.9L415.9 348.3M406 347.9L410.7 354.9M406 347.9L413.9 351.7M396.7 342.1L401.4 335.5M396.7 342.1L406 342.2M361.7 384.5L357.5 375.6M361 395.1L353.1 394.1M346.4 403.7L346 395M346.4 403.7L352.7 410.2" stroke="#0c1515" stroke-width="2.3"/><path d="M373.8 329.4L377.4 337M390.9 323L384.4 321.4M390.9 323L387.5 331.6M388.3 328.1L389.6 335.9M388.3 328.1L379.7 329.8M388.3 328.1L390 337.2M375.3 316.1L383.7 316M419.8 382.2L423.2 376.1M413 394L419 391.5M413 394L406.3 390.3M413 394L421.2 396.6M399 402.5L391.4 406.7M399 402.5L396.3 394.5M408.8 397L404 389M378 386.4L375.2 393.9M378 386.4L374.9 392.2M384.2 403.1L376.3 403.6M384.2 403.1L392.5 398.7M384.2 403.1L378.7 400.3M416.6 332L412.2 338.3M416.6 332L409.3 329M416.6 332L415.7 325.5M425.8 340L428.8 334M417.8 347L414.7 340.6M417.8 347L423.1 351.6M417.8 347L421.7 351.8M390.5 308.3L393.3 313.7M390.5 308.3L383.9 308.1M390.5 308.3L383.5 306.8M401.7 311.4L405 304.4M401.7 311.4L395.4 319M401.7 311.4L400 305.2M411.2 302L413.9 308.3M411.2 302L405.3 295.2M411.2 302L406.9 294.8M395.6 297.6L394.3 304.4M417.5 324.6L421.3 330.4M417.5 324.6L408.6 322.7M417.5 324.6L410.6 321M408.2 314.6L408.1 321M409.8 303.9L402.4 305.8M408.4 316.5L414.6 318.8M403.6 307.3L411.8 310.3M403.6 307.3L396 307.9M403.6 307.3L409.5 305.9M398.7 319.3L391.1 316.1M398.7 319.3L391.4 313.8M390.1 418.2L396.6 415.8M390.1 418.2L385.3 414.6M377 420.1L379.9 429.3M377 420.1L384 414.4M377 420.1L378.6 429.1M369.1 412.1L362.5 417.5M369.1 412.1L370.9 420.6M369.1 412.1L367 418.2M376.3 387.3L369.9 381.5M376 405.2L367.7 400.9M376 405.2L385.9 405.6M390.4 417.1L380.5 417.5M390.4 417.1L391.1 410M378.4 395.8L381.4 401.5M389.5 399.9L388.1 406.6M416.1 364.9L417.2 357.2M416.1 364.9L423.7 370M406.3 360.5L405.3 367.6M406 347.9L415.9 348.3M406 347.9L410.7 354.9M406 347.9L413.9 351.7M396.7 342.1L401.4 335.5M396.7 342.1L406 342.2M361.7 384.5L357.5 375.6M361 395.1L353.1 394.1M346.4 403.7L346 395M346.4 403.7L352.7 410.2" stroke="#9aa6a6" stroke-width="0.65"/><path d="M367.6 344.2L373.8 329.4M373.8 329.4L386.6 327.5M373.8 329.4L390.9 323M383.8 339.1L388.3 328.1M388.3 328.1L375.3 316.1M375.3 316.1L377.8 308.1M405.1 377.1L419.8 382.2M419.8 382.2L413 394M385.5 391.7L399 402.5M399 402.5L408.8 397M365.7 380.9L378 386.4M378 386.4L384.2 403.1M397.9 335.2L416.6 332M416.6 332L425.8 340M425.8 340L423.4 350.7M425.8 340L417.8 347M378.5 319.7L390.5 308.3M390.5 308.3L401.7 311.4M401.7 311.4L403 323.9M401.7 311.4L411.2 302M411.2 302L395.6 297.6M395.6 297.6L387.9 305M410.9 336.9L417.5 324.6M417.5 324.6L412.2 318.1M417.5 324.6L408.2 314.6M408.2 314.6L409.8 303.9M409.8 303.9L399.5 297.9M409.8 303.9L408.4 316.5M407.2 317.9L403.6 307.3M403.6 307.3L398.7 319.3M397.6 406L390.1 418.2M390.1 418.2L377 420.1M377 420.1L369.1 412.1M387.5 378.4L376.3 387.3M376.3 387.3L376 405.2M376 405.2L390.4 417.1M371 403.9L378.4 395.8M378.4 395.8L387.6 398.1M378.4 395.8L389.5 399.9M389.5 399.9L397.6 393.3M425.1 357.7L416.1 364.9M416.1 364.9L406.3 360.5M406.3 360.5L406 347.9M406 347.9L396.5 344M406 347.9L396.7 342.1M376 379.7L361.7 384.5M361.7 384.5L361 395.1M361 395.1L346.4 403.7M346.4 403.7L364.5 404.7M364.5 404.7L369 412.5M369.2 385.9L374.7 375.6M374.7 375.6L369.2 362.5M369.2 362.5L352.2 357.6M374.8 354.7L379.3 373M379.3 373L371.8 380.6M379.3 373L392.8 381.6M360.2 336.7L372.2 346.9M372.2 346.9L367.8 363.7M367.8 363.7L355.3 366M409.4 361L403.3 352.2M403.3 352.2L412.3 338.9M412.3 338.9L429.9 340.3M429.9 340.3L432.9 354.2M375.6 380.9L382.8 394.4M382.8 394.4L372.2 407.7M372.2 407.7L380.3 421.2M397.6 318.4L396.7 331.5M396.7 331.5L384.5 342.6M396.1 392.3L409.5 397.8M409.5 397.8L420.1 392.5M420.1 392.5L402.2 388M402.2 388L395.1 394.3M376.6 418.7L388.6 416.3M388.6 416.3L375.5 413.1M375.5 413.1L371.9 404.3M375.5 413.1L363.1 424.9M370.7 403.4L361 406.3M361 406.3L357.8 416.3M361 406.3L352.1 397.4M352.1 397.4L364.6 392.5M385.4 306.7L379.3 318.4M379.3 318.4L385.8 324.8M379.3 318.4L386.2 326.3M386.2 326.3L379.7 341.8M379.7 341.8L385.3 348.5M378 380.2L392.1 373.5M392.1 373.5L407.3 378.5M407.3 378.5L416 373.5M378 413L365.3 417.3M365.3 417.3L360.1 410M365.3 417.3L361.5 430M361.5 430L349.5 418.1M349.5 418.1L358.8 411.2" stroke="#03262a" stroke-width="4.9" stroke-linecap="round"/><path d="M367.6 344.2L373.8 329.4M373.8 329.4L386.6 327.5M373.8 329.4L390.9 323M383.8 339.1L388.3 328.1M388.3 328.1L375.3 316.1M375.3 316.1L377.8 308.1M405.1 377.1L419.8 382.2M419.8 382.2L413 394M385.5 391.7L399 402.5M399 402.5L408.8 397M365.7 380.9L378 386.4M378 386.4L384.2 403.1M397.9 335.2L416.6 332M416.6 332L425.8 340M425.8 340L423.4 350.7M425.8 340L417.8 347M378.5 319.7L390.5 308.3M390.5 308.3L401.7 311.4M401.7 311.4L403 323.9M401.7 311.4L411.2 302M411.2 302L395.6 297.6M395.6 297.6L387.9 305M410.9 336.9L417.5 324.6M417.5 324.6L412.2 318.1M417.5 324.6L408.2 314.6M408.2 314.6L409.8 303.9M409.8 303.9L399.5 297.9M409.8 303.9L408.4 316.5M407.2 317.9L403.6 307.3M403.6 307.3L398.7 319.3M397.6 406L390.1 418.2M390.1 418.2L377 420.1M377 420.1L369.1 412.1M387.5 378.4L376.3 387.3M376.3 387.3L376 405.2M376 405.2L390.4 417.1M371 403.9L378.4 395.8M378.4 395.8L387.6 398.1M378.4 395.8L389.5 399.9M389.5 399.9L397.6 393.3M425.1 357.7L416.1 364.9M416.1 364.9L406.3 360.5M406.3 360.5L406 347.9M406 347.9L396.5 344M406 347.9L396.7 342.1M376 379.7L361.7 384.5M361.7 384.5L361 395.1M361 395.1L346.4 403.7M346.4 403.7L364.5 404.7M364.5 404.7L369 412.5M369.2 385.9L374.7 375.6M374.7 375.6L369.2 362.5M369.2 362.5L352.2 357.6M374.8 354.7L379.3 373M379.3 373L371.8 380.6M379.3 373L392.8 381.6M360.2 336.7L372.2 346.9M372.2 346.9L367.8 363.7M367.8 363.7L355.3 366M409.4 361L403.3 352.2M403.3 352.2L412.3 338.9M412.3 338.9L429.9 340.3M429.9 340.3L432.9 354.2M375.6 380.9L382.8 394.4M382.8 394.4L372.2 407.7M372.2 407.7L380.3 421.2M397.6 318.4L396.7 331.5M396.7 331.5L384.5 342.6M396.1 392.3L409.5 397.8M409.5 397.8L420.1 392.5M420.1 392.5L402.2 388M402.2 388L395.1 394.3M376.6 418.7L388.6 416.3M388.6 416.3L375.5 413.1M375.5 413.1L371.9 404.3M375.5 413.1L363.1 424.9M370.7 403.4L361 406.3M361 406.3L357.8 416.3M361 406.3L352.1 397.4M352.1 397.4L364.6 392.5M385.4 306.7L379.3 318.4M379.3 318.4L385.8 324.8M379.3 318.4L386.2 326.3M386.2 326.3L379.7 341.8M379.7 341.8L385.3 348.5M378 380.2L392.1 373.5M392.1 373.5L407.3 378.5M407.3 378.5L416 373.5M378 413L365.3 417.3M365.3 417.3L360.1 410M365.3 417.3L361.5 430M361.5 430L349.5 418.1M349.5 418.1L358.8 411.2" stroke="#169297" stroke-width="2.8" stroke-linecap="round"/><path d="M416.4 388.1L413 394M407.2 333.6L416.6 332M421.2 336L425.8 340M411.2 362.7L406.3 360.5M401.3 345L396.7 342.1M353.7 399.4L346.4 403.7M372 369L369.2 362.5M431.4 347.3L432.9 354.2" stroke="#2a35e0" stroke-width="3.2" stroke-linecap="round"/><path d="M383.2 325.9L390.9 323M372.4 384L378 386.4M409 310.8L408.4 316.5M369.8 356.2L367.8 363.7M379.6 388.3L382.8 394.4M410.2 390L402.2 388M354.6 414.3L358.8 411.2" stroke="#f0453f" stroke-width="3.2" stroke-linecap="round"/><path d="M346.4 403.7L342.5 398.5M364.5 404.7L362.7 398.9M374.7 375.6L379.9 379.9M374.7 375.6L367.2 374.8M374.7 375.6L367 369.4M369.2 362.5L363.4 368.8M369.2 362.5L375.4 365.3M369.2 362.5L365.3 371M352.2 357.6L358.2 364.3M352.2 357.6L348.6 365.3M352.2 357.6L352.8 350.8M379.3 373L385 365.2M379.3 373L373.2 372.6M379.3 373L371 367.6M392.8 381.6L385.8 381.6M372.2 346.9L372.6 338.1M372.2 346.9L377 340.6M367.8 363.7L375.2 367.9M355.3 366L353.5 356.8M355.3 366L354.4 356.4M355.3 366L360.2 360M403.3 352.2L401 357.9M412.3 338.9L417.8 343.7M429.9 340.3L423.2 343.9M432.9 354.2L441.2 349.4M432.9 354.2L438 348.3M382.8 394.4L375.1 392M382.8 394.4L376.8 396.1M382.8 394.4L385.7 387.8M372.2 407.7L382 409.3M372.2 407.7L366.7 404.3M372.2 407.7L367.9 398.8M380.3 421.2L370.9 422.5M396.7 331.5L387.2 329M396.7 331.5L392.7 323.9M396.7 331.5L388.2 328.2M384.5 342.6L390 345.8M409.5 397.8L407.8 404.1M409.5 397.8L401.7 399.1M409.5 397.8L402.6 404.8M420.1 392.5L413.6 385.8M402.2 388L409.7 382.7M402.2 388L409.9 382.4M388.6 416.3L384.5 410M388.6 416.3L381.2 410.3M388.6 416.3L385.3 410.5M375.5 413.1L378.7 405.4M375.5 413.1L376.4 420.3M363.1 424.9L368.3 432.6M361 406.3L366.2 411.7M361 406.3L367.6 412.6M352.1 397.4L351.6 406.2M352.1 397.4L351.2 403.9M352.1 397.4L352.6 405.6M364.6 392.5L366.3 398.7M379.3 318.4L370.8 315.7M379.3 318.4L388.5 320.9M379.3 318.4L373.9 315.1M386.2 326.3L390.9 318.7M386.2 326.3L385.8 319.4M379.7 341.8L373 335.3M392.1 373.5L396.1 378.7M392.1 373.5L392 382.9M407.3 378.5L402.9 369.6M407.3 378.5L408.9 371.1M407.3 378.5L407.8 372.4M416 373.5L408.7 372.5M416 373.5L411 369.2M365.3 417.3L373.8 421.7M365.3 417.3L371.4 420.3M361.5 430L368 430.3M361.5 430L371.1 427.9M349.5 418.1L346.1 424.1M349.5 418.1L346.1 424.7M358.8 411.2L363.3 418.9" stroke="#0c1515" stroke-width="2.3"/><path d="M346.4 403.7L342.5 398.5M364.5 404.7L362.7 398.9M374.7 375.6L379.9 379.9M374.7 375.6L367.2 374.8M374.7 375.6L367 369.4M369.2 362.5L363.4 368.8M369.2 362.5L375.4 365.3M369.2 362.5L365.3 371M352.2 357.6L358.2 364.3M352.2 357.6L348.6 365.3M352.2 357.6L352.8 350.8M379.3 373L385 365.2M379.3 373L373.2 372.6M379.3 373L371 367.6M392.8 381.6L385.8 381.6M372.2 346.9L372.6 338.1M372.2 346.9L377 340.6M367.8 363.7L375.2 367.9M355.3 366L353.5 356.8M355.3 366L354.4 356.4M355.3 366L360.2 360M403.3 352.2L401 357.9M412.3 338.9L417.8 343.7M429.9 340.3L423.2 343.9M432.9 354.2L441.2 349.4M432.9 354.2L438 348.3M382.8 394.4L375.1 392M382.8 394.4L376.8 396.1M382.8 394.4L385.7 387.8M372.2 407.7L382 409.3M372.2 407.7L366.7 404.3M372.2 407.7L367.9 398.8M380.3 421.2L370.9 422.5M396.7 331.5L387.2 329M396.7 331.5L392.7 323.9M396.7 331.5L388.2 328.2M384.5 342.6L390 345.8M409.5 397.8L407.8 404.1M409.5 397.8L401.7 399.1M409.5 397.8L402.6 404.8M420.1 392.5L413.6 385.8M402.2 388L409.7 382.7M402.2 388L409.9 382.4M388.6 416.3L384.5 410M388.6 416.3L381.2 410.3M388.6 416.3L385.3 410.5M375.5 413.1L378.7 405.4M375.5 413.1L376.4 420.3M363.1 424.9L368.3 432.6M361 406.3L366.2 411.7M361 406.3L367.6 412.6M352.1 397.4L351.6 406.2M352.1 397.4L351.2 403.9M352.1 397.4L352.6 405.6M364.6 392.5L366.3 398.7M379.3 318.4L370.8 315.7M379.3 318.4L388.5 320.9M379.3 318.4L373.9 315.1M386.2 326.3L390.9 318.7M386.2 326.3L385.8 319.4M379.7 341.8L373 335.3M392.1 373.5L396.1 378.7M392.1 373.5L392 382.9M407.3 378.5L402.9 369.6M407.3 378.5L408.9 371.1M407.3 378.5L407.8 372.4M416 373.5L408.7 372.5M416 373.5L411 369.2M365.3 417.3L373.8 421.7M365.3 417.3L371.4 420.3M361.5 430L368 430.3M361.5 430L371.1 427.9M349.5 418.1L346.1 424.1M349.5 418.1L346.1 424.7M358.8 411.2L363.3 418.9" stroke="#9aa6a6" stroke-width="0.65"/></g><ellipse cx="392" cy="356" rx="40.8" ry="61.2" transform="rotate(5.7 392 356)" fill="#fff" fill-opacity="0.2" filter="url(#blur3)"/><ellipse cx="368" cy="408" rx="26.5" ry="26.5" transform="rotate(0 368 408)" fill="#fff" fill-opacity="0.2" filter="url(#blur3)"/><g fill="none" stroke-linecap="butt"><path d="M378.4 342.1L368.7 340.8M378.4 342.1L386 340.1M378.4 342.1L386.3 340.7M365.2 344.7L366 336.2M365.2 344.7L366.9 350.5M392 393L391.3 399.3M392 393L394.1 401.3M392 393L391.6 401M389.5 375.7L386.3 380.9M389.5 375.7L397.4 372.5M373.8 368.7L374 376.5M373.8 368.7L376.1 376.2M373.8 368.7L379.9 366.7M389.5 408.1L395.5 411.8M401.5 412L400.2 404.7M355.8 399.5L363 405.9M355.8 399.5L361.9 400.8M370.9 395.2L372.7 401.1M376.2 379.6L382 383.2M376.2 379.6L370.7 383M376.2 379.6L370.6 382.5M386.3 375.9L385 385.3M386.3 375.9L389.5 384.9M376.9 357.2L371.3 352.8M376.9 357.2L371.4 364.1M382.4 347.7L388.2 355.2M395 350.2L392.1 356.7M369 348.1L375.8 347.5M369 348.1L375.4 341.4M369 348.1L359.9 348M359.7 354.1L366.1 357.8M359.7 354.1L356.8 344.6M359.7 354.1L356.4 345.5M356.7 371.6L362.8 366.2M356.7 371.6L362.4 368.8M408.9 406.5L416 403M408.9 406.5L415.3 399.4M401.9 396.8L397 405.3M401.9 396.8L400.5 405.9M401.9 396.8L401.6 403.2M405.6 385.4L399.4 387.4M405.6 385.4L398.9 390.2M405.6 385.4L396.5 388.7M364.9 347.1L365.9 337.6M362 361.7L370.4 360.5M362 361.7L359 355.3M362 361.7L354.6 358.4M376.7 369.1L376.6 375.2M385.4 380.7L392.4 374.9M397.1 378.4L391.5 386.5M397.1 378.4L393 383.4M397 310.1L391.4 318M394.5 320.8L385.7 318.1M400.1 330L404.8 325.5M400.1 330L407.8 325.7M400.1 330L402 322.7M393.8 343L388.9 337.5M393.8 343L402.8 339.3M393.8 343L401.4 347.5M390.6 323.1L384.3 323.2M390.6 323.1L383.6 320.4M390.6 323.1L398 317.6M380.2 337.8L386.2 339.3M380.2 337.8L376.2 333M380.2 337.8L385.5 344.1M364.5 333.1L362.8 338.9M364.5 333.1L366.8 323.9M362.6 320L371 321.1M362.6 320L355.2 324.6M376 329.8L366.4 329.6M376 329.8L367.7 325.9M388.6 331.2L384.6 339.1M388.6 331.2L386.4 323.3M395.9 342.8L402 337.3M395.9 342.8L387.6 343.4M390 354.4L382.4 350.5M390 354.4L397.4 356.3M390 354.4L381.1 352.4M355.4 355L359.9 360.4" stroke="#0c1515" stroke-width="2.3"/><path d="M378.4 342.1L368.7 340.8M378.4 342.1L386 340.1M378.4 342.1L386.3 340.7M365.2 344.7L366 336.2M365.2 344.7L366.9 350.5M392 393L391.3 399.3M392 393L394.1 401.3M392 393L391.6 401M389.5 375.7L386.3 380.9M389.5 375.7L397.4 372.5M373.8 368.7L374 376.5M373.8 368.7L376.1 376.2M373.8 368.7L379.9 366.7M389.5 408.1L395.5 411.8M401.5 412L400.2 404.7M355.8 399.5L363 405.9M355.8 399.5L361.9 400.8M370.9 395.2L372.7 401.1M376.2 379.6L382 383.2M376.2 379.6L370.7 383M376.2 379.6L370.6 382.5M386.3 375.9L385 385.3M386.3 375.9L389.5 384.9M376.9 357.2L371.3 352.8M376.9 357.2L371.4 364.1M382.4 347.7L388.2 355.2M395 350.2L392.1 356.7M369 348.1L375.8 347.5M369 348.1L375.4 341.4M369 348.1L359.9 348M359.7 354.1L366.1 357.8M359.7 354.1L356.8 344.6M359.7 354.1L356.4 345.5M356.7 371.6L362.8 366.2M356.7 371.6L362.4 368.8M408.9 406.5L416 403M408.9 406.5L415.3 399.4M401.9 396.8L397 405.3M401.9 396.8L400.5 405.9M401.9 396.8L401.6 403.2M405.6 385.4L399.4 387.4M405.6 385.4L398.9 390.2M405.6 385.4L396.5 388.7M364.9 347.1L365.9 337.6M362 361.7L370.4 360.5M362 361.7L359 355.3M362 361.7L354.6 358.4M376.7 369.1L376.6 375.2M385.4 380.7L392.4 374.9M397.1 378.4L391.5 386.5M397.1 378.4L393 383.4M397 310.1L391.4 318M394.5 320.8L385.7 318.1M400.1 330L404.8 325.5M400.1 330L407.8 325.7M400.1 330L402 322.7M393.8 343L388.9 337.5M393.8 343L402.8 339.3M393.8 343L401.4 347.5M390.6 323.1L384.3 323.2M390.6 323.1L383.6 320.4M390.6 323.1L398 317.6M380.2 337.8L386.2 339.3M380.2 337.8L376.2 333M380.2 337.8L385.5 344.1M364.5 333.1L362.8 338.9M364.5 333.1L366.8 323.9M362.6 320L371 321.1M362.6 320L355.2 324.6M376 329.8L366.4 329.6M376 329.8L367.7 325.9M388.6 331.2L384.6 339.1M388.6 331.2L386.4 323.3M395.9 342.8L402 337.3M395.9 342.8L387.6 343.4M390 354.4L382.4 350.5M390 354.4L397.4 356.3M390 354.4L381.1 352.4M355.4 355L359.9 360.4" stroke="#9aa6a6" stroke-width="0.65"/><path d="M380.8 331.4L378.4 342.1M378.4 342.1L365.2 344.7M382.7 397.7L392 393M392 393L389.5 375.7M389.5 375.7L399.4 369.2M389.5 375.7L373.8 368.7M379.9 417.3L389.5 408.1M389.5 408.1L401.3 412.5M389.5 408.1L401.5 412M401.5 412L407.5 405M357.4 414.7L355.8 399.5M355.8 399.5L370.9 395.2M370.9 395.2L373.4 382.6M370.9 395.2L376.2 379.6M376.2 379.6L386 379.8M376.2 379.6L386.3 375.9M360.1 356.9L376.9 357.2M376.9 357.2L382.4 347.7M382.4 347.7L395 350.2M371.6 330.8L369 348.1M369 348.1L359.9 351.8M369 348.1L359.7 354.1M359.7 354.1L356.7 371.6M403 397.2L408.9 406.5M408.9 406.5L401.9 396.8M401.9 396.8L389.4 398.9M401.9 396.8L405.6 385.4M374.2 341.4L364.9 347.1M364.9 347.1L362 361.7M362 361.7L369.4 370.2M358.2 366.4L376.7 369.1M376.7 369.1L385.4 380.7M385.4 380.7L397.1 378.4M389.2 303.3L397 310.1M397 310.1L394.5 320.8M394.5 320.8L400.1 330M400.1 330L411.4 327.3M400.1 330L393.8 343M385.4 306.5L390.6 323.1M390.6 323.1L380.2 330.9M390.6 323.1L380.2 337.8M380.2 337.8L384.8 348.8M380.2 337.8L364.5 333.1M364.5 333.1L362.6 320M369.6 319.4L376 329.8M376 329.8L388.6 331.2M388.6 331.2L395.9 342.8M395.9 342.8L406.6 342M395.9 342.8L390 354.4M373.1 358.2L355.4 355M355.4 355L356.6 340.1M356.6 340.1L366.3 337.9M400 338.2L393.8 328.1M393.8 328.1L382.7 329.9M393.8 328.1L383.4 329.3M383.4 329.3L376.6 345.7M376.6 345.7L366.3 347.9M398.6 363.5L389 356.3M389 356.3L389.6 340.7M389.6 340.7L398.4 332.2M398.4 332.2L396 323.9M402.2 385.2L412.6 394.9M412.6 394.9L414.4 378.6M414.4 378.6L426.8 375.8M414.4 378.6L425.4 375.2M425.4 375.2L415.1 375M380.3 399.7L382.8 415.3M382.8 415.3L365.9 423M365.9 423L350.9 414.2M392 385.1L380.4 388.7M380.4 388.7L377 401.1M380.4 388.7L369 377.2M369 377.2L357.6 381.4M369 377.2L378.3 362.8M378.3 362.8L386.6 363.9M357.9 370.3L372.1 373.4M372.1 373.4L377.1 364.4M372.1 373.4L375 383.7M361.7 361.2L367 343.9M367 343.9L380.8 337.7M380.8 337.7L393.1 350.2M393.1 350.2L410.8 347.2M394.4 327L406.8 330.1M406.8 330.1L411 344.3M411 344.3L404.7 356M404.7 356L387 357.5M388 323.9L390.7 305.8M390.7 305.8L399.4 302.1M390.7 305.8L404.8 299.8M382.2 394.9L386.1 405.6M386.1 405.6L398.8 405.4M408.8 370L416.4 356.2M416.4 356.2L408.5 346M416.4 356.2L430.9 353.2M430.9 353.2L415.7 354.9M415.7 354.9L409.2 344.8M415.7 354.9L406 367.1M419.3 377.6L408.4 383.1M408.4 383.1L409.8 395.8M408.4 383.1L405.2 399.8M405.2 399.8L412.8 404.4M372.2 383.8L372.3 395.4M372.3 395.4L382 404.2" stroke="#03262a" stroke-width="4.9" stroke-linecap="round"/><path d="M380.8 331.4L378.4 342.1M378.4 342.1L365.2 344.7M382.7 397.7L392 393M392 393L389.5 375.7M389.5 375.7L399.4 369.2M389.5 375.7L373.8 368.7M379.9 417.3L389.5 408.1M389.5 408.1L401.3 412.5M389.5 408.1L401.5 412M401.5 412L407.5 405M357.4 414.7L355.8 399.5M355.8 399.5L370.9 395.2M370.9 395.2L373.4 382.6M370.9 395.2L376.2 379.6M376.2 379.6L386 379.8M376.2 379.6L386.3 375.9M360.1 356.9L376.9 357.2M376.9 357.2L382.4 347.7M382.4 347.7L395 350.2M371.6 330.8L369 348.1M369 348.1L359.9 351.8M369 348.1L359.7 354.1M359.7 354.1L356.7 371.6M403 397.2L408.9 406.5M408.9 406.5L401.9 396.8M401.9 396.8L389.4 398.9M401.9 396.8L405.6 385.4M374.2 341.4L364.9 347.1M364.9 347.1L362 361.7M362 361.7L369.4 370.2M358.2 366.4L376.7 369.1M376.7 369.1L385.4 380.7M385.4 380.7L397.1 378.4M389.2 303.3L397 310.1M397 310.1L394.5 320.8M394.5 320.8L400.1 330M400.1 330L411.4 327.3M400.1 330L393.8 343M385.4 306.5L390.6 323.1M390.6 323.1L380.2 330.9M390.6 323.1L380.2 337.8M380.2 337.8L384.8 348.8M380.2 337.8L364.5 333.1M364.5 333.1L362.6 320M369.6 319.4L376 329.8M376 329.8L388.6 331.2M388.6 331.2L395.9 342.8M395.9 342.8L406.6 342M395.9 342.8L390 354.4M373.1 358.2L355.4 355M355.4 355L356.6 340.1M356.6 340.1L366.3 337.9M400 338.2L393.8 328.1M393.8 328.1L382.7 329.9M393.8 328.1L383.4 329.3M383.4 329.3L376.6 345.7M376.6 345.7L366.3 347.9M398.6 363.5L389 356.3M389 356.3L389.6 340.7M389.6 340.7L398.4 332.2M398.4 332.2L396 323.9M402.2 385.2L412.6 394.9M412.6 394.9L414.4 378.6M414.4 378.6L426.8 375.8M414.4 378.6L425.4 375.2M425.4 375.2L415.1 375M380.3 399.7L382.8 415.3M382.8 415.3L365.9 423M365.9 423L350.9 414.2M392 385.1L380.4 388.7M380.4 388.7L377 401.1M380.4 388.7L369 377.2M369 377.2L357.6 381.4M369 377.2L378.3 362.8M378.3 362.8L386.6 363.9M357.9 370.3L372.1 373.4M372.1 373.4L377.1 364.4M372.1 373.4L375 383.7M361.7 361.2L367 343.9M367 343.9L380.8 337.7M380.8 337.7L393.1 350.2M393.1 350.2L410.8 347.2M394.4 327L406.8 330.1M406.8 330.1L411 344.3M411 344.3L404.7 356M404.7 356L387 357.5M388 323.9L390.7 305.8M390.7 305.8L399.4 302.1M390.7 305.8L404.8 299.8M382.2 394.9L386.1 405.6M386.1 405.6L398.8 405.4M408.8 370L416.4 356.2M416.4 356.2L408.5 346M416.4 356.2L430.9 353.2M430.9 353.2L415.7 354.9M415.7 354.9L409.2 344.8M415.7 354.9L406 367.1M419.3 377.6L408.4 383.1M408.4 383.1L409.8 395.8M408.4 383.1L405.2 399.8M405.2 399.8L412.8 404.4M372.2 383.8L372.3 395.4M372.3 395.4L382 404.2" stroke="#18999d" stroke-width="2.8" stroke-linecap="round"/><path d="M387.3 395.4L392 393M356.6 407.1L355.8 399.5M388.7 349L395 350.2M370.3 339.5L369 348.1M397 336.5L393.8 343M364.3 356.6L355.4 355M407.4 390L412.6 394.9M419.9 376.9L425.4 375.2M381.6 407.5L382.8 415.3M384.2 400.3L386.1 405.6M392.5 405.5L398.8 405.4M377.1 399.8L382 404.2" stroke="#2a35e0" stroke-width="3.2" stroke-linecap="round"/><path d="M380.8 371.8L373.8 368.7M396.1 410.2L401.5 412M358 363.7L356.7 371.6M363.3 355.1L362 361.7M393.5 307.1L397 310.1M384.9 331.2L380.2 337.8M382.9 330.6L388.6 331.2M357.6 418.1L350.9 414.2M398.5 302.5L404.8 299.8M413.3 380.7L408.4 383.1" stroke="#f0453f" stroke-width="3.2" stroke-linecap="round"/><path d="M356.6 340.1L365.9 341.5M393.8 328.1L401.8 326M393.8 328.1L390.4 333.8M393.8 328.1L400.8 325.4M383.4 329.3L388.7 324.6M376.6 345.7L382.8 342.4M376.6 345.7L382.7 349M376.6 345.7L371.1 343.4M366.3 347.9L372.5 352.8M366.3 347.9L366.9 356.9M366.3 347.9L373.4 351.2M389 356.3L395.1 352.5M389 356.3L396.3 352M389.6 340.7L381.5 344.8M389.6 340.7L382.8 341.1M398.4 332.2L398.9 339M398.4 332.2L403.4 336M398.4 332.2L397.7 338.6M412.6 394.9L405.5 399.3M414.4 378.6L423.7 379.3M414.4 378.6L419 386.1M414.4 378.6L405.5 375.7M425.4 375.2L428.5 381M415.1 375L412.9 383.5M415.1 375L420 369.3M382.8 415.3L376.5 410.2M365.9 423L373.7 428.6M365.9 423L373.8 424.6M365.9 423L374.8 426.3M350.9 414.2L359.6 409.8M350.9 414.2L351.2 423.1M380.4 388.7L385 382.6M380.4 388.7L380.3 379.6M380.4 388.7L384 394.3M369 377.2L377.8 376.7M378.3 362.8L371.1 356M372.1 373.4L371.9 382.8M372.1 373.4L366.3 377.7M375 383.7L384.8 382M375 383.7L380.4 376M375 383.7L378.3 378.3M367 343.9L374.8 344.6M380.8 337.7L374.1 334.8M380.8 337.7L375.6 331.8M393.1 350.2L388.3 356M393.1 350.2L386.4 349.8M393.1 350.2L394.2 342.7M410.8 347.2L412.9 355.5M406.8 330.1L407.2 323.1M406.8 330.1L408 322.1M411 344.3L416.6 340.6M411 344.3L403.2 346.2M404.7 356L397.5 351.6M387 357.5L385.5 350.5M387 357.5L385.4 348.6M387 357.5L390.8 352.1M390.7 305.8L382.9 305.5M404.8 299.8L405.7 307.2M404.8 299.8L403.1 308.3M386.1 405.6L391.7 400.3M398.8 405.4L392.8 410.4M398.8 405.4L395.6 412M398.8 405.4L391.6 401.2M416.4 356.2L410.2 358.2M416.4 356.2L419.1 363.2M430.9 353.2L434 362.3M430.9 353.2L427.9 360.9M430.9 353.2L429 359.6M415.7 354.9L413.8 348.9M415.7 354.9L420.5 349M406 367.1L411.4 370.8M406 367.1L401.3 363.1M406 367.1L403.8 360.7M408.4 383.1L406.2 375.3M405.2 399.8L399.6 397.5M405.2 399.8L412.5 395.7M405.2 399.8L413.1 397.6M372.3 395.4L365.1 395.2M382 404.2L376.2 407.3" stroke="#0c1515" stroke-width="2.3"/><path d="M356.6 340.1L365.9 341.5M393.8 328.1L401.8 326M393.8 328.1L390.4 333.8M393.8 328.1L400.8 325.4M383.4 329.3L388.7 324.6M376.6 345.7L382.8 342.4M376.6 345.7L382.7 349M376.6 345.7L371.1 343.4M366.3 347.9L372.5 352.8M366.3 347.9L366.9 356.9M366.3 347.9L373.4 351.2M389 356.3L395.1 352.5M389 356.3L396.3 352M389.6 340.7L381.5 344.8M389.6 340.7L382.8 341.1M398.4 332.2L398.9 339M398.4 332.2L403.4 336M398.4 332.2L397.7 338.6M412.6 394.9L405.5 399.3M414.4 378.6L423.7 379.3M414.4 378.6L419 386.1M414.4 378.6L405.5 375.7M425.4 375.2L428.5 381M415.1 375L412.9 383.5M415.1 375L420 369.3M382.8 415.3L376.5 410.2M365.9 423L373.7 428.6M365.9 423L373.8 424.6M365.9 423L374.8 426.3M350.9 414.2L359.6 409.8M350.9 414.2L351.2 423.1M380.4 388.7L385 382.6M380.4 388.7L380.3 379.6M380.4 388.7L384 394.3M369 377.2L377.8 376.7M378.3 362.8L371.1 356M372.1 373.4L371.9 382.8M372.1 373.4L366.3 377.7M375 383.7L384.8 382M375 383.7L380.4 376M375 383.7L378.3 378.3M367 343.9L374.8 344.6M380.8 337.7L374.1 334.8M380.8 337.7L375.6 331.8M393.1 350.2L388.3 356M393.1 350.2L386.4 349.8M393.1 350.2L394.2 342.7M410.8 347.2L412.9 355.5M406.8 330.1L407.2 323.1M406.8 330.1L408 322.1M411 344.3L416.6 340.6M411 344.3L403.2 346.2M404.7 356L397.5 351.6M387 357.5L385.5 350.5M387 357.5L385.4 348.6M387 357.5L390.8 352.1M390.7 305.8L382.9 305.5M404.8 299.8L405.7 307.2M404.8 299.8L403.1 308.3M386.1 405.6L391.7 400.3M398.8 405.4L392.8 410.4M398.8 405.4L395.6 412M398.8 405.4L391.6 401.2M416.4 356.2L410.2 358.2M416.4 356.2L419.1 363.2M430.9 353.2L434 362.3M430.9 353.2L427.9 360.9M430.9 353.2L429 359.6M415.7 354.9L413.8 348.9M415.7 354.9L420.5 349M406 367.1L411.4 370.8M406 367.1L401.3 363.1M406 367.1L403.8 360.7M408.4 383.1L406.2 375.3M405.2 399.8L399.6 397.5M405.2 399.8L412.5 395.7M405.2 399.8L413.1 397.6M372.3 395.4L365.1 395.2M382 404.2L376.2 407.3" stroke="#9aa6a6" stroke-width="0.65"/></g><ellipse cx="392" cy="356" rx="40.8" ry="61.2" transform="rotate(5.7 392 356)" fill="#fff" fill-opacity="0.2" filter="url(#blur3)"/><ellipse cx="368" cy="408" rx="26.5" ry="26.5" transform="rotate(0 368 408)" fill="#fff" fill-opacity="0.2" filter="url(#blur3)"/><g fill="none" stroke-linecap="butt"><path d="M393.9 404.1L398.2 399.5M384.6 411.8L386.5 403.8M414.4 373.6L405 372.4M414.4 373.6L414.9 379.7M414.4 373.6L423.2 377.8M402.4 359.5L409 358M367 420L371.7 427M384.1 426L387.6 418.4M368 425.7L372.2 419M368 425.7L370.6 432.5M368 425.7L373.8 417.9M359 416.5L360.2 422.8M392.5 338.5L390.3 348.1M396.1 323.5L400.3 331.4M396.1 323.5L391.3 327.6M381.2 312.3L383.2 318.9M381.2 312.3L385.2 303.8M381.2 312.3L385.5 304.2M379.9 302.3L385.9 305.9M410.7 355.1L406.5 362.7M410.7 355.1L407.8 361.9M400.8 352.9L401.3 344.4M400.8 352.9L402.9 347.1M400.8 352.9L400.6 346.4M396.7 336.7L402.8 335.5M396.7 336.7L390.1 336.6M396.7 336.7L405.1 335.9M380.7 332.8L378.4 340.5M404.7 404.7L405.9 398.3M404.7 404.7L405.8 397.1M402.6 386L411.7 385.9M402.6 386L394.8 391.9M402.6 386L394.1 391M347.4 399.5L346.5 406.3M350.8 416.6L357.3 412.3M361.7 424.1L365.7 418.1M361.7 424.1L366.4 415.6M361.7 424.1L360.4 414.6M353.8 417.4L361.7 414.1M353.8 417.4L358.2 411.5M367.8 315.7L374.2 308.9M367.8 315.7L367.3 323M382.4 324.4L379.3 331.9M380.8 341.5L372.1 336.7M380.8 341.5L374.1 334.5M380.8 341.5L388.4 337.9M367.7 348.4L373 355.4M367.7 348.4L372.7 353.6M385.9 351.6L394 352.2M379.8 342L386.3 344.1M379.8 342L370.7 345.2M385.5 331.4L379 329.5M396.7 330.6L397.8 338.9M396.7 330.6L398.8 337.9M396.7 330.6L392 338.8M407.3 373.8L410.5 381M407.3 373.8L411.6 367.5M407.3 373.8L409.2 365.5M401.4 388.9L395.5 381.1M401.4 388.9L409.8 393.4M375.4 431.7L370.8 436M410.3 325.1L415.8 318.7M416.2 312.4L407.4 311.6M416.2 312.4L423.6 315.5M416.2 312.4L417.6 322.3M358.6 358.1L352.4 364.4M358.6 358.1L365 362M358.6 358.1L365.7 362.6M364.2 349L357.6 347.5M366.9 361.9L374.1 366.4" stroke="#0c1515" stroke-width="2.3"/><path d="M393.9 404.1L398.2 399.5M384.6 411.8L386.5 403.8M414.4 373.6L405 372.4M414.4 373.6L414.9 379.7M414.4 373.6L423.2 377.8M402.4 359.5L409 358M367 420L371.7 427M384.1 426L387.6 418.4M368 425.7L372.2 419M368 425.7L370.6 432.5M368 425.7L373.8 417.9M359 416.5L360.2 422.8M392.5 338.5L390.3 348.1M396.1 323.5L400.3 331.4M396.1 323.5L391.3 327.6M381.2 312.3L383.2 318.9M381.2 312.3L385.2 303.8M381.2 312.3L385.5 304.2M379.9 302.3L385.9 305.9M410.7 355.1L406.5 362.7M410.7 355.1L407.8 361.9M400.8 352.9L401.3 344.4M400.8 352.9L402.9 347.1M400.8 352.9L400.6 346.4M396.7 336.7L402.8 335.5M396.7 336.7L390.1 336.6M396.7 336.7L405.1 335.9M380.7 332.8L378.4 340.5M404.7 404.7L405.9 398.3M404.7 404.7L405.8 397.1M402.6 386L411.7 385.9M402.6 386L394.8 391.9M402.6 386L394.1 391M347.4 399.5L346.5 406.3M350.8 416.6L357.3 412.3M361.7 424.1L365.7 418.1M361.7 424.1L366.4 415.6M361.7 424.1L360.4 414.6M353.8 417.4L361.7 414.1M353.8 417.4L358.2 411.5M367.8 315.7L374.2 308.9M367.8 315.7L367.3 323M382.4 324.4L379.3 331.9M380.8 341.5L372.1 336.7M380.8 341.5L374.1 334.5M380.8 341.5L388.4 337.9M367.7 348.4L373 355.4M367.7 348.4L372.7 353.6M385.9 351.6L394 352.2M379.8 342L386.3 344.1M379.8 342L370.7 345.2M385.5 331.4L379 329.5M396.7 330.6L397.8 338.9M396.7 330.6L398.8 337.9M396.7 330.6L392 338.8M407.3 373.8L410.5 381M407.3 373.8L411.6 367.5M407.3 373.8L409.2 365.5M401.4 388.9L395.5 381.1M401.4 388.9L409.8 393.4M375.4 431.7L370.8 436M410.3 325.1L415.8 318.7M416.2 312.4L407.4 311.6M416.2 312.4L423.6 315.5M416.2 312.4L417.6 322.3M358.6 358.1L352.4 364.4M358.6 358.1L365 362M358.6 358.1L365.7 362.6M364.2 349L357.6 347.5M366.9 361.9L374.1 366.4" stroke="#9aa6a6" stroke-width="0.65"/><path d="M392.6 392L393.9 404.1M393.9 404.1L384.6 411.8M384.6 411.8L374.9 407.6M409.5 382.6L414.4 373.6M414.4 373.6L402.4 359.5M354 427.3L367 420M367 420L384.1 426M384.1 426L368 425.7M368 425.7L365.2 416.7M368 425.7L359 416.5M359 416.5L363.5 408.5M377.1 346.6L392.5 338.5M392.5 338.5L390.4 327M392.5 338.5L396.1 323.5M396.1 323.5L381.2 312.3M381.2 312.3L379.9 302.3M417.2 368.8L410.7 355.1M410.7 355.1L399.1 356.7M410.7 355.1L400.8 352.9M400.8 352.9L396.7 336.7M396.7 336.7L380.7 332.8M392.1 393.2L404.7 404.7M404.7 404.7L401 412.7M404.7 404.7L402.6 386M363.6 406.9L347.4 399.5M347.4 399.5L350.8 416.6M350.8 416.6L361.7 424.1M361.7 424.1L353.8 417.4M383.5 320.9L367.8 315.7M367.8 315.7L382.4 324.4M382.4 324.4L380.8 341.5M380.8 341.5L367.7 348.4M383.1 361.4L385.9 351.6M385.9 351.6L379.8 342M379.8 342L385.5 331.4M385.5 331.4L396.7 330.6M425.9 371.7L407.3 373.8M407.3 373.8L403 364.8M407.3 373.8L401.4 388.9M365.5 419.5L375.4 431.7M375.4 431.7L385.1 427.9M419.7 338.6L410.3 325.1M410.3 325.1L416.2 312.4M416.2 312.4L409.8 301.9M366 374.3L358.6 358.1M358.6 358.1L364.2 349M377.9 360.3L366.9 361.9M366.9 361.9L359.1 372.4M359.1 372.4L369.7 365.7M369.7 365.7L380.6 370.5M376.1 321.7L369.1 334.6M369.1 334.6L375.8 345.8M375.8 345.8L385.4 346.2M392 400.7L378.4 406.6M378.4 406.6L369 398.7M378.4 406.6L367.7 397.9M372.8 369.8L372.8 358M372.8 358L387 350.5M359.7 383.2L370 386.2M370 386.2L371.2 398.5M370 386.2L375.2 401M409.5 320.6L407.8 334.2M407.8 334.2L416.5 342.3M407.8 334.2L416 341.8M416 341.8L411.7 358.8M411.7 358.8L401.2 361.7M369.3 386.3L356.2 394.8M356.2 394.8L367 389.4M367 389.4L367.4 377.4M367.4 377.4L355.8 371.9M367.4 377.4L377.4 372.3M419.5 367.5L418.3 386.3M418.3 386.3L408.3 394.6M408.3 394.6L393 388.9M383.7 318.4L387.9 306.6M387.9 306.6L398.9 300.9M398.9 300.9L414.2 306.3M414.2 306.3L407.7 318.7M383.2 406.5L390.8 392.5M390.8 392.5L402 392.1M390.8 392.5L385.3 383.7M395.5 353.9L388.7 367.9M388.7 367.9L374.9 367.5M374.9 367.5L367.3 378M367.3 378L370.6 389.6M395.5 341L380.8 345.8M380.8 345.8L366.2 338.4M366.2 338.4L358.3 342.9M394 388.6L402.4 398.3M402.4 398.3L415.4 397.2M415.4 397.2L423.9 383.7" stroke="#03262a" stroke-width="4.9" stroke-linecap="round"/><path d="M392.6 392L393.9 404.1M393.9 404.1L384.6 411.8M384.6 411.8L374.9 407.6M409.5 382.6L414.4 373.6M414.4 373.6L402.4 359.5M354 427.3L367 420M367 420L384.1 426M384.1 426L368 425.7M368 425.7L365.2 416.7M368 425.7L359 416.5M359 416.5L363.5 408.5M377.1 346.6L392.5 338.5M392.5 338.5L390.4 327M392.5 338.5L396.1 323.5M396.1 323.5L381.2 312.3M381.2 312.3L379.9 302.3M417.2 368.8L410.7 355.1M410.7 355.1L399.1 356.7M410.7 355.1L400.8 352.9M400.8 352.9L396.7 336.7M396.7 336.7L380.7 332.8M392.1 393.2L404.7 404.7M404.7 404.7L401 412.7M404.7 404.7L402.6 386M363.6 406.9L347.4 399.5M347.4 399.5L350.8 416.6M350.8 416.6L361.7 424.1M361.7 424.1L353.8 417.4M383.5 320.9L367.8 315.7M367.8 315.7L382.4 324.4M382.4 324.4L380.8 341.5M380.8 341.5L367.7 348.4M383.1 361.4L385.9 351.6M385.9 351.6L379.8 342M379.8 342L385.5 331.4M385.5 331.4L396.7 330.6M425.9 371.7L407.3 373.8M407.3 373.8L403 364.8M407.3 373.8L401.4 388.9M365.5 419.5L375.4 431.7M375.4 431.7L385.1 427.9M419.7 338.6L410.3 325.1M410.3 325.1L416.2 312.4M416.2 312.4L409.8 301.9M366 374.3L358.6 358.1M358.6 358.1L364.2 349M377.9 360.3L366.9 361.9M366.9 361.9L359.1 372.4M359.1 372.4L369.7 365.7M369.7 365.7L380.6 370.5M376.1 321.7L369.1 334.6M369.1 334.6L375.8 345.8M375.8 345.8L385.4 346.2M392 400.7L378.4 406.6M378.4 406.6L369 398.7M378.4 406.6L367.7 397.9M372.8 369.8L372.8 358M372.8 358L387 350.5M359.7 383.2L370 386.2M370 386.2L371.2 398.5M370 386.2L375.2 401M409.5 320.6L407.8 334.2M407.8 334.2L416.5 342.3M407.8 334.2L416 341.8M416 341.8L411.7 358.8M411.7 358.8L401.2 361.7M369.3 386.3L356.2 394.8M356.2 394.8L367 389.4M367 389.4L367.4 377.4M367.4 377.4L355.8 371.9M367.4 377.4L377.4 372.3M419.5 367.5L418.3 386.3M418.3 386.3L408.3 394.6M408.3 394.6L393 388.9M383.7 318.4L387.9 306.6M387.9 306.6L398.9 300.9M398.9 300.9L414.2 306.3M414.2 306.3L407.7 318.7M383.2 406.5L390.8 392.5M390.8 392.5L402 392.1M390.8 392.5L385.3 383.7M395.5 353.9L388.7 367.9M388.7 367.9L374.9 367.5M374.9 367.5L367.3 378M367.3 378L370.6 389.6M395.5 341L380.8 345.8M380.8 345.8L366.2 338.4M366.2 338.4L358.3 342.9M394 388.6L402.4 398.3M402.4 398.3L415.4 397.2M415.4 397.2L423.9 383.7" stroke="#1a9ea2" stroke-width="2.8" stroke-linecap="round"/><path d="M411.9 378.1L414.4 373.6M388.7 334.7L380.7 332.8M413.2 318.8L416.2 312.4M373 402.3L367.7 397.9M372.6 393.6L375.2 401M418.9 376.9L418.3 386.3" stroke="#2a35e0" stroke-width="3.2" stroke-linecap="round"/><path d="M403.5 394.4L402.6 386M374.9 318L367.8 315.7M362.1 391L356.2 394.8M362.1 391.8L367 389.4M372.9 374.6L377.4 372.3M381.1 367.7L374.9 367.5" stroke="#f0453f" stroke-width="3.2" stroke-linecap="round"/><path d="M359.1 372.4L359.3 363.7M359.1 372.4L358 362.6M369.7 365.7L364.5 358.6M369.7 365.7L361.2 361.4M369.1 334.6L365.8 327M369.1 334.6L361.4 331.3M375.8 345.8L368.2 346.9M375.8 345.8L371 349.7M375.8 345.8L369.9 342.9M378.4 406.6L383.9 409.2M378.4 406.6L381.7 399.7M378.4 406.6L379.2 400M367.7 397.9L368.2 407.5M372.8 358L380.5 358.9M372.8 358L377.3 364.1M387 350.5L384.8 341.4M370 386.2L364.1 390M370 386.2L362.7 392.6M370 386.2L366.5 394.8M375.2 401L376.6 395.1M375.2 401L377 393.1M407.8 334.2L413.3 330.7M407.8 334.2L414.6 327.9M407.8 334.2L399.7 332.3M416 341.8L422.1 336.5M416 341.8L408.8 342.7M416 341.8L419 336.4M411.7 358.8L420 355.6M411.7 358.8L419.4 355.2M411.7 358.8L418.4 361.1M356.2 394.8L354.4 388.1M356.2 394.8L364.4 398M356.2 394.8L353.4 387.9M367 389.4L358.4 385.4M367.4 377.4L372.4 382.2M367.4 377.4L373.5 384.6M367.4 377.4L362.9 381.6M377.4 372.3L380.7 380.3M377.4 372.3L372.6 363.7M377.4 372.3L370 368.6M418.3 386.3L409.2 383.3M408.3 394.6L409.6 387.9M408.3 394.6L411.2 385.2M408.3 394.6L414.4 402.2M393 388.9L398 384.2M387.9 306.6L395.1 308.9M387.9 306.6L380.5 311.2M398.9 300.9L392.8 294.7M398.9 300.9L399 307.9M398.9 300.9L395.5 295.1M414.2 306.3L414.7 297.8M414.2 306.3L413.7 299.5M407.7 318.7L398.6 315.9M390.8 392.5L385.1 388.4M390.8 392.5L392.6 400M385.3 383.7L394.3 380.7M388.7 367.9L394.7 372M388.7 367.9L395.6 368.6M374.9 367.5L379.1 362.6M374.9 367.5L378 374.9M367.3 378L364.4 369.8M380.8 345.8L383.8 336.6M380.8 345.8L387.1 351.8M366.2 338.4L370.2 333.3M402.4 398.3L395.7 402.7M415.4 397.2L410.5 392.4M415.4 397.2L410.7 405.9M423.9 383.7L428.4 388.4M423.9 383.7L415.7 378.3M423.9 383.7L431.9 386.7" stroke="#0c1515" stroke-width="2.3"/><path d="M359.1 372.4L359.3 363.7M359.1 372.4L358 362.6M369.7 365.7L364.5 358.6M369.7 365.7L361.2 361.4M369.1 334.6L365.8 327M369.1 334.6L361.4 331.3M375.8 345.8L368.2 346.9M375.8 345.8L371 349.7M375.8 345.8L369.9 342.9M378.4 406.6L383.9 409.2M378.4 406.6L381.7 399.7M378.4 406.6L379.2 400M367.7 397.9L368.2 407.5M372.8 358L380.5 358.9M372.8 358L377.3 364.1M387 350.5L384.8 341.4M370 386.2L364.1 390M370 386.2L362.7 392.6M370 386.2L366.5 394.8M375.2 401L376.6 395.1M375.2 401L377 393.1M407.8 334.2L413.3 330.7M407.8 334.2L414.6 327.9M407.8 334.2L399.7 332.3M416 341.8L422.1 336.5M416 341.8L408.8 342.7M416 341.8L419 336.4M411.7 358.8L420 355.6M411.7 358.8L419.4 355.2M411.7 358.8L418.4 361.1M356.2 394.8L354.4 388.1M356.2 394.8L364.4 398M356.2 394.8L353.4 387.9M367 389.4L358.4 385.4M367.4 377.4L372.4 382.2M367.4 377.4L373.5 384.6M367.4 377.4L362.9 381.6M377.4 372.3L380.7 380.3M377.4 372.3L372.6 363.7M377.4 372.3L370 368.6M418.3 386.3L409.2 383.3M408.3 394.6L409.6 387.9M408.3 394.6L411.2 385.2M408.3 394.6L414.4 402.2M393 388.9L398 384.2M387.9 306.6L395.1 308.9M387.9 306.6L380.5 311.2M398.9 300.9L392.8 294.7M398.9 300.9L399 307.9M398.9 300.9L395.5 295.1M414.2 306.3L414.7 297.8M414.2 306.3L413.7 299.5M407.7 318.7L398.6 315.9M390.8 392.5L385.1 388.4M390.8 392.5L392.6 400M385.3 383.7L394.3 380.7M388.7 367.9L394.7 372M388.7 367.9L395.6 368.6M374.9 367.5L379.1 362.6M374.9 367.5L378 374.9M367.3 378L364.4 369.8M380.8 345.8L383.8 336.6M380.8 345.8L387.1 351.8M366.2 338.4L370.2 333.3M402.4 398.3L395.7 402.7M415.4 397.2L410.5 392.4M415.4 397.2L410.7 405.9M423.9 383.7L428.4 388.4M423.9 383.7L415.7 378.3M423.9 383.7L431.9 386.7" stroke="#9aa6a6" stroke-width="0.65"/></g><ellipse cx="392" cy="356" rx="40.8" ry="61.2" transform="rotate(5.7 392 356)" fill="#fff" fill-opacity="0.2" filter="url(#blur3)"/><ellipse cx="368" cy="408" rx="26.5" ry="26.5" transform="rotate(0 368 408)" fill="#fff" fill-opacity="0.2" filter="url(#blur3)"/><g fill="none" stroke-linecap="butt"><path d="M375.3 321.4L380.2 327.7M375.3 321.4L366.7 323M375.3 321.4L382.4 324.1M392.6 321.3L391.1 314.2M392.6 321.3L388.9 312.6M392.6 321.3L390.1 312.4M396.6 310.1L387 309.5M396.6 310.1L388.9 314.5M396.6 310.1L390.2 306.6M384.9 343.2L386.8 337.1M384.9 343.2L385.2 336.9M384.9 343.2L388.8 335.7M382.6 355.8L389.4 352.3M382.6 355.8L390.9 356.6M373.4 357.2L379.9 362.8M373.4 357.2L367.3 360.1M373.4 357.2L376.9 363.4M390.8 351.4L384.3 347.8M390.8 351.4L381.4 349.1M374.5 375.4L375.8 368.1M374.5 375.4L368.4 378.1M374.5 375.4L374.3 367.4M384.2 372.1L380.5 366.2M384.2 372.1L387.3 377.9M384.2 372.1L381.6 365.1M386.7 354.1L378.8 353.1M386.7 354.1L381.2 360.5M386.7 354.1L379.8 354.5M376.6 340.7L369.6 344.9M364.8 343.2L357.4 344.5M382.1 350L378.4 355.2M382.1 350L384.7 342.2M382.1 350L383.7 343.8M420.7 309.8L425.2 303.6M420.7 309.8L423.1 303.6M420.7 309.8L423.5 302.7M423.6 320.9L417.8 318.3M423.6 320.9L414.7 316.9M414.9 328.6L415.1 319M414.9 328.6L407.5 322.1M414.9 328.6L424.1 327.1M419.6 343.3L422.5 337.2M419.6 343.3L413.3 343.1M419.6 343.3L413 345.6M400.7 359L406.7 356.3M400.7 359L394.2 354.7M400.7 359L392.9 360.8M410.4 366.5L414.6 360M410.4 366.5L402.9 367.9M410.4 366.5L417.2 360.1M424.4 357.8L424.4 367.6M424.4 357.8L430.2 365.1M424.4 357.8L416.2 355.5M378.7 353.9L375.1 345.2M378.7 353.9L374.9 346.8M378.7 353.9L377.8 360.1M384.4 366.5L377.3 361.8M384.4 366.5L390.7 365.1M384.4 366.5L377.3 367.4M395.6 366.9L396.3 359.8M407.5 381.6L413 375.7M407.5 381.6L400.4 385.9M407.5 381.6L400.3 381.6M376.5 381.1L375.3 388.7M387.4 367.3L387.7 377M383.3 328.6L378.1 320.4M394.6 331.1L388.1 338M394.6 331.1L398.6 322.2M399 341.3L390.8 337.7M373.3 380.5L382.4 378.3M373.3 380.5L368.9 388.2M373.3 380.5L380.1 380.1M385.5 368.2L387.6 377.3M385.5 368.2L379 364.7M393.1 397.8L397 406.9M393.1 397.8L396.3 405.8M393.1 397.8L387 396.8M390.8 381.2L397.5 388M390.8 381.2L384.7 384.3M390.8 381.2L383.1 381.1M374.1 422.4L369.8 417.3M374.1 422.4L367.2 421.5M384.9 421.8L376.8 427.6M371.1 421.4L371 414.8" stroke="#0c1515" stroke-width="2.3"/><path d="M375.3 321.4L380.2 327.7M375.3 321.4L366.7 323M375.3 321.4L382.4 324.1M392.6 321.3L391.1 314.2M392.6 321.3L388.9 312.6M392.6 321.3L390.1 312.4M396.6 310.1L387 309.5M396.6 310.1L388.9 314.5M396.6 310.1L390.2 306.6M384.9 343.2L386.8 337.1M384.9 343.2L385.2 336.9M384.9 343.2L388.8 335.7M382.6 355.8L389.4 352.3M382.6 355.8L390.9 356.6M373.4 357.2L379.9 362.8M373.4 357.2L367.3 360.1M373.4 357.2L376.9 363.4M390.8 351.4L384.3 347.8M390.8 351.4L381.4 349.1M374.5 375.4L375.8 368.1M374.5 375.4L368.4 378.1M374.5 375.4L374.3 367.4M384.2 372.1L380.5 366.2M384.2 372.1L387.3 377.9M384.2 372.1L381.6 365.1M386.7 354.1L378.8 353.1M386.7 354.1L381.2 360.5M386.7 354.1L379.8 354.5M376.6 340.7L369.6 344.9M364.8 343.2L357.4 344.5M382.1 350L378.4 355.2M382.1 350L384.7 342.2M382.1 350L383.7 343.8M420.7 309.8L425.2 303.6M420.7 309.8L423.1 303.6M420.7 309.8L423.5 302.7M423.6 320.9L417.8 318.3M423.6 320.9L414.7 316.9M414.9 328.6L415.1 319M414.9 328.6L407.5 322.1M414.9 328.6L424.1 327.1M419.6 343.3L422.5 337.2M419.6 343.3L413.3 343.1M419.6 343.3L413 345.6M400.7 359L406.7 356.3M400.7 359L394.2 354.7M400.7 359L392.9 360.8M410.4 366.5L414.6 360M410.4 366.5L402.9 367.9M410.4 366.5L417.2 360.1M424.4 357.8L424.4 367.6M424.4 357.8L430.2 365.1M424.4 357.8L416.2 355.5M378.7 353.9L375.1 345.2M378.7 353.9L374.9 346.8M378.7 353.9L377.8 360.1M384.4 366.5L377.3 361.8M384.4 366.5L390.7 365.1M384.4 366.5L377.3 367.4M395.6 366.9L396.3 359.8M407.5 381.6L413 375.7M407.5 381.6L400.4 385.9M407.5 381.6L400.3 381.6M376.5 381.1L375.3 388.7M387.4 367.3L387.7 377M383.3 328.6L378.1 320.4M394.6 331.1L388.1 338M394.6 331.1L398.6 322.2M399 341.3L390.8 337.7M373.3 380.5L382.4 378.3M373.3 380.5L368.9 388.2M373.3 380.5L380.1 380.1M385.5 368.2L387.6 377.3M385.5 368.2L379 364.7M393.1 397.8L397 406.9M393.1 397.8L396.3 405.8M393.1 397.8L387 396.8M390.8 381.2L397.5 388M390.8 381.2L384.7 384.3M390.8 381.2L383.1 381.1M374.1 422.4L369.8 417.3M374.1 422.4L367.2 421.5M384.9 421.8L376.8 427.6M371.1 421.4L371 414.8" stroke="#9aa6a6" stroke-width="0.65"/><path d="M365 337.3L375.3 321.4M375.3 321.4L392.6 321.3M392.6 321.3L395.9 331.8M392.6 321.3L396.6 310.1M396.6 310.1L390.2 304.1M401 340.2L384.9 343.2M384.9 343.2L382.6 355.8M382.6 355.8L393.3 362.5M371 369.6L373.4 357.2M373.4 357.2L390.8 351.4M360.6 369.2L374.5 375.4M374.5 375.4L384.2 372.1M384.2 372.1L390.5 379.8M384.2 372.1L386.7 354.1M386.7 354.1L399.2 352.2M386.7 354.1L376.6 340.7M363.3 332L364.8 343.2M364.8 343.2L382.1 350M382.1 350L389.6 341.7M403.7 302.4L420.7 309.8M420.7 309.8L423.6 320.9M423.6 320.9L414.9 328.6M414.9 328.6L418.5 338.8M414.9 328.6L419.6 343.3M398.5 345.6L400.7 359M400.7 359L410.4 366.5M410.4 366.5L405.8 378.3M410.4 366.5L424.4 357.8M424.4 357.8L425.7 346.2M363.3 352.5L378.7 353.9M378.7 353.9L383.4 364.3M378.7 353.9L384.4 366.5M384.4 366.5L377.1 373.7M384.4 366.5L395.6 366.9M395.6 366.9L407.5 381.6M362.6 380.8L376.5 381.1M376.5 381.1L387.4 367.3M369.5 339.9L383.3 328.6M383.3 328.6L392.5 335M383.3 328.6L394.6 331.1M394.6 331.1L399 341.3M376.8 394.3L373.3 380.5M373.3 380.5L385.5 368.2M385.5 368.2L393.7 369.5M383 403.3L393.1 397.8M393.1 397.8L390.8 381.2M390.8 381.2L379.7 377.1M367.4 432.1L374.1 422.4M374.1 422.4L369 414M374.1 422.4L384.9 421.8M384.9 421.8L371.1 421.4M371.1 421.4L360 432.3M369.5 352.7L359.3 338.7M359.3 338.7L364.4 331.1M359.3 338.7L371.2 329.8M371.2 329.8L366.4 314.3M401.9 407.7L415 400.4M415 400.4L417.9 382.2M417.9 382.2L408.1 369.1M408.1 369.1L411.2 355.3M413.8 332.8L417.7 321.4M417.7 321.4L411 312.6M411 312.6L403.8 326.8M378.9 406.1L387.9 401.3M387.9 401.3L390.8 383.6M390.8 383.6L380.6 375.9M390.8 383.6L383.7 376.2M383.7 376.2L373.3 375.6M394.9 386.3L409.8 375.9M409.8 375.9L418.7 381.5M409.8 375.9L411.3 361.7M411.3 361.7L403.1 352.6M403.1 352.6L406.4 340.8M406.4 340.8L418.6 340.7M420.2 383L407.8 382.5M407.8 382.5L396.5 397.2M396.5 397.2L383.3 397.2M383.3 397.2L379.1 407.6M383.3 397.2L373 412.7M373 412.7L363 411.6M367.4 348.7L372.4 330.4M372.4 330.4L381.4 328.5M372.4 330.4L391 326.8M391 326.8L399.8 339.1M365.7 341.7L378.1 340.1M378.1 340.1L384.1 349.3M356.5 413.1L351.2 401.3M351.2 401.3L362.3 390.3M402.3 396.6L387 393.7M387 393.7L378.9 403.9M387 393.7L372.6 405.4M372.6 405.4L356.1 404.2M356.1 404.2L349.2 415.8M390.7 334.2L380.8 347M380.8 347L384.1 360.3M384.1 360.3L396.9 364.6M366.7 428.6L357.3 421M357.3 421L358.9 409M358.9 409L351.4 402.2M351.4 402.2L355.2 393.4M351.4 402.2L356.6 385.3M397.3 313.6L403.3 296.9M403.3 296.9L397.4 305.7" stroke="#03262a" stroke-width="4.9" stroke-linecap="round"/><path d="M365 337.3L375.3 321.4M375.3 321.4L392.6 321.3M392.6 321.3L395.9 331.8M392.6 321.3L396.6 310.1M396.6 310.1L390.2 304.1M401 340.2L384.9 343.2M384.9 343.2L382.6 355.8M382.6 355.8L393.3 362.5M371 369.6L373.4 357.2M373.4 357.2L390.8 351.4M360.6 369.2L374.5 375.4M374.5 375.4L384.2 372.1M384.2 372.1L390.5 379.8M384.2 372.1L386.7 354.1M386.7 354.1L399.2 352.2M386.7 354.1L376.6 340.7M363.3 332L364.8 343.2M364.8 343.2L382.1 350M382.1 350L389.6 341.7M403.7 302.4L420.7 309.8M420.7 309.8L423.6 320.9M423.6 320.9L414.9 328.6M414.9 328.6L418.5 338.8M414.9 328.6L419.6 343.3M398.5 345.6L400.7 359M400.7 359L410.4 366.5M410.4 366.5L405.8 378.3M410.4 366.5L424.4 357.8M424.4 357.8L425.7 346.2M363.3 352.5L378.7 353.9M378.7 353.9L383.4 364.3M378.7 353.9L384.4 366.5M384.4 366.5L377.1 373.7M384.4 366.5L395.6 366.9M395.6 366.9L407.5 381.6M362.6 380.8L376.5 381.1M376.5 381.1L387.4 367.3M369.5 339.9L383.3 328.6M383.3 328.6L392.5 335M383.3 328.6L394.6 331.1M394.6 331.1L399 341.3M376.8 394.3L373.3 380.5M373.3 380.5L385.5 368.2M385.5 368.2L393.7 369.5M383 403.3L393.1 397.8M393.1 397.8L390.8 381.2M390.8 381.2L379.7 377.1M367.4 432.1L374.1 422.4M374.1 422.4L369 414M374.1 422.4L384.9 421.8M384.9 421.8L371.1 421.4M371.1 421.4L360 432.3M369.5 352.7L359.3 338.7M359.3 338.7L364.4 331.1M359.3 338.7L371.2 329.8M371.2 329.8L366.4 314.3M401.9 407.7L415 400.4M415 400.4L417.9 382.2M417.9 382.2L408.1 369.1M408.1 369.1L411.2 355.3M413.8 332.8L417.7 321.4M417.7 321.4L411 312.6M411 312.6L403.8 326.8M378.9 406.1L387.9 401.3M387.9 401.3L390.8 383.6M390.8 383.6L380.6 375.9M390.8 383.6L383.7 376.2M383.7 376.2L373.3 375.6M394.9 386.3L409.8 375.9M409.8 375.9L418.7 381.5M409.8 375.9L411.3 361.7M411.3 361.7L403.1 352.6M403.1 352.6L406.4 340.8M406.4 340.8L418.6 340.7M420.2 383L407.8 382.5M407.8 382.5L396.5 397.2M396.5 397.2L383.3 397.2M383.3 397.2L379.1 407.6M383.3 397.2L373 412.7M373 412.7L363 411.6M367.4 348.7L372.4 330.4M372.4 330.4L381.4 328.5M372.4 330.4L391 326.8M391 326.8L399.8 339.1M365.7 341.7L378.1 340.1M378.1 340.1L384.1 349.3M356.5 413.1L351.2 401.3M351.2 401.3L362.3 390.3M402.3 396.6L387 393.7M387 393.7L378.9 403.9M387 393.7L372.6 405.4M372.6 405.4L356.1 404.2M356.1 404.2L349.2 415.8M390.7 334.2L380.8 347M380.8 347L384.1 360.3M384.1 360.3L396.9 364.6M366.7 428.6L357.3 421M357.3 421L358.9 409M358.9 409L351.4 402.2M351.4 402.2L355.2 393.4M351.4 402.2L356.6 385.3M397.3 313.6L403.3 296.9M403.3 296.9L397.4 305.7" stroke="#1ca3a6" stroke-width="2.8" stroke-linecap="round"/><path d="M364 337.6L364.8 343.2M401.5 374.2L407.5 381.6M388.9 329.9L394.6 331.1M414.4 317L411 312.6M407.4 319.7L403.8 326.8M402.2 389.9L396.5 397.2M356.7 395.8L362.3 390.3M385.7 340.6L380.8 347" stroke="#2a35e0" stroke-width="3.2" stroke-linecap="round"/><path d="M363.9 345L359.3 338.7M368.6 321.3L366.4 314.3M410.6 368.1L411.3 361.7M389.2 397.2L383.3 397.2M353.5 406.6L351.2 401.3M382.6 354.3L384.1 360.3" stroke="#f0453f" stroke-width="3.2" stroke-linecap="round"/><path d="M360 432.3L356.3 424.7M359.3 338.7L354.2 344.4M359.3 338.7L359.1 346.1M371.2 329.8L369.6 336M371.2 329.8L364.4 325.5M366.4 314.3L360.3 321.9M366.4 314.3L358.7 316M415 400.4L406.7 399.2M415 400.4L412.8 407.2M415 400.4L409.1 394.8M417.9 382.2L425.1 388.2M417.9 382.2L410.1 380.9M408.1 369.1L414.2 366.6M411.2 355.3L415.2 362.7M411.2 355.3L416.4 359.3M411.2 355.3L404.8 355.8M417.7 321.4L420.9 327.6M417.7 321.4L409.6 326M411 312.6L419.2 308.2M411 312.6L405.2 319.1M403.8 326.8L411 333.1M387.9 401.3L381.3 395.1M387.9 401.3L391.6 407.4M390.8 383.6L383.3 382.8M383.7 376.2L381 382.6M383.7 376.2L392.3 371.1M373.3 375.6L378.7 369.2M373.3 375.6L373.4 383M409.8 375.9L411.4 384M409.8 375.9L406.9 368.7M409.8 375.9L415.8 382.7M411.3 361.7L420.3 364.7M411.3 361.7L405.2 362.9M411.3 361.7L420.4 360.3M403.1 352.6L398.8 361.4M403.1 352.6L411.7 355M403.1 352.6L410.5 346.4M406.4 340.8L416 342.3M406.4 340.8L412.6 341.5M407.8 382.5L408.8 390.1M407.8 382.5L406.2 373.1M396.5 397.2L394.5 387.5M383.3 397.2L385 389M383.3 397.2L384.8 387.4M383.3 397.2L381.9 390.2M373 412.7L365.6 408.8M373 412.7L372.4 406.6M373 412.7L380.4 410.6M372.4 330.4L377.2 336M372.4 330.4L365.3 331.3M372.4 330.4L363.5 328.9M391 326.8L389.9 334M399.8 339.1L403.2 331.9M378.1 340.1L376.5 334.2M378.1 340.1L373 331.8M384.1 349.3L376.8 353.7M351.2 401.3L348.9 408M351.2 401.3L345.9 405.9M351.2 401.3L349.7 407.2M362.3 390.3L366.4 398.1M362.3 390.3L366.8 398.9M387 393.7L394.1 389.2M387 393.7L384.6 402.6M387 393.7L387 400.7M372.6 405.4L380.7 406.1M372.6 405.4L375.7 412M372.6 405.4L379.9 410.5M356.1 404.2L362.9 398.2M356.1 404.2L359.9 413.4M356.1 404.2L355.7 397.7M349.2 415.8L344.9 407.2M380.8 347L376.3 342.6M380.8 347L388.9 345.1M384.1 360.3L375.7 361.3M396.9 364.6L390.4 366.9M396.9 364.6L398 357.1M357.3 421L357.2 428.4M358.9 409L352.6 412.9M358.9 409L363.8 416.8M351.4 402.2L349.4 408.6M356.6 385.3L361.9 392.2M403.3 296.9L396.7 293.1M397.4 305.7L404.3 308.8M397.4 305.7L393.5 297.5M397.4 305.7L406.1 307.9" stroke="#0c1515" stroke-width="2.3"/><path d="M360 432.3L356.3 424.7M359.3 338.7L354.2 344.4M359.3 338.7L359.1 346.1M371.2 329.8L369.6 336M371.2 329.8L364.4 325.5M366.4 314.3L360.3 321.9M366.4 314.3L358.7 316M415 400.4L406.7 399.2M415 400.4L412.8 407.2M415 400.4L409.1 394.8M417.9 382.2L425.1 388.2M417.9 382.2L410.1 380.9M408.1 369.1L414.2 366.6M411.2 355.3L415.2 362.7M411.2 355.3L416.4 359.3M411.2 355.3L404.8 355.8M417.7 321.4L420.9 327.6M417.7 321.4L409.6 326M411 312.6L419.2 308.2M411 312.6L405.2 319.1M403.8 326.8L411 333.1M387.9 401.3L381.3 395.1M387.9 401.3L391.6 407.4M390.8 383.6L383.3 382.8M383.7 376.2L381 382.6M383.7 376.2L392.3 371.1M373.3 375.6L378.7 369.2M373.3 375.6L373.4 383M409.8 375.9L411.4 384M409.8 375.9L406.9 368.7M409.8 375.9L415.8 382.7M411.3 361.7L420.3 364.7M411.3 361.7L405.2 362.9M411.3 361.7L420.4 360.3M403.1 352.6L398.8 361.4M403.1 352.6L411.7 355M403.1 352.6L410.5 346.4M406.4 340.8L416 342.3M406.4 340.8L412.6 341.5M407.8 382.5L408.8 390.1M407.8 382.5L406.2 373.1M396.5 397.2L394.5 387.5M383.3 397.2L385 389M383.3 397.2L384.8 387.4M383.3 397.2L381.9 390.2M373 412.7L365.6 408.8M373 412.7L372.4 406.6M373 412.7L380.4 410.6M372.4 330.4L377.2 336M372.4 330.4L365.3 331.3M372.4 330.4L363.5 328.9M391 326.8L389.9 334M399.8 339.1L403.2 331.9M378.1 340.1L376.5 334.2M378.1 340.1L373 331.8M384.1 349.3L376.8 353.7M351.2 401.3L348.9 408M351.2 401.3L345.9 405.9M351.2 401.3L349.7 407.2M362.3 390.3L366.4 398.1M362.3 390.3L366.8 398.9M387 393.7L394.1 389.2M387 393.7L384.6 402.6M387 393.7L387 400.7M372.6 405.4L380.7 406.1M372.6 405.4L375.7 412M372.6 405.4L379.9 410.5M356.1 404.2L362.9 398.2M356.1 404.2L359.9 413.4M356.1 404.2L355.7 397.7M349.2 415.8L344.9 407.2M380.8 347L376.3 342.6M380.8 347L388.9 345.1M384.1 360.3L375.7 361.3M396.9 364.6L390.4 366.9M396.9 364.6L398 357.1M357.3 421L357.2 428.4M358.9 409L352.6 412.9M358.9 409L363.8 416.8M351.4 402.2L349.4 408.6M356.6 385.3L361.9 392.2M403.3 296.9L396.7 293.1M397.4 305.7L404.3 308.8M397.4 305.7L393.5 297.5M397.4 305.7L406.1 307.9" stroke="#9aa6a6" stroke-width="0.65"/></g>
</g>
<path d="M342 342 L349 338 L356 343 L352 349 L344 350 Z M340 362 L356 358 L362 366 L356 372 L344 372 L338 378 L333 372 Z" fill="#e9c83b" stroke="#8b7a1f" stroke-width="0.8" stroke-linejoin="round"/>
<g fill="none"><path d="M279 390L271 393M279 390L280 383M279 390L286 385M284 412L276 408M284 412L277 418M305 438L312 442M288 438L283 444M298 398L298 388M332 408L334 416M344 396L352 398M326 352L322 360M318 346L313 350M296 420L305 424M309 408L314 416" stroke="#1d2b2b" stroke-width="2.2"/><path d="M279 390L271 393M279 390L280 383M279 390L286 385M284 412L276 408M284 412L277 418M305 438L312 442M288 438L283 444M298 398L298 388M332 408L334 416M344 396L352 398M326 352L322 360M318 346L313 350M296 420L305 424M309 408L314 416" stroke="#b9c4c4" stroke-width="0.8"/><path d="M333 343L338 356M338 356L349 364M338 356L326 352M335 374L338 384M338 384L323 389M323 389L320 402M320 402L332 408M332 408L344 396M344 396L338 384M320 402L309 408M309 408L298 398M298 398L285 399M285 399L284 412M284 412L296 420M296 420L309 408M285 399L279 390M296 420L296 432M296 432L305 438M296 432L288 438M326 352L318 346M323 389L313 385" stroke="#0a3e42" stroke-width="3.9" stroke-linecap="round"/><path d="M333 343L338 356M338 356L349 364M338 356L326 352M335 374L338 384M338 384L323 389M323 389L320 402M320 402L332 408M332 408L344 396M344 396L338 384M320 402L309 408M309 408L298 398M298 398L285 399M285 399L284 412M284 412L296 420M296 420L309 408M285 399L279 390M296 420L296 432M296 432L305 438M296 432L288 438M326 352L318 346M323 389L313 385" stroke="#1b979b" stroke-width="2.5" stroke-linecap="round"/><path d="M320 402L314 405.5M284 412L290 416M318 346L314 343" stroke="#2a35e0" stroke-width="2.7" stroke-linecap="round"/><path d="M277 418L282 414" stroke="#f0453f" stroke-width="2.7" stroke-linecap="round"/><path d="M313 385L309 383M331 350L334 346" stroke="#6b1f1f" stroke-width="2.7" stroke-linecap="round"/></g>
</g>
<rect x="686.2" y="42.4" width="273.3" height="272.6" fill="none" stroke="#000" stroke-width="2.5"/>
<line x1="674.2" y1="96" x2="686.2" y2="96" stroke="#000" stroke-width="2.5"/>
<text x="668.5" y="105.6" font-size="27.2" text-anchor="end">0.2</text>
<line x1="674.2" y1="205.2" x2="686.2" y2="205.2" stroke="#000" stroke-width="2.5"/>
<text x="668.5" y="214.8" font-size="27.2" text-anchor="end">0.1</text>
<line x1="674.2" y1="315" x2="686.2" y2="315" stroke="#000" stroke-width="2.5"/>
<text x="668.5" y="324.6" font-size="27.2" text-anchor="end">0.0</text>
<line x1="711" y1="315" x2="711" y2="327" stroke="#000" stroke-width="2.5"/>
<text x="711" y="356" font-size="27.2" text-anchor="middle">30</text>
<line x1="760.7" y1="315" x2="760.7" y2="327" stroke="#000" stroke-width="2.5"/>
<text x="760.7" y="356" font-size="27.2" text-anchor="middle">40</text>
<line x1="810.3" y1="315" x2="810.3" y2="327" stroke="#000" stroke-width="2.5"/>
<text x="810.3" y="356" font-size="27.2" text-anchor="middle">50</text>
<line x1="859.9" y1="315" x2="859.9" y2="327" stroke="#000" stroke-width="2.5"/>
<text x="859.9" y="356" font-size="27.2" text-anchor="middle">60</text>
<line x1="909.5" y1="315" x2="909.5" y2="327" stroke="#000" stroke-width="2.5"/>
<text x="909.5" y="356" font-size="27.2" text-anchor="middle">70</text>
<line x1="959.1" y1="315" x2="959.1" y2="327" stroke="#000" stroke-width="2.5"/>
<text x="959.1" y="356" font-size="27.2" text-anchor="middle">80</text>
<path d="M700.7 75 765.5 233.2 819.4 276.8 884.2 287.3 949.5 309.2" fill="none" stroke="#028197" stroke-width="2.4" stroke-linejoin="round"/>
<line x1="700.7" y1="44.6" x2="700.7" y2="105.5" stroke="#028197" stroke-width="2.4"/>
<line x1="688.4" y1="44.6" x2="713" y2="44.6" stroke="#028197" stroke-width="2.4"/>
<line x1="688.4" y1="105.5" x2="713" y2="105.5" stroke="#028197" stroke-width="2.4"/>
<line x1="765.5" y1="194.5" x2="765.5" y2="271.3" stroke="#028197" stroke-width="2.4"/>
<line x1="753.2" y1="194.5" x2="777.8" y2="194.5" stroke="#028197" stroke-width="2.4"/>
<line x1="753.2" y1="271.3" x2="777.8" y2="271.3" stroke="#028197" stroke-width="2.4"/>
<line x1="819.4" y1="253.7" x2="819.4" y2="300.5" stroke="#028197" stroke-width="2.4"/>
<line x1="807.1" y1="253.7" x2="831.7" y2="253.7" stroke="#028197" stroke-width="2.4"/>
<line x1="807.1" y1="300.5" x2="831.7" y2="300.5" stroke="#028197" stroke-width="2.4"/>
<circle cx="700.7" cy="75" r="10.6" fill="#028197"/>
<circle cx="765.5" cy="233.2" r="10.6" fill="#028197"/>
<circle cx="819.4" cy="276.8" r="10.6" fill="#028197"/>
<circle cx="884.2" cy="287.3" r="10.6" fill="#028197"/>
<circle cx="949.5" cy="309.2" r="10.6" fill="#028197"/>
<text x="865.8" y="74.8" font-size="28" font-weight="700" text-anchor="middle">HEK 293 T</text>
<text x="741.2" y="103.2" font-size="45.5" text-anchor="middle" transform="translate(741.2 77.7) skewX(-12) translate(-741.2 -77.7)">*</text>
<text x="622" y="173.6" font-size="28" font-weight="700" text-anchor="middle" transform="rotate(-90 622 173.6)">DI (a.u)</text>
<text x="823.5" y="397" font-size="28" font-weight="700" text-anchor="middle">Time (min)</text>
<rect x="1066.8" y="43" width="273.2" height="271.7" fill="none" stroke="#000" stroke-width="2.5"/>
<line x1="1054.8" y1="112.7" x2="1066.8" y2="112.7" stroke="#000" stroke-width="2.5"/>
<text x="1049.9" y="122.3" font-size="27.2" text-anchor="end">0.2</text>
<line x1="1054.8" y1="213.2" x2="1066.8" y2="213.2" stroke="#000" stroke-width="2.5"/>
<text x="1049.9" y="222.8" font-size="27.2" text-anchor="end">0.1</text>
<line x1="1054.8" y1="314.7" x2="1066.8" y2="314.7" stroke="#000" stroke-width="2.5"/>
<text x="1049.9" y="324.3" font-size="27.2" text-anchor="end">0.0</text>
<line x1="1091.7" y1="314.7" x2="1091.7" y2="326.7" stroke="#000" stroke-width="2.5"/>
<text x="1091.7" y="356" font-size="27.2" text-anchor="middle">30</text>
<line x1="1141.4" y1="314.7" x2="1141.4" y2="326.7" stroke="#000" stroke-width="2.5"/>
<text x="1141.4" y="356" font-size="27.2" text-anchor="middle">40</text>
<line x1="1190.7" y1="314.7" x2="1190.7" y2="326.7" stroke="#000" stroke-width="2.5"/>
<text x="1190.7" y="356" font-size="27.2" text-anchor="middle">50</text>
<line x1="1240.3" y1="314.7" x2="1240.3" y2="326.7" stroke="#000" stroke-width="2.5"/>
<text x="1240.3" y="356" font-size="27.2" text-anchor="middle">60</text>
<line x1="1289.7" y1="314.7" x2="1289.7" y2="326.7" stroke="#000" stroke-width="2.5"/>
<text x="1289.7" y="356" font-size="27.2" text-anchor="middle">70</text>
<line x1="1339.1" y1="314.7" x2="1339.1" y2="326.7" stroke="#000" stroke-width="2.5"/>
<text x="1339.1" y="356" font-size="27.2" text-anchor="middle">80</text>
<path d="M1082.3 103.5 1147.1 240.5 1201.4 266.2 1266 299.7 1330.3 305.7" fill="none" stroke="#028197" stroke-width="2.4" stroke-linejoin="round"/>
<line x1="1082.3" y1="46.2" x2="1082.3" y2="160.1" stroke="#028197" stroke-width="2.4"/>
<line x1="1070" y1="46.2" x2="1094.6" y2="46.2" stroke="#028197" stroke-width="2.4"/>
<line x1="1070" y1="160.1" x2="1094.6" y2="160.1" stroke="#028197" stroke-width="2.4"/>
<line x1="1147.1" y1="219.4" x2="1147.1" y2="261.3" stroke="#028197" stroke-width="2.4"/>
<line x1="1134.8" y1="219.4" x2="1159.4" y2="219.4" stroke="#028197" stroke-width="2.4"/>
<line x1="1134.8" y1="261.3" x2="1159.4" y2="261.3" stroke="#028197" stroke-width="2.4"/>
<circle cx="1082.3" cy="103.5" r="10.6" fill="#028197"/>
<circle cx="1147.1" cy="240.5" r="10.6" fill="#028197"/>
<circle cx="1201.4" cy="266.2" r="10.6" fill="#028197"/>
<circle cx="1266" cy="299.7" r="10.6" fill="#028197"/>
<circle cx="1330.3" cy="305.7" r="10.6" fill="#028197"/>
<text x="1254.2" y="72.9" font-size="28" font-weight="700" text-anchor="middle">Jurkat T</text>
<text x="1112.2" y="129.5" font-size="45.5" text-anchor="middle" transform="translate(1112.2 104) skewX(-12) translate(-1112.2 -104)">*</text>
<text x="995" y="175.2" font-size="28" font-weight="700" text-anchor="middle" transform="rotate(-90 995 175.2)">DI (a.u)</text>
<text x="1203.8" y="399.5" font-size="28" font-weight="700" text-anchor="middle">Time (min)</text>
<rect x="1448.9" y="44.2" width="273.6" height="272.2" fill="none" stroke="#000" stroke-width="2.5"/>
<line x1="1436.9" y1="107.3" x2="1448.9" y2="107.3" stroke="#000" stroke-width="2.5"/>
<text x="1432.2" y="116.9" font-size="27.2" text-anchor="end">0.2</text>
<line x1="1436.9" y1="212.5" x2="1448.9" y2="212.5" stroke="#000" stroke-width="2.5"/>
<text x="1432.2" y="222.1" font-size="27.2" text-anchor="end">0.1</text>
<line x1="1436.9" y1="316.4" x2="1448.9" y2="316.4" stroke="#000" stroke-width="2.5"/>
<text x="1432.2" y="326" font-size="27.2" text-anchor="end">0.0</text>
<line x1="1473.6" y1="316.4" x2="1473.6" y2="328.4" stroke="#000" stroke-width="2.5"/>
<text x="1473.6" y="357" font-size="27.2" text-anchor="middle">30</text>
<line x1="1523.2" y1="316.4" x2="1523.2" y2="328.4" stroke="#000" stroke-width="2.5"/>
<text x="1523.2" y="357" font-size="27.2" text-anchor="middle">40</text>
<line x1="1572.6" y1="316.4" x2="1572.6" y2="328.4" stroke="#000" stroke-width="2.5"/>
<text x="1572.6" y="357" font-size="27.2" text-anchor="middle">50</text>
<line x1="1622.4" y1="316.4" x2="1622.4" y2="328.4" stroke="#000" stroke-width="2.5"/>
<text x="1622.4" y="357" font-size="27.2" text-anchor="middle">60</text>
<line x1="1672.3" y1="316.4" x2="1672.3" y2="328.4" stroke="#000" stroke-width="2.5"/>
<text x="1672.3" y="357" font-size="27.2" text-anchor="middle">70</text>
<line x1="1721.7" y1="316.4" x2="1721.7" y2="328.4" stroke="#000" stroke-width="2.5"/>
<text x="1721.7" y="357" font-size="27.2" text-anchor="middle">80</text>
<path d="M1464.1 102.3 1528.9 244.7 1583.2 269 1647.5 283.3 1712.2 302.7" fill="none" stroke="#028197" stroke-width="2.4" stroke-linejoin="round"/>
<line x1="1464.1" y1="50.4" x2="1464.1" y2="154.6" stroke="#028197" stroke-width="2.4"/>
<line x1="1451.8" y1="50.4" x2="1476.4" y2="50.4" stroke="#028197" stroke-width="2.4"/>
<line x1="1451.8" y1="154.6" x2="1476.4" y2="154.6" stroke="#028197" stroke-width="2.4"/>
<line x1="1528.9" y1="214.5" x2="1528.9" y2="273.8" stroke="#028197" stroke-width="2.4"/>
<line x1="1516.6" y1="214.5" x2="1541.2" y2="214.5" stroke="#028197" stroke-width="2.4"/>
<line x1="1516.6" y1="273.8" x2="1541.2" y2="273.8" stroke="#028197" stroke-width="2.4"/>
<circle cx="1464.1" cy="102.3" r="10.6" fill="#028197"/>
<circle cx="1528.9" cy="244.7" r="10.6" fill="#028197"/>
<circle cx="1583.2" cy="269" r="10.6" fill="#028197"/>
<circle cx="1647.5" cy="283.3" r="10.6" fill="#028197"/>
<circle cx="1712.2" cy="302.7" r="10.6" fill="#028197"/>
<text x="1645.1" y="72.9" font-size="28" font-weight="700" text-anchor="middle">HeLa</text>
<text x="1489.7" y="129.5" font-size="45.5" text-anchor="middle" transform="translate(1489.7 104) skewX(-12) translate(-1489.7 -104)">*</text>
<text x="1381.5" y="176.7" font-size="28" font-weight="700" text-anchor="middle" transform="rotate(-90 1381.5 176.7)">DI (a.u)</text>
<text x="1585.5" y="398.7" font-size="28" font-weight="700" text-anchor="middle">Time (min)</text>
<path d="M325.4 665.7 L325.7 626.7 L327.2 614.6 L328.7 630.8 L330.2 620.4 L331.7 621.2 L333.2 625.6 L334.7 601.2 L336.2 594.8 L337.7 565 L339.2 527.9 L340.3 511.2 L340.7 516.8 L342.2 533.9 L343.7 543.9 L345.2 557.1 L346.7 556.5 L348.2 567.6 L349.7 560.1 L351.2 578.5 L352.7 565.3 L354.2 586.4 L355.7 574.4 L357.2 594.5 L358.7 589.8 L360.2 596.1 L361.7 592.4 L363.2 608.7 L364.7 599.7 L366.2 618.1 L367.7 604.5 L369.2 608.6 L370.7 622.5 L372.2 612.3 L373.7 625.9 L375.2 608.9 L376.7 624.4 L378.2 624.2 L379.7 627.1 L380.7 665.7 Z" fill="url(#gfill)"/>
<line x1="325.4" y1="627" x2="325.4" y2="665.7" stroke="#8f8f8f" stroke-width="1"/>
<line x1="380.7" y1="619.7" x2="380.7" y2="665.7" stroke="#8f8f8f" stroke-width="1"/>
<path d="M112.7 644.3 114.2 655.3 115.7 644.8 117.2 651.8 118.7 657.9 120.2 659.3 121.7 644 123.2 641.5 124.7 654.9 126.2 645.5 127.7 656.6 129.2 645.4 130.7 659.6 132.2 646.7 133.7 651.8 135.2 642.2 136.7 663.3 138.2 641.7 139.7 654.7 141.2 642.9 142.7 646.6 144.2 652.4 145.7 651.9 147.2 656.1 148.7 643.4 150.2 652.4 151.7 647.3 153.2 654 154.7 646.2 156.2 652.2 157.7 647.3 159.2 653.8 160.7 656.2 162.2 646.3 163.7 655.4 165.2 647.8 166.7 658.1 168.2 643.1 169.7 659.2 171.2 645.7 172.7 641.1 174.2 653.3 175.7 646.8 177.2 651.7 178.7 642 180.2 658.8 181.7 653.3 183.2 652.5 184.7 648 186.2 659.3 187.7 644.1 189.2 648.9 190.7 664.5 192.2 644.9 193.7 659.3 195.2 642.6 196.7 656.6 198.2 645.8 199.7 657.9 201.2 641.3 202.7 653.7 204.2 647.8 205.7 657.8 207.2 642.2 208.7 657.3 210.2 648 211.7 652.1 213.2 643 214.7 650.1 216.2 646.3 217.7 655.5 219.2 645.2 220.7 653.4 222.2 640.4 223.7 652.3 225.2 640.6 226.7 657.6 228.2 653.3 229.7 643.9 231.2 651.7 232.7 643.1 234.2 634.3 235.7 653.2 237.2 646 238.7 646.2 240.2 637.5 241.7 641.5 243.2 626 244.7 633.6 246.2 629.6 247.7 626.3 249.2 635.7 250.7 622.2 252.2 639.4 253.7 625 255.2 639.6 256.7 628.7 258.2 644.4 259.7 633.8 261.2 643.8 262.7 629.3 264.2 642.9 265.7 628.4 267.2 636.2 268.7 624.2 270.2 620.9 271.7 628.6 273.2 621.8 274.7 630.7 276.2 614.4 277.7 624.7 279.2 619.3 280.7 627.6 282.2 618.1 283.7 629.7 285.2 604.7 286.7 607.4 288.2 585.3 289.7 585.5 291.2 577 291.7 577 292.7 580.2 294.2 579.4 295.7 607.2 297.2 605.6 298.7 627.5 300.2 618.3 301.7 629.6 303.2 622.8 304.7 635.3 306.2 626.7 307.7 630.8 309.2 623.6 310.7 629.6 312.2 620.5 313.7 632.5 315.2 618.8 316.7 629.3 318.2 622.6 319.7 627.2 321.2 621.7 322.7 629.1 324.2 628.6 325.7 626.7 327.2 614.6 328.7 630.8 330.2 620.4 331.7 621.2 333.2 625.6 334.7 601.2 336.2 594.8 337.7 565 339.2 527.9 340.3 511.2 340.7 516.8 342.2 533.9 343.7 543.9 345.2 557.1 346.7 556.5 348.2 567.6 349.7 560.1 351.2 578.5 352.7 565.3 354.2 586.4 355.7 574.4 357.2 594.5 358.7 589.8 360.2 596.1 361.7 592.4 363.2 608.7 364.7 599.7 366.2 618.1 367.7 604.5 369.2 608.6 370.7 622.5 372.2 612.3 373.7 625.9 375.2 608.9 376.7 624.4 378.2 624.2 379.7 627.1 381.2 616 382.7 620 384.2 613.4 385.7 622.4 387.2 616 388.7 620.6 390.2 622 391.7 611.5 393.2 610.9 394.7 611.9 396.2 629.9 397.7 612 399.2 630.4 400.7 619.5 402.2 625.9 403.7 619.9 405.2 626.8 406.7 617.7 408.2 631.7 409.7 619.6 411.2 630.3 412.7 619.6 414.2 628.9 415.7 620.6 417.2 632 418.7 624.9 420.2 617.4 421.7 625.3 423.2 618.3 424.7 629.1 426.2 617 427.7 622.4 429.2 632 430.7 622.6 432.2 633.7 433.7 623.1 435.2 634.8 436.7 640 438.2 638.6 439.7 630.5 441.2 632.4 442.7 632.1 444.2 638.4 445.7 627.4 447.2 627.1 448.7 642.4 450.2 625.2 451.7 636.5 453.2 628.4 454.7 634.7 456.2 627.4 457.7 634.7 459.2 626.1 460.7 633.3 462.2 622 463.7 633.6 465.2 632.3 466.7 628 468.2 623.6 469.7 612.6 471.2 615.5 472.4 611 472.7 610.4 474.2 620.9 475.7 616.9 477.2 634.7 478.7 622 480.2 637.8 481.7 624.7 483.2 640.1 484.7 631.4 486.2 639 487.7 631.5 489.2 638.8 490.7 644.9 492.2 641 493.7 626.7 495.2 639.1 496.7 649.6 498.2 641.1 499.7 637.2 501.2 653 502.7 637.2 504.2 651.8 505.7 642.2 507.2 655 508.7 642.5 510.2 654.9 511.7 653.8 513.2 642.3 514.7 647.4 516.2 658.3 517.7 641 519.2 653 520.7 659 522.2 649.8 523.7 653.6 525.2 643 526.7 655.5 528.2 643.3 529.7 654.7 531.2 649.7 532.7 655.6 534.2 647.1 535.7 658.8 537.2 647.2 538.7 662.4 540.2 645.1 541.7 659.7 543.2 644.3 544.7 655.4 546.2 648.5 547.7 658.6 549.2 644.9 550.7 657.7 552.2 644.1 553.7 650.3 555.2 654.5 556.7 646 558.2 654.3 559.7 650.4 561.2 657.3 562.7 644.1 564.2 659.1 565.7 645.1 567.2 658.5 568.7 655.7 570.2 650.2 571.7 659.6 573.2 649.7 574.7 657.6 576.2 649.9 577.7 657.3" fill="none" stroke="#0b8d97" stroke-width="2.8" stroke-linejoin="round"/>
<line x1="112.7" y1="509.4" x2="112.7" y2="673.2" stroke="#000" stroke-width="2"/>
<line x1="106.2" y1="665.7" x2="579.2" y2="665.7" stroke="#000" stroke-width="2"/>
<line x1="106.2" y1="510.4" x2="112.7" y2="510.4" stroke="#000" stroke-width="2"/>
<line x1="106.2" y1="588" x2="112.7" y2="588" stroke="#000" stroke-width="2"/>
<line x1="112.7" y1="665.7" x2="112.7" y2="673.2" stroke="#000" stroke-width="2"/>
<text x="112.7" y="708.9" font-size="26.4" text-anchor="middle">1.166</text>
<line x1="229.4" y1="665.7" x2="229.4" y2="673.2" stroke="#000" stroke-width="2"/>
<text x="229.4" y="708.9" font-size="26.4" text-anchor="middle">1.191</text>
<line x1="345.3" y1="665.7" x2="345.3" y2="673.2" stroke="#000" stroke-width="2"/>
<text x="345.3" y="708.9" font-size="26.4" text-anchor="middle">1.216</text>
<line x1="461.7" y1="665.7" x2="461.7" y2="673.2" stroke="#000" stroke-width="2"/>
<text x="461.7" y="708.9" font-size="26.4" text-anchor="middle">1.241</text>
<line x1="578.2" y1="665.7" x2="578.2" y2="673.2" stroke="#000" stroke-width="2"/>
<text x="578.2" y="708.9" font-size="26.4" text-anchor="middle">1.266</text>
<text x="94.7" y="522.5" font-size="26.4" text-anchor="end">385</text>
<text x="94.7" y="600.1" font-size="26.4" text-anchor="end">193</text>
<text x="94.7" y="677.6" font-size="26.4" text-anchor="end">0</text>
<text x="510.3" y="530.6" font-size="26.5" font-weight="700" text-anchor="middle">HEK 293 T</text>
<text x="350.5" y="751.8" font-size="27.3" font-weight="700" text-anchor="middle">Magnetic Field (mT)</text>
<text x="27.6" y="607" font-size="27.3" font-weight="700" text-anchor="middle" transform="rotate(-90 27.6 607)">Signal Intensity (a.u)</text>
<path d="M899.3 665.7 L900.1 625.7 L901.9 618.5 L903.8 607.9 L905.6 582.3 L907.5 549.6 L909.3 527.9 L910.5 509.9 L911.2 515.5 L913 539.8 L914.9 546.2 L916.7 561.2 L918.6 559.2 L920.4 572.6 L922.3 574.1 L924.1 574.6 L926 585.5 L927.8 581.6 L929.7 592.6 L931.5 592.1 L933.4 590.3 L935.2 601.3 L937.1 605.9 L938.9 620.2 L940.8 615.8 L942.6 614.7 L944.5 614.8 L946.3 620.5 L947.9 665.7 Z" fill="url(#gfill)"/>
<line x1="899.3" y1="623.8" x2="899.3" y2="665.7" stroke="#8f8f8f" stroke-width="1"/>
<line x1="947.9" y1="616" x2="947.9" y2="665.7" stroke="#8f8f8f" stroke-width="1"/>
<path d="M683.6 653 685.5 654.7 687.3 659.4 689.2 656.4 691 657 692.9 661.1 694.7 657.1 696.6 661.7 698.4 655.4 700.3 661.1 702.1 656.6 704 661.1 705.8 656 707.7 662.1 709.5 659.1 711.4 653.9 713.2 659.7 715.1 652.7 716.9 658.2 718.8 652.3 720.6 662.1 722.5 655.3 724.3 652.3 726.2 660.3 728 650.8 729.9 660.2 731.7 653.2 733.6 652.6 735.4 660.6 737.3 658.3 739.1 650.2 741 659.8 742.8 649.4 744.7 658.3 746.5 649.3 748.4 655.9 750.2 650.3 752.1 654.5 753.9 649.8 755.8 658.4 757.6 649.5 759.5 655.5 761.3 651.8 763.2 653.4 765 648 766.9 654.6 768.7 648.8 770.6 655 772.4 646.5 774.3 656.4 776.1 647.4 778 653.4 779.8 645.7 781.7 653.7 783.5 647.6 785.4 651.8 787.2 645.9 789.1 647.7 790.9 653.3 792.8 645.6 794.6 656.3 796.5 648.3 798.3 645.3 800.2 652.5 802 649 803.9 651.3 805.7 647.4 807.6 650.9 809.4 645.5 811.3 654.2 813.1 643.8 815 635.3 816.8 639.8 818.7 630.2 820.5 638.1 822.4 632.7 824.2 641 826.1 631.6 827.9 634.8 829.8 641.9 831.6 639.1 833.5 646 835.3 639.6 837.2 642.7 839 634.9 840.9 640.6 842.7 630.3 844.6 636.7 846.4 630 848.3 630.4 850.1 634 852 626.3 853.8 628.1 855.7 622.9 857.5 612.6 859.4 604.3 861.2 586.5 863.1 579.3 863.1 578.5 864.9 585.1 866.8 604.5 868.6 613.7 870.5 633.1 872.3 628.3 874.2 628.9 876 628.4 877.9 627.6 879.7 634.9 881.6 627.1 883.4 635.1 885.3 625.3 887.1 630.5 889 632.5 890.8 627.5 892.7 631 894.5 623.3 896.4 628.9 898.2 621 900.1 625.7 901.9 618.5 903.8 607.9 905.6 582.3 907.5 549.6 909.3 527.9 910.5 509.9 911.2 515.5 913 539.8 914.9 546.2 916.7 561.2 918.6 559.2 920.4 572.6 922.3 574.1 924.1 574.6 926 585.5 927.8 581.6 929.7 592.6 931.5 592.1 933.4 590.3 935.2 601.3 937.1 605.9 938.9 620.2 940.8 615.8 942.6 614.7 944.5 614.8 946.3 620.5 948.2 615.3 950 622.5 951.9 620.5 953.7 613.5 955.6 622.9 957.4 615.3 959.3 622.2 961.1 622.6 963 623.7 964.8 616.5 966.7 623.4 968.5 620.1 970.4 627.2 972.2 626.2 974.1 617.7 975.9 628.8 977.8 628.4 979.6 623 981.5 634.2 983.3 625.4 985.2 627.9 987 626.5 988.9 629.1 990.7 623.4 992.6 630 994.4 620.5 996.3 626.1 998.1 619.3 1000 631.1 1001.8 628.2 1003.7 636.7 1005.5 631.5 1007.4 637.3 1009.2 632.9 1011.1 641.4 1012.9 636.1 1014.8 633.8 1016.6 638.1 1018.5 635.9 1020.3 640.8 1022.2 633.4 1024 636.3 1025.9 634.9 1027.7 631.9 1029.6 638.7 1031.4 624.7 1033.3 633.3 1035.1 629.7 1037 634.7 1038.8 630.6 1040.7 625.6 1042.5 627.9 1044.4 620.1 1046.2 624.4 1048.1 637.2 1049.9 638.6 1051.8 637.8 1053.6 644.4 1055.5 638.6 1057.3 646 1059.2 642.6 1061 652 1062.9 648.3 1064.7 651.9 1066.6 648.2 1068.4 653.9 1070.3 651.1 1072.1 652.3 1074 652 1075.8 649.9 1077.7 650.4 1079.5 656.5 1081.4 654 1083.2 660.9 1085.1 661.2 1086.9 650.8 1088.8 657 1090.6 654.7 1092.5 659.4 1094.3 653.3 1096.2 661.4 1098 654.1 1099.9 654.1 1101.7 662.1 1103.6 652.2 1105.4 659.4 1107.2 660.6 1109.1 653.5 1110.9 656.5 1112.8 659.8 1114.6 655.8 1116.5 659.6 1118.3 655.3 1120.2 658.8 1122 655.4 1123.9 659.1 1125.7 654.2 1127.6 659.2 1129.4 653.3 1131.3 663.4 1133.1 659 1135 662.2 1136.8 652.1 1138.7 663.6 1140.5 652.9 1142.4 660.4 1144.2 653.8 1146.1 655.5 1147.9 659.4" fill="none" stroke="#0b8d97" stroke-width="2.6" stroke-linejoin="round"/>
<line x1="683.6" y1="508.9" x2="683.6" y2="673.2" stroke="#000" stroke-width="2"/>
<line x1="677.1" y1="665.7" x2="1150.6" y2="665.7" stroke="#000" stroke-width="2"/>
<line x1="677.1" y1="509.9" x2="683.6" y2="509.9" stroke="#000" stroke-width="2"/>
<line x1="677.1" y1="587.7" x2="683.6" y2="587.7" stroke="#000" stroke-width="2"/>
<line x1="683.6" y1="665.7" x2="683.6" y2="673.2" stroke="#000" stroke-width="2"/>
<text x="683.6" y="708.9" font-size="26.4" text-anchor="middle">1.166</text>
<line x1="800.1" y1="665.7" x2="800.1" y2="673.2" stroke="#000" stroke-width="2"/>
<text x="800.1" y="708.9" font-size="26.4" text-anchor="middle">1.191</text>
<line x1="916" y1="665.7" x2="916" y2="673.2" stroke="#000" stroke-width="2"/>
<text x="916" y="708.9" font-size="26.4" text-anchor="middle">1.216</text>
<line x1="1033" y1="665.7" x2="1033" y2="673.2" stroke="#000" stroke-width="2"/>
<text x="1033" y="708.9" font-size="26.4" text-anchor="middle">1.241</text>
<line x1="1149.6" y1="665.7" x2="1149.6" y2="673.2" stroke="#000" stroke-width="2"/>
<text x="1149.6" y="708.9" font-size="26.4" text-anchor="middle">1.266</text>
<text x="665.5" y="522" font-size="26.4" text-anchor="end">370</text>
<text x="665.5" y="599.8" font-size="26.4" text-anchor="end">185</text>
<text x="665.5" y="677.6" font-size="26.4" text-anchor="end">0</text>
<text x="1096" y="531.1" font-size="26.5" font-weight="700" text-anchor="middle">Jurkat T</text>
<text x="922.3" y="751.8" font-size="27.3" font-weight="700" text-anchor="middle">Magnetic Field (mT)</text>
<path d="M1400.5 670 L1400.5 662 L1402.3 658.6 L1404.1 662.2 L1405.9 659.7 L1407.7 660 L1409.5 655.9 L1411.3 657.8 L1413.1 657.4 L1414.9 654 L1416.7 658.6 L1418.5 653.7 L1420.3 657.7 L1422.1 652.4 L1423.9 654.1 L1425.7 650.6 L1427.5 655 L1429.3 650.2 L1431.1 648 L1432.9 652.7 L1434.7 646.9 L1436.5 648.3 L1438.3 644.3 L1440.1 644.8 L1441.9 642.9 L1443.7 641.9 L1445.5 637.6 L1447.3 630.5 L1449.1 629.3 L1449.7 628.3 L1450.9 628.8 L1452.7 636.5 L1454.5 637.7 L1456.3 642.9 L1458.1 650.1 L1459.9 648.4 L1461.7 652.3 L1463.5 647.8 L1465.3 650.3 L1467.1 645.8 L1468.9 646.4 L1470.7 641.6 L1472.5 639.3 L1474.3 641.3 L1476.1 633.6 L1477.9 638.7 L1479.7 644.9 L1481.5 639.6 L1483.3 643.9 L1485.1 646 L1486.9 645.8 L1488.7 650.4 L1490.5 629.5 L1492.3 594.8 L1494.1 556.9 L1495.9 532.5 L1497.7 515.2 L1497.8 514.9 L1499.5 530.5 L1501.3 545.6 L1503.1 560 L1504.9 550.9 L1506.5 548.6 L1506.7 549.2 L1508.5 558 L1510.3 569.8 L1512.1 574.2 L1513.9 587.6 L1515.7 593.2 L1517.5 607 L1519.3 612.2 L1521.1 613.3 L1522.9 613.9 L1524.7 623.5 L1526.5 624.2 L1528.3 634 L1530.1 634.6 L1531.9 643.3 L1533.7 640.9 L1535.5 645.4 L1537.3 643.8 L1539.1 643.4 L1540.9 648.8 L1542.7 645.1 L1544.5 648.2 L1546.3 646.4 L1548.1 640.8 L1549.9 643.7 L1551.7 639.5 L1553.5 645.1 L1555.3 637.3 L1557.1 642.5 L1558.9 638.6 L1560.7 643.1 L1562.5 639.8 L1564.3 641.9 L1566.1 640.5 L1567.9 642.7 L1569.7 640.4 L1571.5 645.3 L1573.3 640.4 L1575.1 647.8 L1576.9 646.2 L1578.7 642.9 L1580.5 647.6 L1582.3 643.1 L1584.1 645 L1585.9 646.9 L1587.7 643.9 L1589.5 645.2 L1591.3 651 L1593.1 654.6 L1594.9 648.6 L1596.7 653.8 L1598.5 654.5 L1600.3 647.1 L1602.1 649.3 L1603.9 652.5 L1605.7 649.1 L1607.5 651.7 L1609.3 647.8 L1611.1 648 L1612.9 649.9 L1614.7 646.6 L1616.5 648.8 L1618.3 646.8 L1620.1 647.5 L1621.9 650.6 L1623.7 649 L1625.5 650.6 L1627.3 648.5 L1629.1 652.2 L1630.9 648.8 L1632.7 651.1 L1634.5 655.4 L1636.3 651.3 L1638.1 653.5 L1639.9 658.1 L1641.7 656.1 L1643.5 660.1 L1645.3 662.1 L1647.1 659 L1648.9 662.8 L1650.7 659.2 L1652.5 657.7 L1654.3 660.2 L1656.1 664.6 L1657.9 658.3 L1659.7 664.8 L1659.7 670 Z" fill="url(#gfaint)"/>
<path d="M1489 670 L1490.5 629.5 L1492.3 594.8 L1494.1 556.9 L1495.9 532.5 L1497.7 515.2 L1497.8 514.9 L1499.5 530.5 L1501.3 545.6 L1503.1 560 L1504.9 550.9 L1506.5 548.6 L1506.7 549.2 L1508.5 558 L1510.3 569.8 L1512.1 574.2 L1513.9 587.6 L1515.7 593.2 L1517.5 607 L1519.3 612.2 L1521.1 613.3 L1522.9 613.9 L1524.7 623.5 L1526.5 624.2 L1528.3 634 L1530.1 634.6 L1531.9 643.3 L1533.7 640.9 L1535.5 645.4 L1537.3 643.8 L1539.1 643.4 L1539.9 670 Z" fill="url(#gfill3)"/>
<line x1="1489" y1="646.9" x2="1489" y2="670" stroke="#8f8f8f" stroke-width="1"/>
<line x1="1539.9" y1="645.8" x2="1539.9" y2="670" stroke="#8f8f8f" stroke-width="1"/>
<path d="M1265.5 664.3 1267.3 668.1 1269.1 663.1 1270.9 661.9 1272.7 666.2 1274.5 660.7 1276.3 665 1278.1 662.5 1279.9 666.3 1281.7 663.4 1283.5 666.7 1285.3 660.2 1287.1 664 1288.9 666.8 1290.7 662.2 1292.5 665.3 1294.3 661.7 1296.1 664.1 1297.9 664.7 1299.7 665.3 1301.5 660.1 1303.3 663.1 1305.1 661.1 1306.9 664.6 1308.7 661 1310.5 664.1 1312.3 663.2 1314.1 664.7 1315.9 660.6 1317.7 658.3 1319.5 664.1 1321.3 655.6 1323.1 663.8 1324.9 658.8 1326.7 664.5 1328.5 659.2 1330.3 663.7 1332.1 657.9 1333.9 663.3 1335.7 658.8 1337.5 663.7 1339.3 661 1341.1 658.6 1342.9 662.3 1344.7 664.4 1346.5 660.7 1348.3 662.4 1350.1 661.1 1351.9 658.2 1353.7 659 1355.5 665 1357.3 658.4 1359.1 666.4 1360.9 659 1362.7 664.6 1364.5 659.7 1366.3 660.3 1368.1 663.3 1369.9 659.7 1371.7 663.4 1373.5 665.2 1375.3 659.6 1377.1 663.5 1378.9 661.5 1380.7 664 1382.5 659.7 1384.3 665.3 1386.1 660.6 1387.9 665.3 1389.7 658.8 1391.5 664.2 1393.3 659.7 1395.1 662 1396.9 659.6 1398.7 663.1 1400.5 662 1402.3 658.6 1404.1 662.2 1405.9 659.7 1407.7 660 1409.5 655.9 1411.3 657.8 1413.1 657.4 1414.9 654 1416.7 658.6 1418.5 653.7 1420.3 657.7 1422.1 652.4 1423.9 654.1 1425.7 650.6 1427.5 655 1429.3 650.2 1431.1 648 1432.9 652.7 1434.7 646.9 1436.5 648.3 1438.3 644.3 1440.1 644.8 1441.9 642.9 1443.7 641.9 1445.5 637.6 1447.3 630.5 1449.1 629.3 1449.7 628.3 1450.9 628.8 1452.7 636.5 1454.5 637.7 1456.3 642.9 1458.1 650.1 1459.9 648.4 1461.7 652.3 1463.5 647.8 1465.3 650.3 1467.1 645.8 1468.9 646.4 1470.7 641.6 1472.5 639.3 1474.3 641.3 1476.1 633.6 1477.9 638.7 1479.7 644.9 1481.5 639.6 1483.3 643.9 1485.1 646 1486.9 645.8 1488.7 650.4 1490.5 629.5 1492.3 594.8 1494.1 556.9 1495.9 532.5 1497.7 515.2 1497.8 514.9 1499.5 530.5 1501.3 545.6 1503.1 560 1504.9 550.9 1506.5 548.6 1506.7 549.2 1508.5 558 1510.3 569.8 1512.1 574.2 1513.9 587.6 1515.7 593.2 1517.5 607 1519.3 612.2 1521.1 613.3 1522.9 613.9 1524.7 623.5 1526.5 624.2 1528.3 634 1530.1 634.6 1531.9 643.3 1533.7 640.9 1535.5 645.4 1537.3 643.8 1539.1 643.4 1540.9 648.8 1542.7 645.1 1544.5 648.2 1546.3 646.4 1548.1 640.8 1549.9 643.7 1551.7 639.5 1553.5 645.1 1555.3 637.3 1557.1 642.5 1558.9 638.6 1560.7 643.1 1562.5 639.8 1564.3 641.9 1566.1 640.5 1567.9 642.7 1569.7 640.4 1571.5 645.3 1573.3 640.4 1575.1 647.8 1576.9 646.2 1578.7 642.9 1580.5 647.6 1582.3 643.1 1584.1 645 1585.9 646.9 1587.7 643.9 1589.5 645.2 1591.3 651 1593.1 654.6 1594.9 648.6 1596.7 653.8 1598.5 654.5 1600.3 647.1 1602.1 649.3 1603.9 652.5 1605.7 649.1 1607.5 651.7 1609.3 647.8 1611.1 648 1612.9 649.9 1614.7 646.6 1616.5 648.8 1618.3 646.8 1620.1 647.5 1621.9 650.6 1623.7 649 1625.5 650.6 1627.3 648.5 1629.1 652.2 1630.9 648.8 1632.7 651.1 1634.5 655.4 1636.3 651.3 1638.1 653.5 1639.9 658.1 1641.7 656.1 1643.5 660.1 1645.3 662.1 1647.1 659 1648.9 662.8 1650.7 659.2 1652.5 657.7 1654.3 660.2 1656.1 664.6 1657.9 658.3 1659.7 664.8 1661.5 661.5 1663.3 663.6 1665.1 661.3 1666.9 661.9 1668.7 664.8 1670.5 659.4 1672.3 664 1674.1 661.7 1675.9 665.6 1677.7 659.8 1679.5 664.3 1681.3 661.8 1683.1 666.8 1684.9 662.6 1686.7 664.3 1688.5 661.1 1690.3 667.1 1692.1 660 1693.9 666.7 1695.7 659.9 1697.5 666.4 1699.3 660.4 1701.1 666.9 1702.9 663.1 1704.7 661.7 1706.5 666.9 1708.3 667.7 1710.1 663.1 1711.9 666.2 1713.7 662.1 1715.5 666.8 1717.3 662.4 1719.1 667.7 1720.9 663.2 1722.7 668 1724.5 665.3 1726.3 661 1728.1 665.6" fill="none" stroke="#0b8d97" stroke-width="2.45" stroke-linejoin="round"/>
<line x1="1265.5" y1="513.9" x2="1265.5" y2="677.5" stroke="#000" stroke-width="2"/>
<line x1="1259" y1="670" x2="1729.4" y2="670" stroke="#000" stroke-width="2"/>
<line x1="1259" y1="514.9" x2="1265.5" y2="514.9" stroke="#000" stroke-width="2"/>
<line x1="1259" y1="592.2" x2="1265.5" y2="592.2" stroke="#000" stroke-width="2"/>
<line x1="1265.5" y1="670" x2="1265.5" y2="677.5" stroke="#000" stroke-width="2"/>
<text x="1265.5" y="713.1" font-size="26.4" text-anchor="middle">1.160</text>
<line x1="1381.3" y1="670" x2="1381.3" y2="677.5" stroke="#000" stroke-width="2"/>
<text x="1381.3" y="713.1" font-size="26.4" text-anchor="middle">1.185</text>
<line x1="1497.1" y1="670" x2="1497.1" y2="677.5" stroke="#000" stroke-width="2"/>
<text x="1497.1" y="713.1" font-size="26.4" text-anchor="middle">1.210</text>
<line x1="1613.1" y1="670" x2="1613.1" y2="677.5" stroke="#000" stroke-width="2"/>
<text x="1613.1" y="713.1" font-size="26.4" text-anchor="middle">1.235</text>
<line x1="1728.6" y1="670" x2="1728.6" y2="677.5" stroke="#000" stroke-width="2"/>
<text x="1728.6" y="713.1" font-size="26.4" text-anchor="middle">1.260</text>
<text x="1245.6" y="526.1" font-size="26.4" text-anchor="end">874</text>
<text x="1245.6" y="603.6" font-size="26.4" text-anchor="end">437</text>
<text x="1245.6" y="681.5" font-size="26.4" text-anchor="end">0</text>
<text x="1680.9" y="532.8" font-size="26.5" font-weight="700" text-anchor="middle">HeLa</text>
<text x="1502.9" y="753" font-size="27.3" font-weight="700" text-anchor="middle">Magnetic Field (mT)</text>
<clipPath id="clip101"><rect x="111.8" y="870.4" width="466.5" height="157.8"/></clipPath>
<path d="M113 888.1 114.8 910.9 116.5 906 118.2 882.8 120 900.9 121.8 893.2 123.5 908.2 125.2 905.5 127 886.1 128.8 894.5 130.5 874.9 132.2 896.3 134 871.1 135.8 898.5 137.5 879.3 139.2 876.2 141 869.7 142.8 893.5 144.5 873.6 146.2 858.9 148 905.8 149.8 879.2 151.5 885.3 153.2 893.5 155 876.3 156.8 901.6 158.5 906.5 160.2 894.2 162 891.7 163.8 906 165.5 895.6 167.2 900.6 169 920.5 170.8 921.9 172.5 903.1 174.2 917.3 176 933.7 177.8 899 179.5 928.4 181.2 911.2 183 901.3 184.8 930.4 186.5 907.4 188.2 923.9 190 912.4 191.8 931.3 193.5 910.4 195.2 929.5 197 904.8 198.8 928.3 200.5 906.4 202.2 930.3 204 903.5 205.8 920.1 207.5 907.7 209.2 929.5 211 908.5 212.8 925.6 214.5 908.1 216.2 928.2 218 932.8 219.8 908.5 221.5 923.7 223.2 909 225 932.4 226.8 917.9 228.5 930.2 230.2 902.8 232 926.7 233.8 924.9 235.5 916.7 237.2 928.6 239 895.7 240.8 923.5 242.5 931 244.2 927.8 246 911.2 247.8 930.2 249.5 906.5 251.2 906.9 253 931.4 254.8 893.5 256.5 906.1 258.2 904.8 260 922.3 261.8 899.3 263.5 928.3 265.2 898.4 267 919.2 268.8 906.7 270.5 900.3 272.2 921.2 274 916 275.8 896.9 277.5 915.4 279.2 904 281 926 282.8 930 284.5 913.5 286.2 929.6 288 906 289.8 929.2 291.5 906.3 293.2 928 295 909.8 296.8 926.7 298.5 915 300.2 921.4 302 911.1 303.8 932.7 305.5 909 307.2 921.6 309 915.2 310.8 930 312.5 929.1 314.2 899.7 316 922.8 317.8 907 319.5 933.2 321.2 911.9 323 921.7 324.8 915.8 326.5 932.2 328.2 928.2 330 912.6 331.8 923.7 333.5 932 335.2 912.7 337 931.5 338.8 913.1 340.5 928.2 342.2 932.7 344 931.7 345.8 930.3 347.5 911.9 349.2 921.7 351 923.1 352.8 914.4 354.5 929.5 356.2 928.6 358 911.8 359.8 924.6 361.5 906.7 363.2 931.1 365 908.5 366.8 923 368.5 916.6 370.2 938.5 372 905.4 373.8 927.8 375.5 923.9 377.2 906.6 379 926.2 380.8 916.3 382.5 907.1 384.2 933 386 907.5 387.8 927.9 389.5 918.4 391.2 917.4 393 937.3 394.8 914 396.5 933.6 396.8 905 397.1 943" fill="none" stroke="#03828f" stroke-width="3.0" stroke-linejoin="round" clip-path="url(#clip101)"/>
<path d="M113 977.7 114.6 964.4 116.2 951.5 117.8 948.7 119.4 940.9 121 933.8 122.6 934.7 124.2 927 125.8 927.8 127.4 919.4 129 918 130.6 912.7 132.2 904.9 133.8 907.3 135.4 899.1 137 897 138.6 888.6 140.2 886.9 141.8 883.4 142.6 881.1 143.4 883.5 145 886.5 146.6 889.2 148.2 893 149.8 899.9 151.4 900.1 153 906.5 154.6 904.4 156.2 917.5 157.8 914.1 159.4 920.9 161 924.1 162.6 933.6 164.2 932.9 165.8 940.4 167.4 936.5 169 943.5 170.6 950.7 172.2 949.5 173.8 954.5 175.4 953.1 177 960.8 178.6 960.8 180.2 966.8 181.8 973.8 183.4 977.8 185 975.4 186.6 983.2 188.2 979.3 189.8 979.6 191.4 983.6 193 980.5 194.6 988.2 196.2 986.9 197.8 985.6 199.4 990.9 201 984.5 202.6 987.4 204.2 992.1 205.8 992 207.4 992.2 209 992.7 210.6 990.2 212.2 994.3 213.8 990.2 215.4 992.9 217 992.4 218.6 987.1 220.2 990 221.8 987.7 223.4 988.6 225 982.7 226.6 989.7 228.2 987.7 229.8 993.5 231.4 986.6 233 993 234.6 989.1 236.2 987.3 237.8 987.9 239.4 983.2 241 984.6 242.6 984.9 244.2 992.9 245.8 986.5 247.4 987.4 249 985.9 250.6 986.5 252.2 983 253.8 986.2 255.4 986.3 257 988.5 258.6 981.4 260.2 986 261.8 987.6 263.4 980.7 265 985.9 266.6 980.2 268.2 990.3 269.8 982.9 271.4 985.1 273 984.9 274.6 981.7 276.2 987.1 277.8 983.6 279.4 984.6 281 982.8 282.6 985.2 284.2 987.7 285.8 982.4 287.4 980.2 289 988.5 290.6 984.7 292.2 985.2 293.8 987.8 295.4 986.9 297 988.5 298.6 983 300.2 991.5 301.8 992.1 303.4 990.5 305 993.8 306.6 991.6 308.2 987.1 309.8 991 311.4 985.2 313 996.3 314.6 991 316.2 991.5 317.8 990.7 319.4 992.1 321 992.4 322.6 992.7 324.2 987.4 325.8 998.2 327.4 996.3 329 990.3 330.6 988.3 332.2 996.9 333.8 995.2 335.4 992.6 337 999.5 338.6 990.3 340.2 993 341.8 995.1 343.4 994.6 345 997.9 346.6 1000.8 348.2 996 349.8 995.9 351.4 992.7 353 994.6 354.6 998.2 356.2 992.9 357.8 997.2 359.4 1002 361 994.7 362.6 1003.5 364.2 994.8 365.8 998.7 367.4 996.7 369 998.7 370.6 1001.3 372.2 999.1 373.8 1004.6 375.4 998 377 1000.2 378.6 1002.2 380.2 1000.1 381.8 998.6 383.4 1000.4 385 1001.6 386.6 1000.1 388.2 1000.5 389.8 1003.3 391.4 1001.3 393 1001.1 394.6 1000.7 396.2 1006 397.8 1005.7 399.4 997.8 401 1002.5 402.6 998.8 404.2 1004.1 405.8 1002.8 407.4 996.8 409 997.6 410.6 1002.7 412.2 1004.2 413.8 998.5 415.4 1001.9 417 1003.8 418.6 1004.8 420.2 999.2 421.8 1004 423.4 1004.3 425 1003.2 426.6 1006.9 428.2 1001.7 429.8 1000.1 431.4 1009.1 433 1005 434.6 1004.4 436.2 1005.9 437.8 1001.4 439.4 1007.5 441 1010.1 442.6 1007.9 444.2 1003.9 445.8 1002 447.4 1008 449 1003.9 450.6 1004.6 452.2 1011.2 453.8 1005.4 455.4 1007.7 457 1006.4 458.6 1007.5 460.2 1003.9 461.8 1003 463.4 1009.2 465 1006.5 466.6 1009.1 468.2 1009.1 469.8 1008.1 471.4 1010 473 1006.2 474.6 1011.5 476.2 1009.5 477.8 1010.1 479.4 1006.2 481 1009.7 482.6 1005.1 484.2 1010.9 485.8 1010.9 487.4 1010.9 489 1013.4 490.6 1013.9 492.2 1012.8 493.8 1016.3 495.4 1009.3 497 1013.9 498.6 1012.4 500.2 1016.8 501.8 1013.7 503.4 1015.2 505 1015.6 506.6 1015.9 508.2 1017.7 509.8 1009.1 511.4 1019.5 513 1014.2 514.6 1020.6 516.2 1018.9 517.8 1013.3 519.4 1016.5 521 1012.9 522.6 1011 524.2 1016.8 525.8 1017.2 527.4 1014 529 1022.2 530.6 1018.1 532.2 1019.2 533.8 1017.4 535.4 1021.1 537 1014.5 538.6 1021 540.2 1017.6 541.8 1022.6 543.4 1017.2 545 1018.2 546.6 1020.7 548.2 1022.2 549.8 1018.1 551.4 1016.4 553 1024 554.6 1022.7 556.2 1020.7 557.8 1020 559.4 1025.4 561 1021 562.6 1019.1 564.2 1027.5 565.8 1022.7 567.4 1023.1 569 1027.5 570.6 1020.7 572.2 1025.3 573.8 1018.5 575.4 1010.3" fill="none" stroke="#06067a" stroke-width="3.2" stroke-linejoin="round" clip-path="url(#clip101)"/>
<rect x="111.8" y="872.4" width="465.5" height="155.8" fill="none" stroke="#000" stroke-width="2.4"/>
<text x="112.8" y="1066.1" font-size="27.2" text-anchor="middle">-0.2</text>
<line x1="204.4" y1="1020.2" x2="204.4" y2="1028.2" stroke="#000" stroke-width="2"/>
<text x="204.4" y="1066.1" font-size="27.2" text-anchor="middle">0.3</text>
<line x1="297.9" y1="1020.2" x2="297.9" y2="1028.2" stroke="#000" stroke-width="2"/>
<text x="297.9" y="1066.1" font-size="27.2" text-anchor="middle">0.9</text>
<line x1="391" y1="1020.2" x2="391" y2="1028.2" stroke="#000" stroke-width="2"/>
<text x="391" y="1066.1" font-size="27.2" text-anchor="middle">1.4</text>
<line x1="484.2" y1="1020.2" x2="484.2" y2="1028.2" stroke="#000" stroke-width="2"/>
<text x="484.2" y="1066.1" font-size="27.2" text-anchor="middle">1.9</text>
<text x="577.4" y="1066.1" font-size="27.2" text-anchor="middle">2.4</text>
<line x1="111.8" y1="950.3" x2="117.3" y2="950.3" stroke="#000" stroke-width="1.6"/>
<text x="99.3" y="884.9" font-size="27.2" text-anchor="end">1.0</text>
<text x="99.3" y="962.2" font-size="27.2" text-anchor="end">0.9</text>
<text x="99.3" y="1039.5" font-size="27.2" text-anchor="end">0.8</text>
<text x="500.6" y="902.8" font-size="27.6" font-weight="700" text-anchor="middle">HEK 293 T</text>
<text x="355.9" y="1106.8" font-size="27.6" font-weight="700" text-anchor="middle">Time (µs)</text>
<text x="31.5" y="952.8" font-size="27.6" font-weight="700" text-anchor="middle" transform="rotate(-90 31.5 952.8)">V(t)/V(0)</text>
<clipPath id="clip102"><rect x="688.6" y="873.4" width="462.1" height="156.9"/></clipPath>
<path d="M691 894.9 692.7 902.2 694.4 893.4 696.1 902.3 697.8 894.1 699.5 899.7 701.2 893.2 702.9 902.5 704.6 901 706.3 891 708 894.6 709.7 887.7 711.4 897.5 713.1 882.4 714.8 901.2 716.5 880.9 718.2 888 719.9 885.3 721.6 890.2 723.3 890.9 725 888 726.7 886.7 728.4 894.7 730.1 890.7 731.8 889.5 733.5 903.6 735.2 888.2 736.9 901.6 738.6 893.2 740.3 903.3 742 897.2 743.7 904.8 745.4 907.8 747.1 898.7 748.8 908.3 750.5 902.1 752.2 908.1 753.9 898.9 755.6 914.8 757.3 900.7 759 911.2 760.7 901.4 762.4 908.7 764.1 904.9 765.8 915.1 767.5 909.3 769.2 902.7 770.9 911.8 772.6 910.7 774.3 901.2 776 908.5 777.7 902.3 779.4 913.2 781.1 905.2 782.8 914.8 784.5 900.3 786.2 898.3 787.9 913.6 789.6 900 791.3 915.1 793 904.9 794.7 915 796.4 905.3 798.1 912.3 799.8 908.6 801.5 915 803.2 899.8 804.9 899.5 806.6 910.7 808.3 907.6 810 911.1 811.7 904 813.4 908.7 815.1 897.9 816.8 902.6 818.5 913.1 820.2 902.6 821.9 910 823.6 899.9 825.3 913.3 827 897.4 828.7 909.9 830.4 912.9 832.1 904.4 833.8 900.8 835.5 911.4 837.2 901.4 838.9 908.2 840.6 907.8 842.3 914.2 844 899.4 845.7 910.4 847.4 899 849.1 911.6 850.8 899.3 852.5 912.3 854.2 915 855.9 904.2 857.6 897.9 859.3 918 861 907 862.7 913.5 864.4 903 866.1 908.4 867.8 900.5 869.5 910.8 871.2 914 872.9 898.8 874.6 913.4 876.3 911.7 878 901 879.7 910.7 881.4 904 883.1 913.7 884.8 904.2 886.5 912.1 888.2 904.6 889.9 914.3 891.6 904.3 893.3 911.2 895 899.3 896.7 915.1 898.4 898.7 900.1 907.9 901.8 912.2 903.5 911.5 905.2 899.6 906.9 912.9 908.6 904.7 910.3 909.2 912 899.3 913.7 908.8 915.4 899.8 917.1 915.7 918.8 902.3 920.5 908.4 922.2 906 923.9 911.3 925.6 915 927.3 905.5 929 914.1 930.7 900.1 932.4 908.7 934.1 901.5 935.8 906 937.5 916.6 939.2 905.1 940.9 913.3 942.6 899.7 944.3 901.8 946 909.7 947.7 903.9 949.4 908.2 951.1 912.8 952.8 903.2 954.5 916.5 956.2 917.9 957.9 908 959.6 914.4 961.3 904.7 963 916.5 964.7 908.1 966.4 916 968.1 908.6 969.8 914.9 971.5 903 973.2 914.1 973.5 902 973.8 923" fill="none" stroke="#03828f" stroke-width="2.7" stroke-linejoin="round" clip-path="url(#clip102)"/>
<path d="M689.9 982 691.5 963.4 693.1 953.6 694.7 951.1 696.3 946.2 697.9 938.1 699.5 938.7 701.1 930.5 702.7 922.5 704.3 924.3 705.9 915.8 707.5 911 709.1 905.8 710.7 906.5 712.3 899.5 713.9 893.3 715.5 894 717.1 889.7 717.8 888.6 718.7 890.2 720.3 895.2 721.9 894.5 723.5 900.9 725.1 898.7 726.7 909.8 728.3 905.7 729.9 917.3 731.5 915.8 733.1 926.1 734.7 921.8 736.3 932.6 737.9 932.9 739.5 943.9 741.1 942.2 742.7 941.5 744.3 950.5 745.9 955.9 747.5 956.1 749.1 962.8 750.7 964.6 752.3 968.1 753.9 969.9 755.5 972.8 757.1 976 758.7 979.7 760.3 979.9 761.9 983 763.5 982.1 765.1 985.9 766.7 992.6 768.3 985.3 769.9 991 771.5 991.9 773.1 991.4 774.7 998.5 776.3 992.1 777.9 993.6 779.5 992.2 781.1 1000.4 782.7 990.3 784.3 996.8 785.9 994.4 787.5 997.9 789.1 994.2 790.7 988.6 792.3 992.2 793.9 994.8 795.5 987.6 797.1 992.8 798.7 991 800.3 991.9 801.9 989.6 803.5 989.5 805.1 992.8 806.7 990.9 808.3 994.2 809.9 990.4 811.5 992.1 813.1 988.3 814.7 984.8 816.3 992.5 817.9 987.4 819.5 986.3 821.1 985.7 822.7 989.4 824.3 989 825.9 994.5 827.5 993.4 829.1 989.5 830.7 987.7 832.3 988.9 833.9 988 835.5 985.3 837.1 989.8 838.7 988 840.3 985 841.9 987.9 843.5 982.1 845.1 993.5 846.7 982.2 848.3 986.1 849.9 988.6 851.5 986.1 853.1 991.4 854.7 986.9 856.3 991.2 857.9 983.2 859.5 992.1 861.1 984.9 862.7 987.6 864.3 992.4 865.9 987.8 867.5 993.7 869.1 988.9 870.7 989.6 872.3 985.4 873.9 992.8 875.5 984.6 877.1 995.5 878.7 990.4 880.3 991.5 881.9 987.6 883.5 990.1 885.1 992.9 886.7 994.5 888.3 993 889.9 996.3 891.5 997.5 893.1 995.5 894.7 989.9 896.3 997.9 897.9 995.6 899.5 993.4 901.1 998.7 902.7 996.8 904.3 995.2 905.9 996.5 907.5 998.3 909.1 999.2 910.7 997.2 912.3 998.5 913.9 993.5 915.5 1001.5 917.1 996 918.7 999.8 920.3 1001.8 921.9 999.1 923.5 1000.1 925.1 999.2 926.7 997.9 928.3 1004.9 929.9 1004.6 931.5 1001.4 933.1 1007.5 934.7 1001.5 936.3 998.5 937.9 1007.6 939.5 1003.1 941.1 1008.2 942.7 1001.2 944.3 1008.9 945.9 1004.2 947.5 1002.6 949.1 1008.1 950.7 1003.8 952.3 1006.5 953.9 1000.6 955.5 1009.1 957.1 1004.3 958.7 1004.8 960.3 999.6 961.9 1004.5 963.5 1006.3 965.1 1001.5 966.7 1005.3 968.3 1000.7 969.9 1005.5 971.5 1004.8 973.1 1006.7 974.7 1006.6 976.3 1005.7 977.9 1006.9 979.5 1005.8 981.1 1009.1 982.7 1007.1 984.3 1005.5 985.9 1009.2 987.5 1002.4 989.1 1011.4 990.7 1002.1 992.3 1010.4 993.9 1006.5 995.5 1002.7 997.1 1008.8 998.7 1004.6 1000.3 1008.4 1001.9 1003.3 1003.5 1013.9 1005.1 1004.2 1006.7 1013.4 1008.3 1008.2 1009.9 1006 1011.5 1014.4 1013.1 1008.4 1014.7 1005.6 1016.3 1010 1017.9 1005.1 1019.5 1014.2 1021.1 1012.1 1022.7 1007 1024.3 1009.2 1025.9 1015.8 1027.5 1013.3 1029.1 1008.7 1030.7 1012 1032.3 1011.4 1033.9 1013.6 1035.5 1016.9 1037.1 1011.9 1038.7 1011.9 1040.3 1012.4 1041.9 1015.8 1043.5 1009.9 1045.1 1016 1046.7 1014.3 1048.3 1008.8 1049.9 1015.1 1051.5 1009.4 1053.1 1013.7 1054.7 1009.6 1056.3 1012.2 1057.9 1017.3 1059.5 1012 1061.1 1013.6 1062.7 1014.1 1064.3 1018 1065.9 1011 1067.5 1016.1 1069.1 1013.2 1070.7 1010.3 1072.3 1019 1073.9 1017.6 1075.5 1022 1077.1 1016.7 1078.7 1014.7 1080.3 1022.2 1081.9 1015.9 1083.5 1022.6 1085.1 1016.7 1086.7 1018.3 1088.3 1012.4 1089.9 1019.4 1091.5 1017.2 1093.1 1020.5 1094.7 1017.7 1096.3 1023.1 1097.9 1020.5 1099.5 1016.3 1101.1 1022.3 1102.7 1022.1 1104.3 1018.9 1105.9 1021.7 1107.5 1020.3 1109.1 1020.9 1110.7 1019.3 1112.3 1020.9 1113.9 1021.5 1115.5 1022.5 1117.1 1025 1118.7 1021.9 1120.3 1020.6 1121.9 1024.5 1123.5 1017.6 1125.1 1024.6 1126.7 1021.8 1128.3 1025.5 1129.9 1022.7 1131.5 1026.3 1133.1 1025.2 1134.7 1019.5 1136.3 1027.2 1137.9 1021.9 1139.5 1026.5 1141.1 1023.2 1142.7 1027.5 1144.3 1023.6 1145.9 1026.9 1147.5 1013.7" fill="none" stroke="#06067a" stroke-width="3.2" stroke-linejoin="round" clip-path="url(#clip102)"/>
<rect x="688.6" y="875.4" width="461.1" height="154.9" fill="none" stroke="#000" stroke-width="2.4"/>
<text x="689.5" y="1066.9" font-size="27.2" text-anchor="middle">-0.2</text>
<line x1="780.9" y1="1022.3" x2="780.9" y2="1030.3" stroke="#000" stroke-width="2"/>
<text x="780.9" y="1066.9" font-size="27.2" text-anchor="middle">0.3</text>
<line x1="873.1" y1="1022.3" x2="873.1" y2="1030.3" stroke="#000" stroke-width="2"/>
<text x="873.1" y="1066.9" font-size="27.2" text-anchor="middle">0.9</text>
<line x1="965.4" y1="1022.3" x2="965.4" y2="1030.3" stroke="#000" stroke-width="2"/>
<text x="965.4" y="1066.9" font-size="27.2" text-anchor="middle">1.4</text>
<line x1="1057.5" y1="1022.3" x2="1057.5" y2="1030.3" stroke="#000" stroke-width="2"/>
<text x="1057.5" y="1066.9" font-size="27.2" text-anchor="middle">1.9</text>
<text x="1150.8" y="1066.9" font-size="27.2" text-anchor="middle">2.4</text>
<line x1="688.6" y1="952.8" x2="694.1" y2="952.8" stroke="#000" stroke-width="1.6"/>
<text x="674" y="887.4" font-size="27.2" text-anchor="end">1.0</text>
<text x="674" y="963.9" font-size="27.2" text-anchor="end">0.9</text>
<text x="674" y="1040.7" font-size="27.2" text-anchor="end">0.8</text>
<text x="1087.5" y="906.1" font-size="27.6" font-weight="700" text-anchor="middle">Jurkat T</text>
<text x="918" y="1105.5" font-size="27.6" font-weight="700" text-anchor="middle">Time (µs)</text>
<text x="631" y="947.8" font-size="34.8" font-weight="700" text-anchor="middle" transform="rotate(-90 631 947.8)">V(t)/V(0)</text>
<clipPath id="clip103"><rect x="1272.6" y="875.9" width="461" height="155.6"/></clipPath>
<path d="M1274.2 919.8 1276 912.8 1277.8 906.3 1279.6 914.5 1281.4 900.8 1283.2 914.4 1285 899.6 1286.8 892.4 1288.6 896.9 1290.4 899.3 1292.2 889.5 1294 890.2 1295.8 894.8 1297.6 881.9 1299.4 893.3 1301.2 877.3 1303 885.5 1304.8 887.6 1306.6 892.7 1308.4 876 1310.2 891 1312 882.4 1313.8 901.7 1315.6 892.3 1317.4 907.5 1319.2 894.8 1321 896.9 1322.8 903.6 1324.6 904.5 1326.4 912.3 1328.2 903.2 1330 919 1331.8 908 1333.6 917.3 1335.4 928.4 1337.2 924 1339 934.2 1340.8 924.1 1342.6 934.3 1344.4 925.3 1346.2 940.8 1348 935.2 1349.8 940.5 1351.6 939.9 1353.4 946.9 1355.2 933 1357 945.1 1358.8 950.6 1360.6 936.1 1362.4 937.9 1364.2 946.7 1366 936.4 1367.8 944.2 1369.6 933.5 1371.4 947.8 1373.2 937.1 1375 946.8 1376.8 934.3 1378.6 952.1 1380.4 936.7 1382.2 940.3 1384 954.7 1385.8 933.8 1387.6 947.8 1389.4 941.6 1391.2 953.7 1393 935.3 1394.8 953.9 1396.6 938 1398.4 947.8 1400.2 938.3 1402 951.1 1403.8 945.3 1405.6 940.1 1407.4 949.8 1409.2 938.3 1411 949.1 1412.8 936 1414.6 944 1416.4 937 1418.2 945.1 1420 934.9 1421.8 948.9 1423.6 932.6 1425.4 939.8 1427.2 937.5 1429 933.1 1430.8 943.1 1432.6 930.2 1434.4 942.5 1436.2 933.1 1438 949.1 1439.8 933.2 1441.6 944.8 1443.4 929.2 1445.2 949.7 1447 929.3 1448.8 937.4 1450.6 936.3 1452.4 948.6 1454.2 948 1456 949.8 1457.8 929.9 1459.6 951 1461.4 945.7 1463.2 937.6 1465 941.9 1466.8 939.5 1468.6 947 1470.4 932.3 1472.2 935.6 1474 945.6 1475.8 932.3 1477.6 945.2 1479.4 935.2 1481.2 935.7 1483 933.6 1484.8 946.1 1486.6 954.1 1488.4 938.3 1490.2 947.3 1492 942.9 1493.8 942.1 1495.6 953.8 1497.4 942.6 1499.2 940 1501 952.1 1502.8 935.7 1504.6 951.3 1506.4 941.4 1508.2 957.2 1510 939 1511.8 954.4 1513.6 949.4 1515.4 945.3 1517.2 957.9 1519 945.2 1520.8 951.6 1522.6 938.9 1524.4 953.1 1526.2 941.8 1528 954.2 1529.8 938.3 1531.6 949.2 1533.4 947.9 1535.2 939.1 1537 952.5 1538.8 939.2 1540.6 945.7 1542.4 940.8 1544.2 948.6 1546 938.3 1547.8 949.4 1549.6 933.2 1551.4 950.1 1553.2 948.7 1553.5 950 1553.8 962.5" fill="none" stroke="#03828f" stroke-width="2.6" stroke-linejoin="round" clip-path="url(#clip103)"/>
<path d="M1274.2 978.2 1275.8 964.4 1277.4 956.1 1279 951 1280.6 951 1282.2 941.5 1283.8 936.7 1285.4 932.5 1287 928 1288.6 925.1 1290.2 919.8 1291.8 910.8 1293.4 913.2 1295 900.8 1296.6 899.4 1298.2 901.4 1299.8 890.3 1301.4 887.4 1302.4 884.9 1303 884.5 1304.6 890 1306.2 888.5 1307.8 893.4 1309.4 897.8 1311 902.9 1312.6 907.1 1314.2 908 1315.8 913.2 1317.4 923.9 1319 918 1320.6 925.8 1322.2 926.3 1323.8 936.1 1325.4 932.1 1327 937.8 1328.6 940.1 1330.2 948.2 1331.8 947.4 1333.4 952.4 1335 959.6 1336.6 958.9 1338.2 965.8 1339.8 966.4 1341.4 974.9 1343 968.4 1344.6 981.8 1346.2 980.6 1347.8 982.5 1349.4 989.4 1351 983.3 1352.6 988.3 1354.2 988.7 1355.8 985.4 1357.4 991.4 1359 991.4 1360.6 993.4 1362.2 990.2 1363.8 994.9 1365.4 994.1 1367 996.5 1368.6 994.1 1370.2 991.4 1371.8 997.6 1373.4 989.8 1375 994 1376.6 993.7 1378.2 993.8 1379.8 990.2 1381.4 993.4 1383 998.4 1384.6 990.5 1386.2 992.2 1387.8 993.9 1389.4 988.2 1391 995.6 1392.6 992 1394.2 987.7 1395.8 994.7 1397.4 989.4 1399 988 1400.6 992.4 1402.2 984.9 1403.8 990.5 1405.4 992.6 1407 989.5 1408.6 991.4 1410.2 989.8 1411.8 989.7 1413.4 991.4 1415 987.1 1416.6 990.2 1418.2 988.8 1419.8 986.3 1421.4 990.3 1423 988.2 1424.6 989.4 1426.2 985.7 1427.8 987.3 1429.4 985.5 1431 982.7 1432.6 990.8 1434.2 983.9 1435.8 990.4 1437.4 987.8 1439 986.4 1440.6 990 1442.2 983.9 1443.8 989.9 1445.4 986 1447 987.4 1448.6 983.1 1450.2 988.2 1451.8 989.9 1453.4 987.8 1455 988.5 1456.6 992.6 1458.2 989.1 1459.8 990.3 1461.4 985.1 1463 990.3 1464.6 987 1466.2 994.2 1467.8 991 1469.4 996.6 1471 993.9 1472.6 992.6 1474.2 997.2 1475.8 992.6 1477.4 991.9 1479 998.3 1480.6 995.7 1482.2 995.1 1483.8 1000.2 1485.4 995.4 1487 997.7 1488.6 997.4 1490.2 998.4 1491.8 999.8 1493.4 994.2 1495 1003.1 1496.6 1000.6 1498.2 997.5 1499.8 1001.3 1501.4 1001.4 1503 1000.6 1504.6 1002.1 1506.2 1003.3 1507.8 999.8 1509.4 1002.9 1511 1002.2 1512.6 1004.6 1514.2 1003.2 1515.8 1004.1 1517.4 1008.3 1519 1004 1520.6 999.6 1522.2 1005.4 1523.8 1003.6 1525.4 1004.1 1527 1008 1528.6 1004.8 1530.2 1006.5 1531.8 1002.4 1533.4 1006.1 1535 1002.7 1536.6 1001 1538.2 1006.2 1539.8 1011.7 1541.4 1005.5 1543 1006 1544.6 1003.4 1546.2 1010.8 1547.8 1001.7 1549.4 1011.1 1551 1002.8 1552.6 1007.2 1554.2 1003 1555.8 1004 1557.4 1008.6 1559 1009.4 1560.6 1003.1 1562.2 1006.5 1563.8 1009.2 1565.4 1004.7 1567 1006.9 1568.6 1007.9 1570.2 1003.2 1571.8 1004.6 1573.4 1008.8 1575 1007.3 1576.6 1006.4 1578.2 1009.2 1579.8 1007.4 1581.4 1009.6 1583 1013.5 1584.6 1004.6 1586.2 1012.6 1587.8 1014 1589.4 1008.5 1591 1009 1592.6 1009 1594.2 1007.9 1595.8 1013 1597.4 1006 1599 1012.2 1600.6 1009.9 1602.2 1012.2 1603.8 1015.1 1605.4 1009.9 1607 1012.5 1608.6 1009.2 1610.2 1013.1 1611.8 1015.2 1613.4 1014 1615 1008.8 1616.6 1008 1618.2 1013.9 1619.8 1014.2 1621.4 1012.9 1623 1015.8 1624.6 1009.3 1626.2 1008.8 1627.8 1015.2 1629.4 1015.2 1631 1016 1632.6 1016 1634.2 1013.6 1635.8 1016.4 1637.4 1013.3 1639 1018.1 1640.6 1016.9 1642.2 1016.8 1643.8 1010.5 1645.4 1016.2 1647 1014.7 1648.6 1013.6 1650.2 1021.3 1651.8 1016.3 1653.4 1021.2 1655 1019.5 1656.6 1016.8 1658.2 1017.2 1659.8 1015.7 1661.4 1018.8 1663 1019.4 1664.6 1017 1666.2 1014.1 1667.8 1018.3 1669.4 1013.4 1671 1016.6 1672.6 1019.7 1674.2 1019.3 1675.8 1019.7 1677.4 1020 1679 1017.5 1680.6 1014.9 1682.2 1019.8 1683.8 1021.4 1685.4 1018 1687 1022.2 1688.6 1023 1690.2 1021.7 1691.8 1021.3 1693.4 1018.6 1695 1024.1 1696.6 1021.3 1698.2 1026 1699.8 1020.4 1701.4 1025.7 1703 1028.3 1704.6 1024.1 1706.2 1025.3 1707.8 1020.5 1709.4 1020.4 1711 1029.9 1712.6 1023.6 1714.2 1026.2 1715.8 1026 1717.4 1026.7 1719 1025.8 1720.6 1026.6 1722.2 1026.6 1723.8 1025.6 1725.4 1026.9 1727 1019.9 1728.6 1027.2 1730.2 1016.6" fill="none" stroke="#06067a" stroke-width="3.2" stroke-linejoin="round" clip-path="url(#clip103)"/>
<rect x="1272.6" y="877.9" width="460" height="153.6" fill="none" stroke="#000" stroke-width="2.4"/>
<text x="1274.2" y="1068.1" font-size="27.2" text-anchor="middle">-0.2</text>
<line x1="1364.9" y1="1023.5" x2="1364.9" y2="1031.5" stroke="#000" stroke-width="2"/>
<text x="1364.9" y="1068.1" font-size="27.2" text-anchor="middle">0.3</text>
<line x1="1456.6" y1="1023.5" x2="1456.6" y2="1031.5" stroke="#000" stroke-width="2"/>
<text x="1456.6" y="1068.1" font-size="27.2" text-anchor="middle">0.9</text>
<line x1="1548.6" y1="1023.5" x2="1548.6" y2="1031.5" stroke="#000" stroke-width="2"/>
<text x="1548.6" y="1068.1" font-size="27.2" text-anchor="middle">1.4</text>
<line x1="1640.4" y1="1023.5" x2="1640.4" y2="1031.5" stroke="#000" stroke-width="2"/>
<text x="1640.4" y="1068.1" font-size="27.2" text-anchor="middle">1.9</text>
<text x="1732" y="1068.1" font-size="27.2" text-anchor="middle">2.4</text>
<line x1="1272.6" y1="954.7" x2="1278.1" y2="954.7" stroke="#000" stroke-width="1.6"/>
<text x="1259.3" y="889.9" font-size="27.2" text-anchor="end">1.0</text>
<text x="1259.3" y="965.4" font-size="27.2" text-anchor="end">0.9</text>
<text x="1259.3" y="1042.4" font-size="27.2" text-anchor="end">0.8</text>
<text x="1663.5" y="911.1" font-size="27.6" font-weight="700" text-anchor="middle">HeLa</text>
<text x="1527" y="1104.3" font-size="27.6" font-weight="700" text-anchor="middle">Time (µs)</text>
<text x="1214.5" y="949.1" font-size="34.8" font-weight="700" text-anchor="middle" transform="rotate(-90 1214.5 949.1)">V(t)/V(0)</text>
</svg></body></html>
